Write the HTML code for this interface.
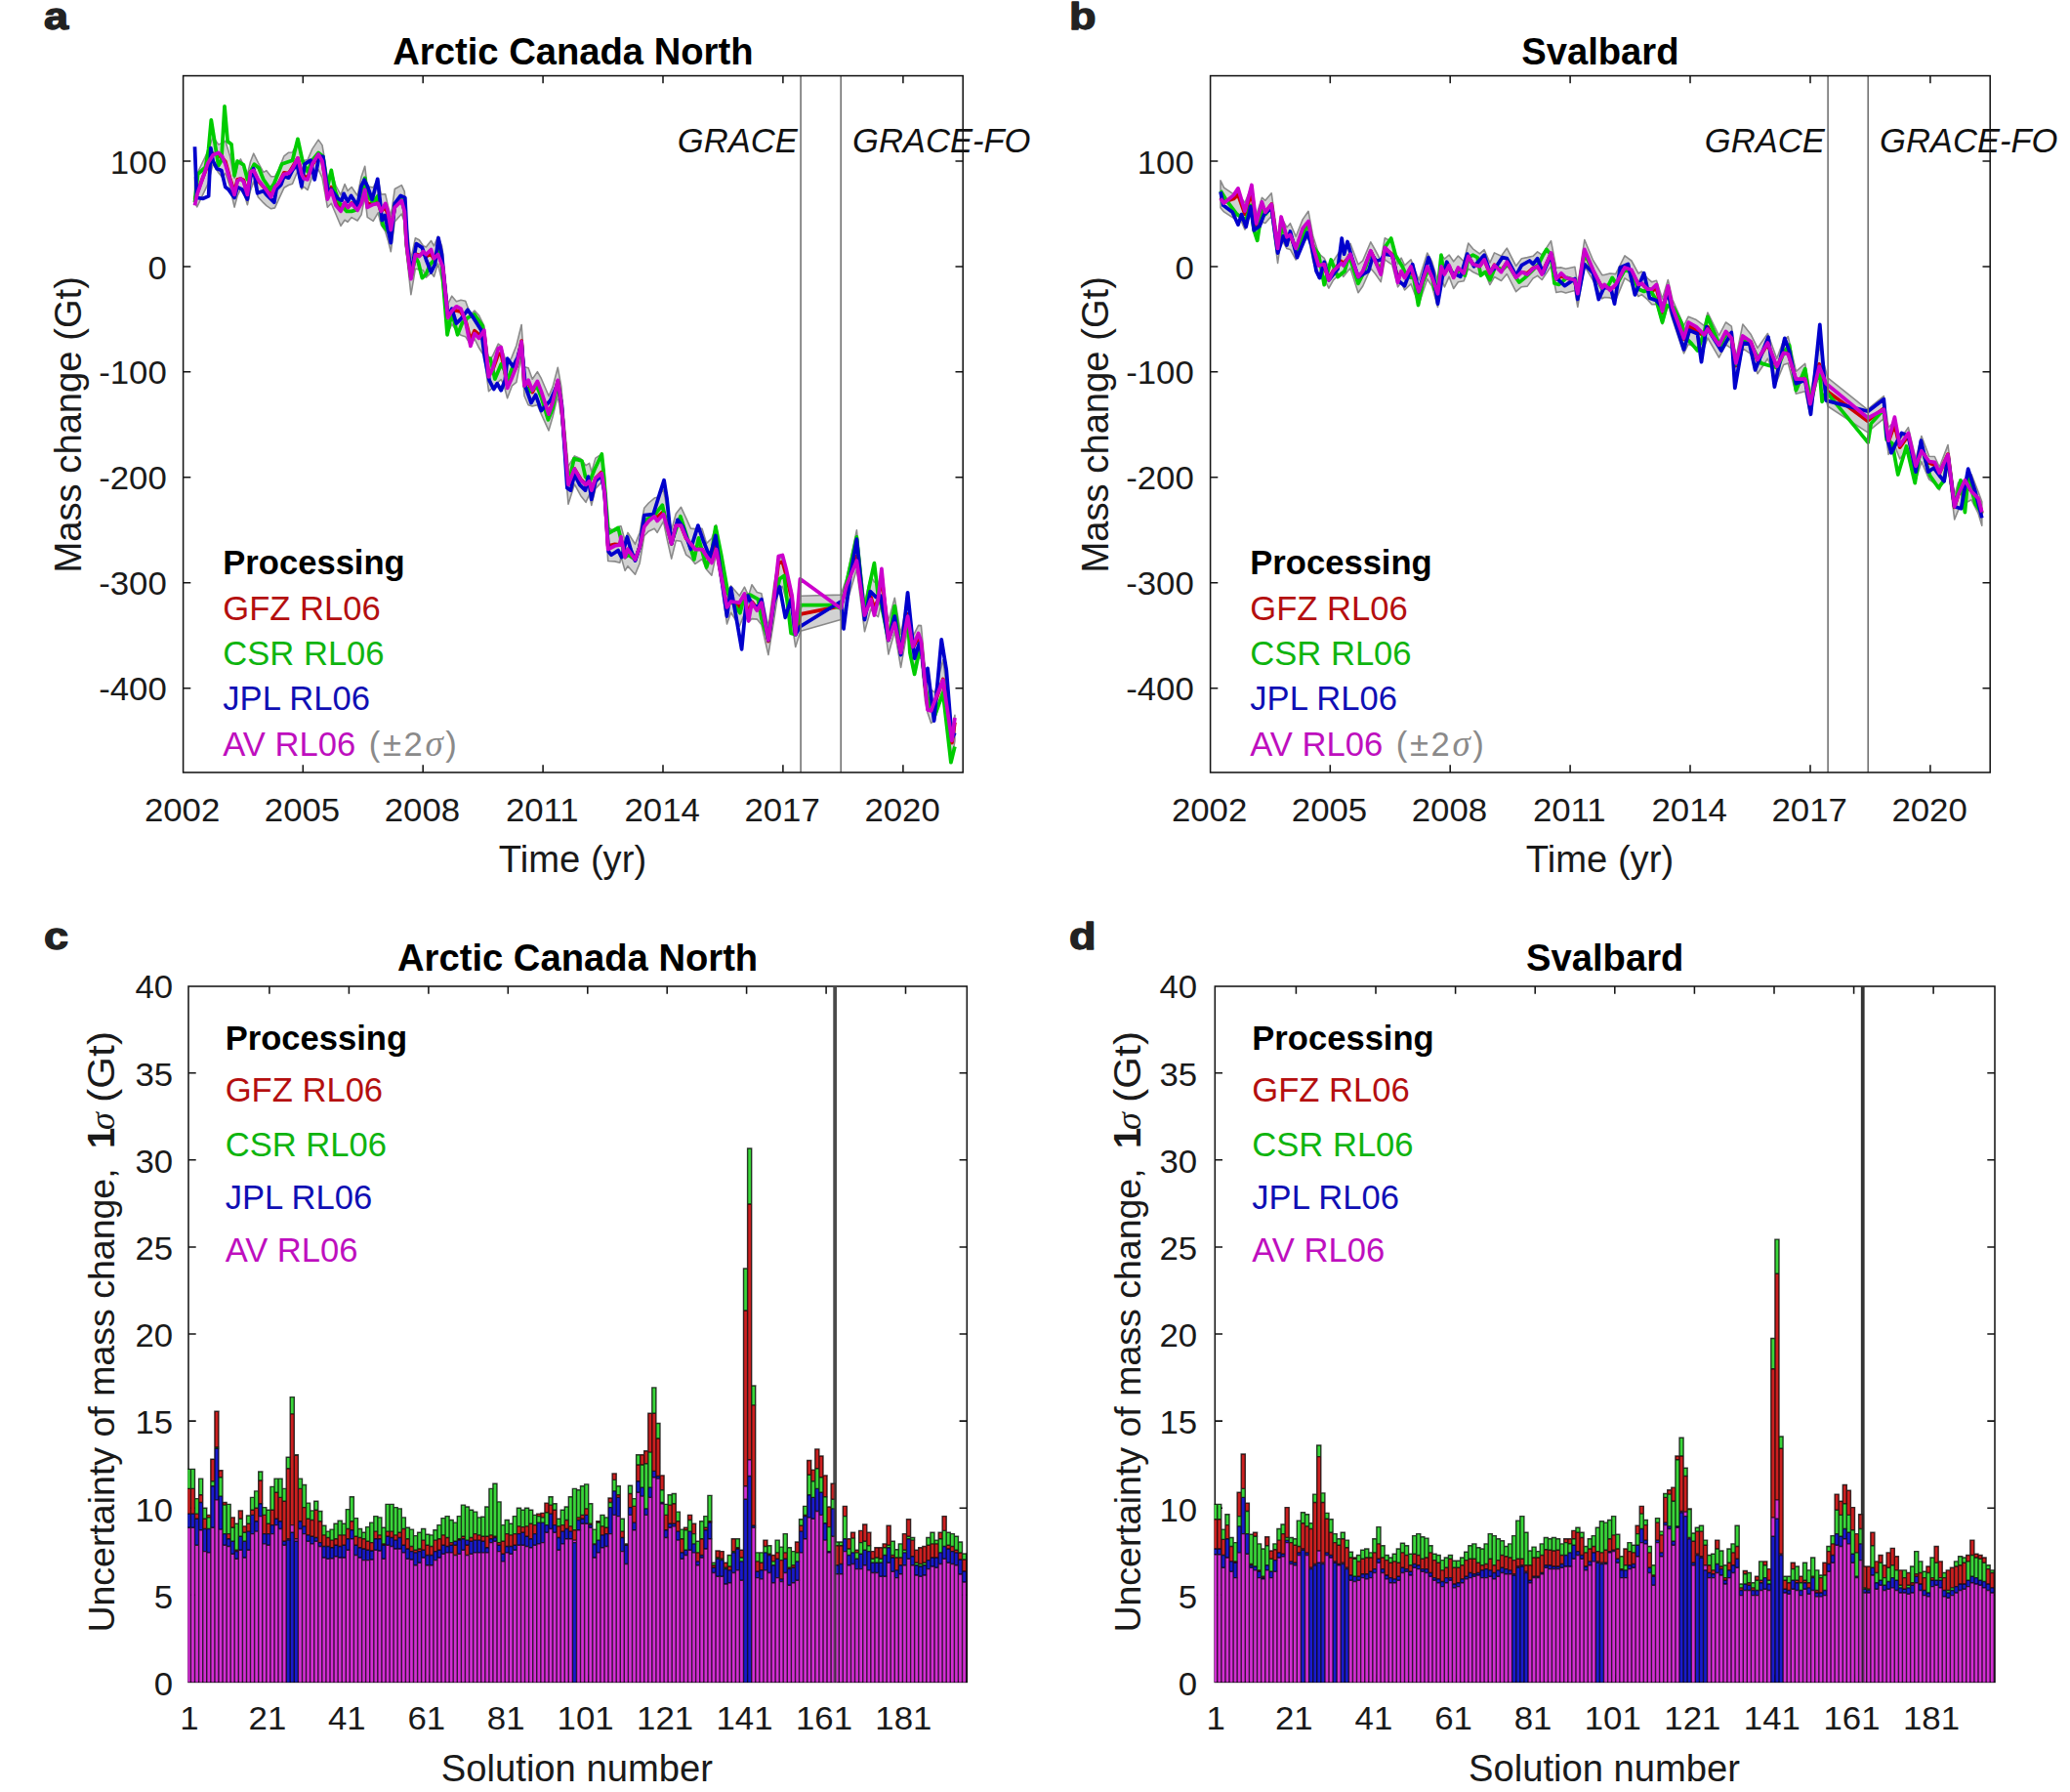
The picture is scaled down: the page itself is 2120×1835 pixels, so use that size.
<!DOCTYPE html>
<html lang="en"><head><meta charset="utf-8"><title>GRACE mass change</title>
<style>html,body{margin:0;padding:0;background:#fff}svg{display:block}</style></head><body>
<svg width="2120" height="1835" viewBox="0 0 2120 1835">
<rect width="2120" height="1835" fill="#fff"/>
<path d="M199.5 181.4 L201.8 178 L212.8 155.1 L218.2 140.3 L223.7 148 L227.6 146.6 L230.8 144.3 L235.4 159.2 L240.1 182.5 L243.2 169.6 L246.4 162.9 L249.5 169 L253.4 178.6 L256.5 165.5 L259.7 157.2 L264.3 166.3 L269.8 176.4 L272.9 174.7 L277.6 180.8 L281.5 180.8 L285.4 173.6 L290.9 159.8 L295.6 156.2 L299.5 156 L305 145.8 L308.9 161.6 L311.2 164.6 L315.1 163.6 L319.8 152.6 L326.1 143.1 L330 148.6 L333.1 166.5 L335.4 184.1 L339.3 173.7 L344 190.4 L349 199.6 L353.1 188.6 L356.1 195.4 L360.1 191.5 L366.1 200.4 L370.1 180.9 L373.7 170.2 L376.2 190.9 L382.2 192 L387.2 183.5 L390.2 199 L394.7 198.8 L397.3 210.7 L400.3 221.4 L404.3 193.5 L411.3 189.6 L414.3 196.1 L416.3 226.7 L420.9 265.4 L425.4 243.7 L429.4 245.7 L433.4 251.6 L436.4 253 L441.5 246.5 L444.5 251.9 L448.5 242 L452.5 251.8 L453.5 258.5 L458.7 311.3 L462.8 303.2 L467.4 308.7 L472 307.2 L476.7 308.2 L481.9 322.4 L486 318 L490.6 323 L495.8 333.6 L500.5 368.8 L504.5 364.6 L510.3 352.2 L513.2 354.2 L516.1 363.3 L519.6 374.5 L524.3 365.3 L528.9 353.7 L534.1 332.5 L537 375.8 L541.1 376.7 L545.2 388.3 L550.4 380.6 L554.4 387.7 L562 405.5 L566 396.4 L571.3 376.3 L574.8 396 L582 477.7 L588.4 466.9 L594.8 469.8 L600 476.7 L603.5 474.3 L605.8 483.1 L609.9 469.1 L616.3 464.9 L619.2 485.9 L622.7 540.1 L629.6 544.2 L634.9 538.7 L636 538.7 L640.1 553.8 L643 545.4 L650.5 557.3 L655.2 545.2 L659.8 520.2 L664.4 515 L670.2 510.1 L673.1 509.3 L679.5 501.6 L683 519.8 L687.7 542.6 L692.3 525.9 L697.5 519.3 L702.7 530.6 L707.4 541.1 L712 541.6 L719 541.2 L723.6 556.4 L728.9 551.4 L733.5 537.6 L738.7 572.1 L744.5 606.9 L748.6 599.9 L757.3 610.1 L762.5 601.1 L766.6 610.2 L770 598.7 L775.3 606.5 L779.9 607.8 L786.9 642.2 L792.7 598.6 L797.3 571.9 L801.4 571.9 L805.4 583.5 L811.2 607.2 L814.7 635.1 L819.9 610.2 L861.1 609.1 L866.9 592.4 L877.4 542.8 L885.5 616.8 L891.9 589.8 L895.4 596 L899.4 597.6 L902.9 588 L909.9 636.2 L916.3 612.2 L922.6 649.1 L929.6 612.1 L934.8 652.2 L940.6 640.4 L943.4 640.6 L947.5 685.2 L950 695.6 L953.6 706.4 L957.6 709.1 L965.8 675.5 L974.9 748 L977.9 732.3 L977.9 758.8 L974.9 776.4 L965.8 704 L957.6 737.1 L953.6 740.5 L950 729.7 L947.5 717.9 L943.4 675.1 L940.6 671.8 L934.8 685.1 L929.6 643.8 L922.6 683.4 L916.3 646.6 L909.9 670 L902.9 615.6 L899.4 631.6 L895.4 628.7 L891.9 623.8 L885.5 646.7 L877.4 582.5 L866.9 618.7 L861.1 634.6 L819.9 646.2 L814.7 662.5 L811.2 638.7 L805.4 615.2 L801.4 600.4 L797.3 604.5 L792.7 634.6 L786.9 670.5 L779.9 639.7 L775.3 634.1 L770 633.6 L766.6 637 L762.5 628.5 L757.3 641.1 L748.6 627.3 L744.5 638.9 L738.7 598.7 L733.5 567.4 L728.9 589.2 L723.6 583.3 L719 572.5 L712 577.4 L707.4 571.5 L702.7 568.1 L697.5 554.3 L692.3 553.5 L687.7 572.1 L683 551.4 L679.5 533.8 L673.1 545.3 L670.2 541.2 L664.4 543.9 L659.8 548.7 L655.2 576.7 L650.5 588.2 L643 579.7 L640.1 584.4 L636 570 L634.9 576.2 L629.6 574.9 L622.7 574.5 L619.2 514.9 L616.3 493.4 L609.9 500.4 L605.8 517.4 L603.5 506.5 L600 514.3 L594.8 507.7 L588.4 495.8 L582 516.3 L574.8 426.7 L571.3 405.1 L566 427 L562 440.9 L554.4 424.1 L550.4 414.8 L545.2 415.9 L541.1 414.8 L537 405.5 L534.1 363.4 L528.9 391.4 L524.3 395.2 L519.6 407.7 L516.1 394.3 L513.2 388.5 L510.3 391.1 L504.5 397 L500.5 400.6 L495.8 364.5 L490.6 356.3 L486 346.9 L481.9 353.2 L476.7 344.7 L472 343.2 L467.4 338.8 L462.8 331.8 L458.7 340.9 L453.5 295.3 L452.5 287.1 L448.5 270 L444.5 283.2 L441.5 279.3 L436.4 284.2 L433.4 276.7 L429.4 275.9 L425.4 275.2 L420.9 301.6 L416.3 259.4 L414.3 227.6 L411.3 219 L404.3 227 L400.3 257.7 L397.3 245.9 L394.7 237.2 L390.2 230 L387.2 217.8 L382.2 226.4 L376.2 222.4 L373.7 201.4 L370.1 219.9 L366.1 226 L360.1 222.6 L356.1 227.2 L353.1 225.3 L349 231.3 L344 219.2 L339.3 208.3 L335.4 212.3 L333.1 199.3 L330 182.2 L326.1 173.5 L319.8 180.6 L315.1 194.5 L311.2 191.4 L308.9 193.6 L305 174.7 L299.5 188.2 L295.6 189.5 L290.9 192.3 L285.4 204.2 L281.5 212.9 L277.6 213.8 L272.9 210.6 L269.8 207.7 L264.3 201.8 L259.7 186.1 L256.5 195.2 L253.4 209.8 L249.5 196.6 L246.4 193.7 L243.2 200.3 L240.1 212.1 L235.4 191.2 L230.8 177.5 L227.6 181.4 L223.7 176.8 L218.2 167.8 L212.8 188.6 L201.8 211.9 L199.5 206.7Z" fill="#d2d2d2" stroke="#8a8a8a" stroke-width="1.6" stroke-linejoin="round"/>
<polyline points="199.5,204.1 201.8,197.3 212.8,168.7 218.2,157.3 223.7,158.9 227.6,161.8 230.8,165.4 235.4,182.2 240.1,196.9 243.2,183.9 246.4,183.1 249.5,184.4 253.4,199.4 256.5,175.7 259.7,174.4 264.3,185.1 269.8,191.3 272.9,194.1 277.6,200.1 281.5,192.2 285.4,187.9 290.9,176.9 295.6,177.7 299.5,171.2 305,161.9 308.9,176.6 311.2,180.1 315.1,182.2 319.8,168.8 326.1,159.4 330,164.8 333.1,183 335.4,202 339.3,191.8 344,208 349,213.7 353.1,207.9 356.1,212.6 360.1,207.9 366.1,213.8 370.1,206.5 373.7,193 376.2,209.1 382.2,208.4 387.2,206.4 390.2,216.4 394.7,212.1 397.3,219.9 400.3,236.7 404.3,210.7 411.3,205.2 414.3,214.8 416.3,248.8 420.9,284 425.4,259.9 429.4,261.6 433.4,259.2 436.4,262.5 441.5,260.1 444.5,265.5 448.5,258.3 452.5,270 453.5,273.7 458.7,325.6 462.8,318.4 467.4,318 472,319.3 476.7,327.8 481.9,348.5 486,338.8 490.6,342.7 495.8,341.2 500.5,383.9 504.5,378.9 510.3,362.7 513.2,361.9 516.1,375.5 519.6,394.6 524.3,384.1 528.9,375 534.1,349.1 537,392.9 541.1,391.8 545.2,401.6 550.4,392.1 554.4,404.1 562,424.2 566,411.9 571.3,390.2 574.8,413.3 582,496.4 588.4,480.1 594.8,490.8 600,496.1 603.5,493.9 605.8,502.6 609.9,489.8 616.3,483.4 619.2,502.8 622.7,559.1 629.6,557.4 634.9,557.9 636,552.6 640.1,568.3 643,562.5 650.5,573.5 655.2,559.7 659.8,537.6 664.4,531.8 670.2,528.7 673.1,529.5 679.5,524 683,537.1 687.7,556.9 692.3,538 697.5,538.2 702.7,551.4 707.4,556.9 712,562.2 719,562.2 723.6,570.2 728.9,574.4 733.5,559.4 738.7,589.1 744.5,621.9 748.6,614.1 757.3,622.3 762.5,610.6 766.6,629.9 770,616.2 775.3,622.8 779.9,619.5 786.9,656.6 792.7,613.2 797.3,576.1 801.4,575.3 805.4,589.7 811.2,614.8 814.7,649.1 819.9,628.8 861.1,620.7 866.9,600.9 877.4,569.5 885.5,629.3 891.9,611.2 895.4,622.9 899.4,613.9 902.9,588.9 909.9,655 916.3,635.8 922.6,668 929.6,628.9 934.8,663.3 940.6,652.5 943.4,659 947.5,702.2 950,722.5 953.6,726.3 957.6,719.3 965.8,695.5 974.9,760.7 977.9,739.7" fill="none" stroke="#cc0000" stroke-width="3.75" stroke-linejoin="round" stroke-linecap="butt" />
<polyline points="199.5,207.2 202.6,178.3 210.4,171.2 213.6,152.5 216.3,122.8 219.8,144.7 223.7,169.7 226.8,164.2 230,108.8 233.1,144.7 237,147.8 240.1,179.8 243.2,165 249.5,168.9 253.4,183.8 256.5,175.9 260.4,168.1 265.1,172 269.8,183.8 276.8,193.9 280.8,187.7 288.6,168.1 299.5,164.2 305,142.3 309.7,164.2 315.1,175.9 319.8,164.2 326.1,156.4 330.8,160.3 335.4,191.6 339.3,174.4 343.2,195.5 348,208.4 355.1,216.4 360.1,216.4 366.1,214.4 370.1,196.3 373.7,182.3 376.2,200.4 382.2,207.4 387.2,200.4 392.2,230.5 396.3,235.5 400.3,240.5 404.3,210.4 411.3,204.4 414.3,216.4 416.3,250.6 420.9,284.7 425.4,262.6 428.4,268.7 432.4,284.7 436.4,280.7 440.5,270.7 445.5,265.7 449,250.6 452.5,270.7 453.5,284.8 458.1,342.8 462.8,319.6 468.6,342.8 473.2,331.2 479,325.4 486,322 494.1,333.6 498.7,366 502.2,367.2 506.9,388.1 513.2,373 516.1,377.7 519.6,389.3 524.3,377.7 528.9,375.3 534.1,351 537,395.1 542.8,400.9 549.8,395.1 554.4,406.7 561.4,429.9 566,418.3 571.3,390.4 574.8,412.5 582,496.3 587.9,469.6 596,472 599.5,488.2 604.1,492.8 608.7,481.2 616.3,465 618,481.2 623.2,546.2 633.1,540.4 635.4,549.7 640.1,570.6 643.6,568.3 650.5,572.9 655.2,560.1 659.8,533.5 670.2,527.7 678.4,517.2 683,539.3 687.7,555.5 696.9,528.8 703.9,550.9 710.9,572.9 715.5,550.9 723.6,581 729.4,562.5 732.9,539.3 738.7,568.3 745.7,608 749.7,616 757.9,627.7 762.5,610.2 768.3,609.1 776.4,613.7 779.9,633.5 786.9,655.5 792.7,616 798.5,592.8 803.1,589.4 810.1,648.5 814.7,649.7 819.9,619.5 851.9,619.5 861.1,623 866.9,597.5 877.4,549.9 885.5,630 890.1,601 895.4,576.6 899.4,610.2 902.9,620.7 909.9,655.5 916.3,620.7 922.6,668.3 929.6,631.1 931.9,668.3 936.6,690.3 942.4,662.5 943.4,660.9 947.5,701.5 951.5,721.9 957.6,732 965.8,709.7 973.9,780.7 977.9,764.5" fill="none" stroke="#00cc00" stroke-width="3.75" stroke-linejoin="round" stroke-linecap="butt" />
<polyline points="199.5,150.2 201.5,202.5 208.1,203.3 213.6,200.9 215.9,151.7 218.2,165 222.2,172.8 226.8,174.4 230.8,191.6 233.9,193.9 237.8,199.4 240.1,202.5 243.2,191.6 247.9,193.9 253.4,204.1 256.5,182.2 259.7,172.8 263.6,197.8 269.8,195.5 272.9,199.4 280.8,207.2 283.1,193.9 287.8,189.2 290.9,180.6 295.6,182.2 299.5,174.4 304.2,168.1 308.9,190.8 312,168.1 318.2,164.2 322.2,183.8 326.8,160.3 330.8,160.3 333.9,183.8 336.2,195.5 339.3,193.9 346,203.4 350,205.4 352.1,198.4 356.1,206.4 359.6,200.4 366.1,210.4 370.1,190.3 373.1,184.3 376.2,190.3 381.2,204.4 386.7,183.3 389.2,205.4 391.2,225.5 394.2,220.5 400.3,248.6 404.3,208.4 410.3,200.4 414.8,202.4 417.3,250.6 420.9,280.7 426.4,249.6 432.4,253.6 436.4,265.7 441.5,278.7 445.5,270.7 449,243.6 452.5,260.6 453.5,273.2 458.7,324.3 462.8,316.1 467.4,331.2 472,326.6 479,317.3 484.8,325.4 492.9,338.2 496.4,366 501.1,389.3 505.7,398.5 509.2,392.7 513.2,399.7 517.3,389.3 519.6,367.2 525.4,375.3 530.1,366 534.1,352.1 538.2,396.2 544,412.5 548.6,404.3 554.4,420.6 563.7,410.1 571.3,392.7 575.3,414.8 580.9,499.8 584.4,502.1 588.4,485.9 593.7,496.3 599.5,502.1 602.4,488.2 605.8,511.4 609.9,492.8 615.7,487 619.2,504.4 623.2,564.8 626.1,568.3 633.1,563.6 636.6,570.6 642.4,549.7 645.9,562.5 650.5,574.1 655.2,560.1 659.8,527.7 669.1,526.5 676,504.4 680.1,491.7 683,510.2 687.7,556.7 694,532.3 699.3,539.3 707.4,562.5 710.9,550.9 714.9,538.1 720.1,553.2 727.1,570.6 732.9,548.5 738.7,590.3 744.5,631.1 748.6,602.1 753.2,627.7 759.6,664.8 763.7,621.9 766,610.2 770.6,619.5 776.4,621.9 779.9,613.7 786.9,655.5 792.7,616 798.5,601 804.3,632.3 810.1,613.7 814.7,649.7 819.4,641.6 861.1,616 864,643.9 870.4,592.8 877.4,552.2 885.5,634.6 891.3,605.6 897.1,611.4 901.8,610.2 909.9,655.5 916.3,631.1 922.6,670.6 929.6,606.8 936.6,674.1 941.4,658.9 944.4,671.1 947.5,701.5 950,684.3 956.6,738.1 964.2,654.8 969.3,686.3 974.9,756.4 977.9,750.3" fill="none" stroke="#0000cc" stroke-width="3.75" stroke-linejoin="round" stroke-linecap="butt" />
<polyline points="199.5,210.3 201.8,199.4 212.8,167.3 218.2,158.8 223.7,156.4 227.6,160.3 230.8,168.1 235.4,183.8 240.1,199.4 243.2,185.3 246.4,183 249.5,186.1 253.4,199.4 256.5,175.9 259.7,174.4 264.3,183.8 269.8,190.8 272.9,194.7 277.6,201.7 281.5,191.6 285.4,187.7 290.9,178.3 295.6,177.5 299.5,172.8 305,161.9 308.9,178.3 311.2,183 315.1,183.8 319.8,168.1 326.1,158 330,165 333.1,183.8 335.4,204.1 339.3,194.7 344,210.4 349,216.4 353.1,207.4 356.1,212.4 360.1,208.4 366.1,215.4 370.1,208.4 373.7,194.3 376.2,212.4 382.2,209.4 387.2,208.4 390.2,216.4 394.7,208.4 397.3,216.4 400.3,235.5 404.3,212.4 411.3,205.4 414.3,216.4 416.3,250.6 420.9,285.7 425.4,260.6 429.4,262.6 433.4,257.6 436.4,260.6 441.5,255.6 444.5,264.7 448.5,260.6 452.5,270.7 453.5,273.2 458.7,325.4 462.8,318.5 467.4,313.8 472,316.1 476.7,328.9 481.9,354.4 486,341.7 490.6,346.3 495.8,338.2 500.5,385.8 504.5,377.7 510.3,356.8 513.2,355.6 516.1,371.9 519.6,397.4 524.3,386.9 528.9,375.3 534.1,349.8 537,395.1 541.1,389.3 545.2,399.7 550.4,390.4 554.4,400.9 562,424.1 566,412.5 571.3,389.3 574.8,412.5 582,496.3 588.4,480.1 594.8,491.7 600,496.3 603.5,492.8 605.8,502.1 609.9,489.4 616.3,484.7 619.2,504.4 622.7,562.5 629.6,559 634.9,557.8 636,549.7 640.1,570.6 643,562.5 650.5,572.9 655.2,560.1 659.8,539.3 664.4,533.5 670.2,528.8 673.1,533.5 679.5,526.5 683,539.3 687.7,556.7 692.3,538.1 697.5,538.1 702.7,550.9 707.4,556.7 712,562.5 719,562.5 723.6,569.4 728.9,576.4 733.5,562.5 738.7,590.3 744.5,621.9 748.6,616 757.3,617.2 762.5,607.9 766.6,635.8 770,617.2 775.3,625.3 779.9,617.2 786.9,655.5 792.7,613.7 797.3,569.6 801.4,568.5 805.4,583.6 811.2,610.2 814.7,649.7 819.4,592.8 861.1,623 866.9,599.8 877.4,574.3 885.5,630 891.9,613.7 895.4,630 899.4,613.7 902.9,582.4 909.9,655.5 916.3,638.1 922.6,668.3 929.6,631.1 934.8,662.5 940.6,648.5 943.4,656.9 947.5,701.5 950,726.9 953.6,727.9 957.6,716.8 965.8,696.5 974.9,758.4 977.9,735.1" fill="none" stroke="#cc00cc" stroke-width="3.75" stroke-linejoin="round" stroke-linecap="butt" />
<line x1="820.1" y1="77.6" x2="820.1" y2="791" stroke="#737373" stroke-width="1.6"/>
<line x1="861.2" y1="77.6" x2="861.2" y2="791" stroke="#737373" stroke-width="1.6"/>
<rect x="187.6" y="77.6" width="798.6" height="713.4" fill="none" stroke="#151515" stroke-width="1.55"/>
<path d="M310.3 791v-7.7M310.3 77.6v7.7M433.2 791v-7.7M433.2 77.6v7.7M556.1 791v-7.7M556.1 77.6v7.7M679 791v-7.7M679 77.6v7.7M801.9 791v-7.7M801.9 77.6v7.7M924.9 791v-7.7M924.9 77.6v7.7M187.6 164.9h7.7M986.2 164.9h-7.7M187.6 272.9h7.7M986.2 272.9h-7.7M187.6 380.8h7.7M986.2 380.8h-7.7M187.6 488.8h7.7M986.2 488.8h-7.7M187.6 596.8h7.7M986.2 596.8h-7.7M187.6 704.7h7.7M986.2 704.7h-7.7" stroke="#151515" stroke-width="1.55" fill="none"/>
<text transform="translate(186.6 841) scale(1.03 1)" font-size="33.8" text-anchor="middle" font-weight="normal" font-style="normal" fill="#1a1a1a" font-family='"Liberation Sans", Arial, Helvetica, sans-serif' >2002</text>
<text transform="translate(309.5 841) scale(1.03 1)" font-size="33.8" text-anchor="middle" font-weight="normal" font-style="normal" fill="#1a1a1a" font-family='"Liberation Sans", Arial, Helvetica, sans-serif' >2005</text>
<text transform="translate(432.4 841) scale(1.03 1)" font-size="33.8" text-anchor="middle" font-weight="normal" font-style="normal" fill="#1a1a1a" font-family='"Liberation Sans", Arial, Helvetica, sans-serif' >2008</text>
<text transform="translate(555.3 841) scale(1.03 1)" font-size="33.8" text-anchor="middle" font-weight="normal" font-style="normal" fill="#1a1a1a" font-family='"Liberation Sans", Arial, Helvetica, sans-serif' >2011</text>
<text transform="translate(678.2 841) scale(1.03 1)" font-size="33.8" text-anchor="middle" font-weight="normal" font-style="normal" fill="#1a1a1a" font-family='"Liberation Sans", Arial, Helvetica, sans-serif' >2014</text>
<text transform="translate(801.1 841) scale(1.03 1)" font-size="33.8" text-anchor="middle" font-weight="normal" font-style="normal" fill="#1a1a1a" font-family='"Liberation Sans", Arial, Helvetica, sans-serif' >2017</text>
<text transform="translate(924.1 841) scale(1.03 1)" font-size="33.8" text-anchor="middle" font-weight="normal" font-style="normal" fill="#1a1a1a" font-family='"Liberation Sans", Arial, Helvetica, sans-serif' >2020</text>
<text transform="translate(170.8 177.5) scale(1.03 1)" font-size="33.8" text-anchor="end" font-weight="normal" font-style="normal" fill="#1a1a1a" font-family='"Liberation Sans", Arial, Helvetica, sans-serif' >100</text>
<text transform="translate(170.8 285.5) scale(1.03 1)" font-size="33.8" text-anchor="end" font-weight="normal" font-style="normal" fill="#1a1a1a" font-family='"Liberation Sans", Arial, Helvetica, sans-serif' >0</text>
<text transform="translate(170.8 393.4) scale(1.03 1)" font-size="33.8" text-anchor="end" font-weight="normal" font-style="normal" fill="#1a1a1a" font-family='"Liberation Sans", Arial, Helvetica, sans-serif' >-100</text>
<text transform="translate(170.8 501.4) scale(1.03 1)" font-size="33.8" text-anchor="end" font-weight="normal" font-style="normal" fill="#1a1a1a" font-family='"Liberation Sans", Arial, Helvetica, sans-serif' >-200</text>
<text transform="translate(170.8 609.4) scale(1.03 1)" font-size="33.8" text-anchor="end" font-weight="normal" font-style="normal" fill="#1a1a1a" font-family='"Liberation Sans", Arial, Helvetica, sans-serif' >-300</text>
<text transform="translate(170.8 717.3) scale(1.03 1)" font-size="33.8" text-anchor="end" font-weight="normal" font-style="normal" fill="#1a1a1a" font-family='"Liberation Sans", Arial, Helvetica, sans-serif' >-400</text>
<text x="586.9" y="65.5" font-size="38.2" text-anchor="middle" font-weight="bold" font-style="normal" fill="#000" font-family='"Liberation Sans", Arial, Helvetica, sans-serif' >Arctic Canada North</text>
<text x="586.5" y="893.3" font-size="38.2" text-anchor="middle" font-weight="normal" font-style="normal" fill="#1a1a1a" font-family='"Liberation Sans", Arial, Helvetica, sans-serif' >Time (yr)</text>
<text transform="translate(83.3 434.8) rotate(-90)" font-size="38.2" text-anchor="middle" fill="#1a1a1a" font-family='"Liberation Sans", Arial, Helvetica, sans-serif'>Mass change (Gt)</text>
<text x="693.8" y="156.2" font-size="34.6" text-anchor="start" font-weight="normal" font-style="italic" fill="#111" font-family='"Liberation Sans", Arial, Helvetica, sans-serif' >GRACE</text>
<text x="873" y="156.2" font-size="34.6" text-anchor="start" font-weight="normal" font-style="italic" fill="#111" font-family='"Liberation Sans", Arial, Helvetica, sans-serif' >GRACE-FO</text>
<text x="228.3" y="588.1" font-size="34.6" text-anchor="start" font-weight="bold" font-style="normal" fill="#000" font-family='"Liberation Sans", Arial, Helvetica, sans-serif' >Processing</text>
<text x="228.3" y="634.6" font-size="34.6" text-anchor="start" font-weight="normal" font-style="normal" fill="#b40f0f" font-family='"Liberation Sans", Arial, Helvetica, sans-serif' >GFZ RL06</text>
<text x="228.3" y="681.2" font-size="34.6" text-anchor="start" font-weight="normal" font-style="normal" fill="#0fb40f" font-family='"Liberation Sans", Arial, Helvetica, sans-serif' >CSR RL06</text>
<text x="228.3" y="727.2" font-size="34.6" text-anchor="start" font-weight="normal" font-style="normal" fill="#0f0fb4" font-family='"Liberation Sans", Arial, Helvetica, sans-serif' >JPL RL06</text>
<text x="228.3" y="774.1" font-size="34.6" text-anchor="start" font-weight="normal" font-style="normal" fill="#be0fbe" font-family='"Liberation Sans", Arial, Helvetica, sans-serif' >AV RL06</text>
<text x="377.8" y="774.1" font-size="34.6" font-family='"Liberation Sans", Arial, Helvetica, sans-serif' fill="#8a8a8a" textLength="90" lengthAdjust="spacing">(±2<tspan font-style="italic" font-family='"Liberation Serif","DejaVu Serif",serif' font-size="37">σ</tspan>)</text>
<text x="45" y="30.4" font-size="38.5" font-weight="bold" fill="#222" stroke="#222" stroke-width="1.3" stroke-linejoin="round" font-family='"Liberation Sans", Arial, Helvetica, sans-serif' transform="translate(45 0) scale(1.17 1) translate(-45 0)">a</text>
<path d="M1250 184.9 L1253.5 192.2 L1263.4 198.9 L1268 199.1 L1275 207.5 L1281.9 190.6 L1286.6 220.5 L1292.4 202.4 L1295.9 205.3 L1302.2 197.8 L1308.6 243.5 L1312.1 222.2 L1317.9 232.9 L1321.4 228.7 L1327.2 242.2 L1334.2 224.6 L1340 216.3 L1344.6 241.2 L1350.4 259.6 L1356.2 264.4 L1360.9 274.1 L1365.5 267.4 L1373.6 255 L1375.9 258.4 L1382.9 249.3 L1391 270.8 L1395.7 266.9 L1403.8 247.8 L1408.4 256 L1414.2 266.8 L1418.3 243.7 L1425.8 247.8 L1431.6 270.4 L1435.1 264.1 L1438.6 271.8 L1445 265.9 L1453.1 286.8 L1461.8 259.1 L1466.5 267.7 L1472.5 287.6 L1476 260.7 L1479.4 265.1 L1484.1 261 L1488.7 267.8 L1493.4 262.1 L1499.2 267.7 L1503.8 249 L1508.5 254.8 L1515.4 259.9 L1520.1 255.7 L1525.9 269.1 L1530.5 258.9 L1537.5 262.3 L1543.3 254.1 L1552.6 272.4 L1558.4 264.7 L1564.2 263.6 L1570 262.3 L1574.6 257.9 L1579.2 261 L1588.5 246.6 L1593.8 274.4 L1599 273.9 L1603.6 275.2 L1612.9 273.2 L1615.8 292 L1622.8 245.6 L1631.5 266.5 L1640.8 281.6 L1643.1 281.5 L1648.9 280 L1654.7 280.6 L1664 261.8 L1670.9 267 L1677.9 280 L1681.4 278 L1687.2 284.8 L1691.8 288.8 L1696.5 287.2 L1702.5 305.9 L1708.3 286.5 L1712.9 306.7 L1724.5 333.3 L1729.2 324.2 L1737.3 327.6 L1745.4 333.6 L1748.9 320.1 L1760.5 343.6 L1767.5 330 L1773.3 334.1 L1777.9 366.2 L1784.9 332 L1793 342.2 L1800 356.4 L1810.4 341.5 L1819.7 367.2 L1826.7 348.3 L1831.3 344.7 L1839.4 380.3 L1848.7 372.4 L1853.9 404.5 L1863.2 354.9 L1871.9 386.9 L1912.5 419.4 L1929.3 405.5 L1934.1 437.7 L1940.4 431.4 L1945.7 450.1 L1954.4 437.7 L1962.1 469.9 L1967.9 446.5 L1975.7 467.2 L1981.4 467.5 L1986.3 478.4 L1995 455.6 L2001.7 507.2 L2005.6 494 L2012.4 491.8 L2019.1 485.9 L2025.9 503.2 L2029.8 513.7 L2029.8 538.3 L2025.9 525.3 L2019.1 511.8 L2012.4 515.2 L2005.6 522.4 L2001.7 531.9 L1995 476.3 L1986.3 501.7 L1981.4 495.1 L1975.7 490.9 L1967.9 472.8 L1962.1 491.6 L1954.4 459.8 L1945.7 469.8 L1940.4 456.3 L1934.1 465.4 L1929.3 428.7 L1912.5 442.6 L1871.9 416 L1863.2 376 L1853.9 425.7 L1848.7 400.7 L1839.4 403.2 L1831.3 371.9 L1826.7 373.5 L1819.7 390.4 L1810.4 367.2 L1800 382.7 L1793 362.3 L1784.9 356.8 L1777.9 389.4 L1773.3 356.9 L1767.5 352.9 L1760.5 366.1 L1748.9 346 L1745.4 356.1 L1737.3 355.6 L1729.2 352.5 L1724.5 361.8 L1712.9 327.3 L1708.3 312.4 L1702.5 331.7 L1696.5 311.6 L1691.8 311.8 L1687.2 306.7 L1681.4 301.6 L1677.9 303.6 L1670.9 289.4 L1664 284.9 L1654.7 307.5 L1648.9 304.9 L1643.1 304.5 L1640.8 305.8 L1631.5 287 L1622.8 272.4 L1615.8 314.3 L1612.9 297.4 L1603.6 299.9 L1599 298.5 L1593.8 299.5 L1588.5 272.8 L1579.2 286.5 L1574.6 282.4 L1570 285.1 L1564.2 293.1 L1558.4 293.7 L1552.6 298.7 L1543.3 280.5 L1537.5 287.5 L1530.5 283.5 L1525.9 291.6 L1520.1 277.8 L1515.4 281.7 L1508.5 278.5 L1503.8 275.2 L1499.2 287.7 L1493.4 288.7 L1488.7 295.5 L1484.1 283.3 L1479.4 293.8 L1476 284.7 L1472.5 314.5 L1466.5 292.9 L1461.8 285.7 L1453.1 311.5 L1445 290.7 L1438.6 297 L1435.1 289.1 L1431.6 293.9 L1425.8 271.2 L1418.3 265.8 L1414.2 288.6 L1408.4 280.2 L1403.8 274.7 L1395.7 293 L1391 299.7 L1382.9 274.5 L1375.9 283.3 L1373.6 279 L1365.5 286.8 L1360.9 295.1 L1356.2 285.5 L1350.4 285.1 L1344.6 266.6 L1340 242.4 L1334.2 249.3 L1327.2 266 L1321.4 255.4 L1317.9 254.5 L1312.1 244.2 L1308.6 269.5 L1302.2 221.2 L1295.9 228.5 L1292.4 227.5 L1286.6 244.6 L1281.9 213.7 L1275 235.1 L1268 218.7 L1263.4 223.4 L1253.5 216.9 L1250 212.8Z" fill="#d2d2d2" stroke="#8a8a8a" stroke-width="1.6" stroke-linejoin="round"/>
<polyline points="1250,202.6 1253.5,207 1263.4,203.5 1268,199.3 1275,219.4 1281.9,196.1 1286.6,231.9 1292.4,210.4 1295.9,217.2 1302.2,209.1 1308.6,255.1 1312.1,225.7 1317.9,243.4 1321.4,240.9 1327.2,255.9 1334.2,236.2 1340,229.1 1344.6,251.8 1350.4,271.4 1356.2,273.8 1360.9,284.8 1365.5,277.3 1373.6,267.5 1375.9,270 1382.9,261.4 1391,285.4 1395.7,278.7 1403.8,257.4 1408.4,266.5 1414.2,278.6 1418.3,254.4 1425.8,260.5 1431.6,286.5 1435.1,278.3 1438.6,283.8 1445,274.4 1453.1,300.7 1461.8,273.6 1466.5,281.6 1472.5,301.3 1476,274 1479.4,279.6 1484.1,272.9 1488.7,283.6 1493.4,275.6 1499.2,278.9 1503.8,263.7 1508.5,270.3 1515.4,272.6 1520.1,265.9 1525.9,280.2 1530.5,271.3 1537.5,277.2 1543.3,269.1 1552.6,283.4 1558.4,278.8 1564.2,279.8 1570,274.6 1574.6,272.4 1579.2,279.9 1588.5,259.9 1593.8,285.9 1599,282.8 1603.6,284.8 1612.9,287.3 1615.8,301.8 1622.8,257.9 1631.5,277.6 1640.8,294.7 1643.1,292.2 1648.9,296 1654.7,292.8 1664,275.2 1670.9,277.8 1677.9,290.9 1681.4,290.3 1687.2,296.5 1691.8,298.3 1696.5,295 1702.5,320.1 1708.3,294.3 1712.9,316.7 1724.5,347.2 1729.2,333.4 1737.3,338.6 1745.4,344.3 1748.9,334.7 1760.5,354.1 1767.5,341.5 1773.3,345.1 1777.9,374.5 1784.9,345.1 1793,350.1 1800,369.3 1810.4,352 1819.7,376.7 1826.7,360.3 1831.3,360.6 1839.4,389.9 1848.7,387.1 1853.9,413.1 1863.2,372.8 1871.9,400.9 1912.5,431 1929.3,418.2 1934.1,452.2 1940.4,434.5 1945.7,458.1 1954.4,445.9 1962.1,479.5 1967.9,460.2 1975.7,474.1 1981.4,476.2 1986.3,484.7 1995,465.1 2001.7,519.4 2005.6,506.5 2012.4,496.4 2019.1,502.5 2025.9,511.3 2029.8,525.7" fill="none" stroke="#cc0000" stroke-width="3.75" stroke-linejoin="round" stroke-linecap="butt" />
<polyline points="1250,195.3 1256.4,205.7 1266.9,219.6 1276.1,225.4 1280.8,210.3 1284.3,235.9 1287.7,246.3 1292.4,215 1295.9,219.6 1302.2,211.5 1308.6,256.8 1313.3,231.2 1319.1,245.2 1322.6,242.8 1328.4,257.9 1335.3,238.2 1340,228.9 1344.6,252.1 1350.4,260.2 1356.2,291.6 1363.2,266 1370.1,283.5 1377.1,277.7 1381.7,261.4 1391,290.4 1396.8,278.8 1403.8,257.9 1409.6,269.5 1414.2,277.7 1418.3,253.3 1424.7,244 1429.3,261.4 1436.3,273 1440.9,283.5 1447.9,284.6 1452.5,312.5 1457.2,289.3 1463,275.3 1467,284.6 1469,296 1472.5,296 1476,261.2 1478.3,278.6 1484.1,272.8 1488.7,282.1 1494.5,276.3 1500.3,282.1 1503.8,263.6 1508.5,261.2 1513.1,263.6 1516.6,282.1 1521.2,278.6 1525.9,286.8 1531.7,272.8 1538.6,276.3 1544.4,270.5 1552.6,284.4 1556,289.1 1561.8,284.4 1570,276.3 1575.8,270.5 1580.4,261.2 1583.9,255.4 1588.5,261.2 1592,290.2 1596.7,291.4 1604.8,284.4 1612.9,286.8 1615.8,301.9 1622.8,258.9 1631.5,277.5 1640.8,296 1647.7,291.4 1651.2,284.4 1655.8,291.4 1664,276.3 1670.9,278.6 1677.9,296 1683.7,298.4 1689.5,296 1696.5,307.7 1699,317.3 1702.5,330.1 1707.1,312.7 1714.1,315 1722.2,331.2 1726.9,346.3 1732.7,352.1 1738.5,359.1 1745.4,340.5 1748.9,324.3 1754.7,338.2 1761.7,354.4 1768.6,340.5 1773.3,347.5 1777.9,373 1784.9,346.3 1793,352.1 1803.4,371.9 1815,375.3 1820.9,376.5 1826.7,361.4 1832.5,353.3 1839.4,399.7 1848.7,377.7 1854.5,412.5 1863.2,376.5 1866.1,411.3 1870.2,400.9 1913.1,453.1 1916.2,433.8 1929.3,419.3 1932.2,450.2 1938,454.1 1943.8,486 1952.5,457 1961.2,494.7 1967.4,456 1976.6,487 1985.3,499.5 1991.1,491.8 1995,467.6 2001.7,518.8 2008,491.8 2012.4,524.6 2015.7,487 2023,515.9 2029.8,525.6" fill="none" stroke="#00cc00" stroke-width="3.75" stroke-linejoin="round" stroke-linecap="butt" />
<polyline points="1250,196.4 1252.9,210.3 1262.2,217.3 1268,230.1 1271.5,219.6 1276.1,232.4 1280.8,211.5 1284.3,235.9 1290.1,231.2 1294.7,219.6 1302.2,212.7 1308.6,259.1 1314.4,241.7 1317.9,251 1321.4,237 1328.4,263.7 1334.2,249.8 1338.8,238.2 1343.4,252.1 1348.1,277.7 1351.6,284.6 1356.2,268.4 1360.9,286.9 1370.1,275.3 1374.2,244 1376.5,260.2 1380,247.5 1384.1,262.6 1391,283.5 1401.5,277.7 1406.1,262.6 1409.6,267.2 1414.2,266 1418.3,260.2 1425.8,261.4 1431.6,286.9 1438.6,292.7 1446.7,270.7 1453.1,298.5 1463,263.7 1467.6,277.7 1472.5,311.1 1477.1,284.4 1481.8,268.2 1486.4,278.6 1495.7,283.3 1502.7,260.1 1509.6,272.8 1520.1,261.2 1525.9,278.6 1531.7,274 1538.6,263.6 1543.3,264.7 1552.6,282.1 1558.4,271.7 1566.5,267 1570,270.5 1574.6,264.7 1580.4,279.8 1588.5,261.2 1593.8,284.4 1602.5,292.6 1612.9,285.6 1615.8,306.5 1622.8,270.5 1631.5,279.8 1637.3,306.5 1643.1,293.7 1650,296 1653.5,311.1 1659.3,274 1667.4,270.5 1674.4,301.9 1683.7,279.8 1689.5,305.3 1696.5,307.7 1702.5,315 1708.3,298.7 1712.9,322 1724.5,357.9 1730.3,338.2 1738.5,341.7 1742.5,370.7 1747.7,334.7 1762.8,359.1 1773.3,340.5 1776.8,397.4 1784.9,351 1791.8,352.1 1797.6,378.8 1811,345.2 1817.4,396.2 1827.8,346.3 1832.5,359.1 1839.4,392.7 1848.7,389.3 1854.5,424.1 1863.8,332.4 1870.2,410.1 1913.1,421.3 1929.3,408.7 1932.2,446.4 1937,463.8 1941.8,454.1 1947.6,443.5 1954.4,446.4 1962.1,483.1 1967.4,451.2 1974.7,483.1 1980.5,479.2 1986.3,487 1991.1,492.8 1995,467.6 2001.7,518.8 2008.5,520.8 2015.7,480.2 2023,503.4 2029.8,530.4" fill="none" stroke="#0000cc" stroke-width="3.75" stroke-linejoin="round" stroke-linecap="butt" />
<polyline points="1250,203.4 1253.5,208 1263.4,199.9 1268,192.9 1275,216.1 1281.9,189.5 1286.6,228.9 1292.4,206.9 1295.9,217.3 1302.2,209.2 1308.6,254.4 1312.1,222 1317.9,242.8 1321.4,240.5 1327.2,254.4 1334.2,233.6 1340,226.6 1344.6,252.1 1350.4,271.9 1356.2,270.7 1360.9,286.9 1365.5,277.7 1373.6,269.5 1375.9,271.9 1382.9,260.2 1391,283.5 1395.7,277.7 1403.8,256.8 1408.4,267.2 1414.2,281.1 1418.3,253.3 1425.8,261.4 1431.6,289.3 1435.1,277.7 1438.6,284.6 1445,273 1453.1,298.5 1461.8,273 1466.5,283.5 1472.5,300.7 1476,272.8 1479.4,281 1484.1,271.7 1488.7,284.4 1493.4,274 1499.2,279.8 1503.8,262.4 1508.5,270.5 1515.4,272.8 1520.1,265.9 1525.9,279.8 1530.5,271.7 1537.5,278.6 1543.3,268.2 1552.6,284.4 1558.4,278.6 1564.2,281 1570,275.2 1574.6,272.8 1579.2,281 1588.5,258.9 1593.8,285.6 1599,279.8 1603.6,284.4 1612.9,286.8 1615.8,300.7 1622.8,255.4 1631.5,276.3 1640.8,294.9 1643.1,291.4 1648.9,297.2 1654.7,291.4 1664,274 1670.9,276.3 1677.9,291.4 1681.4,290.2 1687.2,296 1691.8,296 1696.5,291.4 1702.5,318.5 1708.3,292.9 1712.9,315 1724.5,346.3 1729.2,330.1 1737.3,334.7 1745.4,342.8 1748.9,337 1760.5,353.3 1767.5,339.4 1773.3,346.3 1777.9,371.9 1784.9,344 1793,349.8 1800,368.4 1810.4,351 1819.7,375.3 1826.7,361.4 1831.3,362.6 1839.4,388.1 1848.7,388.1 1853.9,413.6 1863.2,375.3 1870.2,392.7 1913.1,428 1929.3,419.3 1934.1,451.2 1940.4,427.1 1945.7,456 1954.4,443.5 1962.1,477.3 1967.9,461.8 1975.7,472.5 1981.4,473.4 1986.3,484.1 1995,465.7 2001.7,518.8 2005.6,506.3 2012.4,491.8 2019.1,503.4 2025.9,510.1 2029.8,524.6" fill="none" stroke="#cc00cc" stroke-width="3.75" stroke-linejoin="round" stroke-linecap="butt" />
<line x1="1872.1" y1="77.6" x2="1872.1" y2="791" stroke="#737373" stroke-width="1.6"/>
<line x1="1913.2" y1="77.6" x2="1913.2" y2="791" stroke="#737373" stroke-width="1.6"/>
<rect x="1239.6" y="77.6" width="798.6" height="713.4" fill="none" stroke="#151515" stroke-width="1.55"/>
<path d="M1362.3 791v-7.7M1362.3 77.6v7.7M1485.2 791v-7.7M1485.2 77.6v7.7M1608.1 791v-7.7M1608.1 77.6v7.7M1731 791v-7.7M1731 77.6v7.7M1854 791v-7.7M1854 77.6v7.7M1976.9 791v-7.7M1976.9 77.6v7.7M1239.6 164.9h7.7M2038.2 164.9h-7.7M1239.6 272.9h7.7M2038.2 272.9h-7.7M1239.6 380.8h7.7M2038.2 380.8h-7.7M1239.6 488.8h7.7M2038.2 488.8h-7.7M1239.6 596.8h7.7M2038.2 596.8h-7.7M1239.6 704.7h7.7M2038.2 704.7h-7.7" stroke="#151515" stroke-width="1.55" fill="none"/>
<text transform="translate(1238.6 841) scale(1.03 1)" font-size="33.8" text-anchor="middle" font-weight="normal" font-style="normal" fill="#1a1a1a" font-family='"Liberation Sans", Arial, Helvetica, sans-serif' >2002</text>
<text transform="translate(1361.5 841) scale(1.03 1)" font-size="33.8" text-anchor="middle" font-weight="normal" font-style="normal" fill="#1a1a1a" font-family='"Liberation Sans", Arial, Helvetica, sans-serif' >2005</text>
<text transform="translate(1484.4 841) scale(1.03 1)" font-size="33.8" text-anchor="middle" font-weight="normal" font-style="normal" fill="#1a1a1a" font-family='"Liberation Sans", Arial, Helvetica, sans-serif' >2008</text>
<text transform="translate(1607.3 841) scale(1.03 1)" font-size="33.8" text-anchor="middle" font-weight="normal" font-style="normal" fill="#1a1a1a" font-family='"Liberation Sans", Arial, Helvetica, sans-serif' >2011</text>
<text transform="translate(1730.2 841) scale(1.03 1)" font-size="33.8" text-anchor="middle" font-weight="normal" font-style="normal" fill="#1a1a1a" font-family='"Liberation Sans", Arial, Helvetica, sans-serif' >2014</text>
<text transform="translate(1853.2 841) scale(1.03 1)" font-size="33.8" text-anchor="middle" font-weight="normal" font-style="normal" fill="#1a1a1a" font-family='"Liberation Sans", Arial, Helvetica, sans-serif' >2017</text>
<text transform="translate(1976.1 841) scale(1.03 1)" font-size="33.8" text-anchor="middle" font-weight="normal" font-style="normal" fill="#1a1a1a" font-family='"Liberation Sans", Arial, Helvetica, sans-serif' >2020</text>
<text transform="translate(1222.8 177.5) scale(1.03 1)" font-size="33.8" text-anchor="end" font-weight="normal" font-style="normal" fill="#1a1a1a" font-family='"Liberation Sans", Arial, Helvetica, sans-serif' >100</text>
<text transform="translate(1222.8 285.5) scale(1.03 1)" font-size="33.8" text-anchor="end" font-weight="normal" font-style="normal" fill="#1a1a1a" font-family='"Liberation Sans", Arial, Helvetica, sans-serif' >0</text>
<text transform="translate(1222.8 393.4) scale(1.03 1)" font-size="33.8" text-anchor="end" font-weight="normal" font-style="normal" fill="#1a1a1a" font-family='"Liberation Sans", Arial, Helvetica, sans-serif' >-100</text>
<text transform="translate(1222.8 501.4) scale(1.03 1)" font-size="33.8" text-anchor="end" font-weight="normal" font-style="normal" fill="#1a1a1a" font-family='"Liberation Sans", Arial, Helvetica, sans-serif' >-200</text>
<text transform="translate(1222.8 609.4) scale(1.03 1)" font-size="33.8" text-anchor="end" font-weight="normal" font-style="normal" fill="#1a1a1a" font-family='"Liberation Sans", Arial, Helvetica, sans-serif' >-300</text>
<text transform="translate(1222.8 717.3) scale(1.03 1)" font-size="33.8" text-anchor="end" font-weight="normal" font-style="normal" fill="#1a1a1a" font-family='"Liberation Sans", Arial, Helvetica, sans-serif' >-400</text>
<text x="1638.9" y="65.5" font-size="38.2" text-anchor="middle" font-weight="bold" font-style="normal" fill="#000" font-family='"Liberation Sans", Arial, Helvetica, sans-serif' >Svalbard</text>
<text x="1638.5" y="893.3" font-size="38.2" text-anchor="middle" font-weight="normal" font-style="normal" fill="#1a1a1a" font-family='"Liberation Sans", Arial, Helvetica, sans-serif' >Time (yr)</text>
<text transform="translate(1135.3 434.8) rotate(-90)" font-size="38.2" text-anchor="middle" fill="#1a1a1a" font-family='"Liberation Sans", Arial, Helvetica, sans-serif'>Mass change (Gt)</text>
<text x="1745.8" y="156.2" font-size="34.6" text-anchor="start" font-weight="normal" font-style="italic" fill="#111" font-family='"Liberation Sans", Arial, Helvetica, sans-serif' >GRACE</text>
<text x="1925" y="156.2" font-size="34.6" text-anchor="start" font-weight="normal" font-style="italic" fill="#111" font-family='"Liberation Sans", Arial, Helvetica, sans-serif' >GRACE-FO</text>
<text x="1280.3" y="588.1" font-size="34.6" text-anchor="start" font-weight="bold" font-style="normal" fill="#000" font-family='"Liberation Sans", Arial, Helvetica, sans-serif' >Processing</text>
<text x="1280.3" y="634.6" font-size="34.6" text-anchor="start" font-weight="normal" font-style="normal" fill="#b40f0f" font-family='"Liberation Sans", Arial, Helvetica, sans-serif' >GFZ RL06</text>
<text x="1280.3" y="681.2" font-size="34.6" text-anchor="start" font-weight="normal" font-style="normal" fill="#0fb40f" font-family='"Liberation Sans", Arial, Helvetica, sans-serif' >CSR RL06</text>
<text x="1280.3" y="727.2" font-size="34.6" text-anchor="start" font-weight="normal" font-style="normal" fill="#0f0fb4" font-family='"Liberation Sans", Arial, Helvetica, sans-serif' >JPL RL06</text>
<text x="1280.3" y="774.1" font-size="34.6" text-anchor="start" font-weight="normal" font-style="normal" fill="#be0fbe" font-family='"Liberation Sans", Arial, Helvetica, sans-serif' >AV RL06</text>
<text x="1429.8" y="774.1" font-size="34.6" font-family='"Liberation Sans", Arial, Helvetica, sans-serif' fill="#8a8a8a" textLength="90" lengthAdjust="spacing">(±2<tspan font-style="italic" font-family='"Liberation Serif","DejaVu Serif",serif' font-size="37">σ</tspan>)</text>
<text x="1095" y="30.4" font-size="38.5" font-weight="bold" fill="#222" stroke="#222" stroke-width="1.3" stroke-linejoin="round" font-family='"Liberation Sans", Arial, Helvetica, sans-serif' transform="translate(1095 0) scale(1.17 1) translate(-1095 0)">b</text>
<rect x="193" y="1010" width="797.3" height="712.4" fill="none" stroke="#151515" stroke-width="1.55"/>
<path d="M275.9 1722.4v-7.7M275.9 1010v7.7M357.4 1722.4v-7.7M357.4 1010v7.7M438.9 1722.4v-7.7M438.9 1010v7.7M520.3 1722.4v-7.7M520.3 1010v7.7M601.8 1722.4v-7.7M601.8 1010v7.7M683.2 1722.4v-7.7M683.2 1010v7.7M764.6 1722.4v-7.7M764.6 1010v7.7M846.1 1722.4v-7.7M846.1 1010v7.7M927.5 1722.4v-7.7M927.5 1010v7.7M193 1633.3h7.7M990.3 1633.3h-7.7M193 1544.2h7.7M990.3 1544.2h-7.7M193 1455.1h7.7M990.3 1455.1h-7.7M193 1366h7.7M990.3 1366h-7.7M193 1276.9h7.7M990.3 1276.9h-7.7M193 1187.8h7.7M990.3 1187.8h-7.7M193 1098.7h7.7M990.3 1098.7h-7.7" stroke="#151515" stroke-width="1.55" fill="none"/>
<line x1="855.2" y1="1010" x2="855.2" y2="1722.4" stroke="#4a4a4a" stroke-width="3.6"/>
<clipPath id="clipc"><rect x="192.3" y="1010" width="798.7" height="713.2"/></clipPath>
<g clip-path="url(#clipc)">
<rect x="191.4" y="1504.4" width="4.1" height="20" fill="#3ad63a"/>
<rect x="191.4" y="1524.4" width="4.1" height="25.8" fill="#cc2020"/>
<rect x="191.4" y="1550.1" width="4.1" height="14.2" fill="#1a1acc"/>
<rect x="191.4" y="1564.2" width="4.1" height="158.2" fill="#d22ed2"/>
<rect x="195.4" y="1504.4" width="4.1" height="20" fill="#3ad63a"/>
<rect x="195.4" y="1524.4" width="4.1" height="25.8" fill="#cc2020"/>
<rect x="195.4" y="1550.1" width="4.1" height="14.2" fill="#1a1acc"/>
<rect x="195.4" y="1564.2" width="4.1" height="158.2" fill="#d22ed2"/>
<rect x="199.5" y="1534.6" width="4.1" height="15.5" fill="#3ad63a"/>
<rect x="199.5" y="1550.1" width="4.1" height="5.2" fill="#cc2020"/>
<rect x="199.5" y="1555.2" width="4.1" height="27" fill="#1a1acc"/>
<rect x="199.5" y="1582.2" width="4.1" height="140.3" fill="#d22ed2"/>
<rect x="203.6" y="1514.1" width="4.1" height="16.8" fill="#3ad63a"/>
<rect x="203.6" y="1530.8" width="4.1" height="7.8" fill="#cc2020"/>
<rect x="203.6" y="1538.5" width="4.1" height="28.3" fill="#1a1acc"/>
<rect x="203.6" y="1566.8" width="4.1" height="155.7" fill="#d22ed2"/>
<rect x="207.7" y="1544.3" width="4.1" height="11" fill="#3ad63a"/>
<rect x="207.7" y="1555.2" width="4.1" height="10.3" fill="#cc2020"/>
<rect x="207.7" y="1565.5" width="4.1" height="23.2" fill="#1a1acc"/>
<rect x="207.7" y="1588.6" width="4.1" height="133.8" fill="#d22ed2"/>
<rect x="211.7" y="1551.4" width="4.1" height="2.6" fill="#cc2020"/>
<rect x="211.7" y="1553.9" width="4.1" height="11.6" fill="#3ad63a"/>
<rect x="211.7" y="1565.5" width="4.1" height="24.5" fill="#1a1acc"/>
<rect x="211.7" y="1589.9" width="4.1" height="132.5" fill="#d22ed2"/>
<rect x="215.8" y="1494.2" width="4.1" height="22.5" fill="#cc2020"/>
<rect x="215.8" y="1516.7" width="4.1" height="5.2" fill="#3ad63a"/>
<rect x="215.8" y="1521.8" width="4.1" height="42.5" fill="#1a1acc"/>
<rect x="215.8" y="1564.2" width="4.1" height="158.2" fill="#d22ed2"/>
<rect x="219.9" y="1445.3" width="4.1" height="36.7" fill="#cc2020"/>
<rect x="219.9" y="1482" width="4.1" height="1.3" fill="#3ad63a"/>
<rect x="219.9" y="1483.2" width="4.1" height="52.7" fill="#1a1acc"/>
<rect x="219.9" y="1535.9" width="4.1" height="186.5" fill="#d22ed2"/>
<rect x="223.9" y="1505.7" width="4.1" height="7.1" fill="#cc2020"/>
<rect x="223.9" y="1512.8" width="4.1" height="19.3" fill="#3ad63a"/>
<rect x="223.9" y="1532.1" width="4.1" height="34.1" fill="#1a1acc"/>
<rect x="223.9" y="1566.1" width="4.1" height="156.3" fill="#d22ed2"/>
<rect x="228" y="1538.5" width="4.1" height="2.6" fill="#cc2020"/>
<rect x="228" y="1541.1" width="4.1" height="29.6" fill="#3ad63a"/>
<rect x="228" y="1570.6" width="4.1" height="11.6" fill="#1a1acc"/>
<rect x="228" y="1582.2" width="4.1" height="140.3" fill="#d22ed2"/>
<rect x="232.1" y="1540.4" width="4.1" height="30.2" fill="#3ad63a"/>
<rect x="232.1" y="1570.6" width="4.1" height="5.2" fill="#cc2020"/>
<rect x="232.1" y="1575.8" width="4.1" height="7.8" fill="#1a1acc"/>
<rect x="232.1" y="1583.5" width="4.1" height="139" fill="#d22ed2"/>
<rect x="236.2" y="1553.9" width="4.1" height="10.3" fill="#cc2020"/>
<rect x="236.2" y="1564.2" width="4.1" height="14.2" fill="#3ad63a"/>
<rect x="236.2" y="1578.3" width="4.1" height="12.9" fill="#1a1acc"/>
<rect x="236.2" y="1591.2" width="4.1" height="131.3" fill="#d22ed2"/>
<rect x="240.2" y="1560.3" width="4.1" height="27" fill="#3ad63a"/>
<rect x="240.2" y="1587.3" width="4.1" height="1.3" fill="#cc2020"/>
<rect x="240.2" y="1588.6" width="4.1" height="7.8" fill="#1a1acc"/>
<rect x="240.2" y="1596.3" width="4.1" height="126.1" fill="#d22ed2"/>
<rect x="244.3" y="1546.9" width="4.1" height="8.4" fill="#cc2020"/>
<rect x="244.3" y="1555.2" width="4.1" height="18" fill="#3ad63a"/>
<rect x="244.3" y="1573.2" width="4.1" height="14.2" fill="#1a1acc"/>
<rect x="244.3" y="1587.3" width="4.1" height="135.1" fill="#d22ed2"/>
<rect x="248.4" y="1562.9" width="4.1" height="6.5" fill="#cc2020"/>
<rect x="248.4" y="1569.3" width="4.1" height="9" fill="#3ad63a"/>
<rect x="248.4" y="1578.3" width="4.1" height="16.8" fill="#1a1acc"/>
<rect x="248.4" y="1595" width="4.1" height="127.4" fill="#d22ed2"/>
<rect x="252.5" y="1552" width="4.1" height="8.4" fill="#3ad63a"/>
<rect x="252.5" y="1560.3" width="4.1" height="7.8" fill="#cc2020"/>
<rect x="252.5" y="1568.1" width="4.1" height="19.3" fill="#1a1acc"/>
<rect x="252.5" y="1587.3" width="4.1" height="135.1" fill="#d22ed2"/>
<rect x="256.5" y="1533.4" width="4.1" height="12.9" fill="#3ad63a"/>
<rect x="256.5" y="1546.2" width="4.1" height="5.2" fill="#cc2020"/>
<rect x="256.5" y="1551.4" width="4.1" height="19.3" fill="#1a1acc"/>
<rect x="256.5" y="1570.6" width="4.1" height="151.8" fill="#d22ed2"/>
<rect x="260.6" y="1526.9" width="4.1" height="17.4" fill="#3ad63a"/>
<rect x="260.6" y="1544.3" width="4.1" height="13.5" fill="#cc2020"/>
<rect x="260.6" y="1557.8" width="4.1" height="10.3" fill="#1a1acc"/>
<rect x="260.6" y="1568.1" width="4.1" height="154.4" fill="#d22ed2"/>
<rect x="264.7" y="1507" width="4.1" height="9" fill="#3ad63a"/>
<rect x="264.7" y="1516" width="4.1" height="23.8" fill="#cc2020"/>
<rect x="264.7" y="1539.8" width="4.1" height="12.9" fill="#1a1acc"/>
<rect x="264.7" y="1552.6" width="4.1" height="169.8" fill="#d22ed2"/>
<rect x="268.7" y="1543.6" width="4.1" height="7.8" fill="#3ad63a"/>
<rect x="268.7" y="1551.4" width="4.1" height="19.3" fill="#cc2020"/>
<rect x="268.7" y="1570.6" width="4.1" height="10.3" fill="#1a1acc"/>
<rect x="268.7" y="1580.9" width="4.1" height="141.5" fill="#d22ed2"/>
<rect x="272.8" y="1546.2" width="4.1" height="14.2" fill="#3ad63a"/>
<rect x="272.8" y="1560.3" width="4.1" height="10.3" fill="#cc2020"/>
<rect x="272.8" y="1570.6" width="4.1" height="11.6" fill="#1a1acc"/>
<rect x="272.8" y="1582.2" width="4.1" height="140.3" fill="#d22ed2"/>
<rect x="276.9" y="1522.4" width="4.1" height="23.8" fill="#3ad63a"/>
<rect x="276.9" y="1546.2" width="4.1" height="15.5" fill="#cc2020"/>
<rect x="276.9" y="1561.6" width="4.1" height="9" fill="#1a1acc"/>
<rect x="276.9" y="1570.6" width="4.1" height="151.8" fill="#d22ed2"/>
<rect x="281" y="1514.1" width="4.1" height="14.2" fill="#3ad63a"/>
<rect x="281" y="1528.2" width="4.1" height="27" fill="#cc2020"/>
<rect x="281" y="1555.2" width="4.1" height="6.5" fill="#1a1acc"/>
<rect x="281" y="1561.6" width="4.1" height="160.8" fill="#d22ed2"/>
<rect x="285" y="1514.1" width="4.1" height="19.3" fill="#3ad63a"/>
<rect x="285" y="1533.4" width="4.1" height="24.5" fill="#cc2020"/>
<rect x="285" y="1557.8" width="4.1" height="7.8" fill="#1a1acc"/>
<rect x="285" y="1565.5" width="4.1" height="157" fill="#d22ed2"/>
<rect x="289.1" y="1524.4" width="4.1" height="12.9" fill="#3ad63a"/>
<rect x="289.1" y="1537.2" width="4.1" height="41.2" fill="#cc2020"/>
<rect x="289.1" y="1578.3" width="4.1" height="3.9" fill="#1a1acc"/>
<rect x="289.1" y="1582.2" width="4.1" height="140.3" fill="#d22ed2"/>
<rect x="293.2" y="1492.2" width="4.1" height="11.6" fill="#3ad63a"/>
<rect x="293.2" y="1503.8" width="4.1" height="72" fill="#cc2020"/>
<rect x="293.2" y="1575.8" width="4.1" height="1.3" fill="#d22ed2"/>
<rect x="293.2" y="1577.1" width="4.1" height="145.4" fill="#1a1acc"/>
<rect x="297.2" y="1430.6" width="4.1" height="17.4" fill="#3ad63a"/>
<rect x="297.2" y="1447.9" width="4.1" height="113.8" fill="#cc2020"/>
<rect x="297.2" y="1561.6" width="4.1" height="7.8" fill="#d22ed2"/>
<rect x="297.2" y="1569.3" width="4.1" height="153.1" fill="#1a1acc"/>
<rect x="301.3" y="1489.7" width="4.1" height="0.7" fill="#3ad63a"/>
<rect x="301.3" y="1490.3" width="4.1" height="85.5" fill="#cc2020"/>
<rect x="301.3" y="1575.8" width="4.1" height="2.6" fill="#d22ed2"/>
<rect x="301.3" y="1578.3" width="4.1" height="144.1" fill="#1a1acc"/>
<rect x="305.4" y="1514.1" width="4.1" height="10.3" fill="#3ad63a"/>
<rect x="305.4" y="1524.4" width="4.1" height="33.5" fill="#cc2020"/>
<rect x="305.4" y="1557.8" width="4.1" height="7.8" fill="#1a1acc"/>
<rect x="305.4" y="1565.5" width="4.1" height="157" fill="#d22ed2"/>
<rect x="309.5" y="1520.5" width="4.1" height="23.2" fill="#3ad63a"/>
<rect x="309.5" y="1543.6" width="4.1" height="19.3" fill="#cc2020"/>
<rect x="309.5" y="1562.9" width="4.1" height="7.8" fill="#1a1acc"/>
<rect x="309.5" y="1570.6" width="4.1" height="151.8" fill="#d22ed2"/>
<rect x="313.5" y="1539.1" width="4.1" height="16.1" fill="#3ad63a"/>
<rect x="313.5" y="1555.2" width="4.1" height="16.8" fill="#cc2020"/>
<rect x="313.5" y="1571.9" width="4.1" height="6.5" fill="#1a1acc"/>
<rect x="313.5" y="1578.3" width="4.1" height="144.1" fill="#d22ed2"/>
<rect x="317.6" y="1546.9" width="4.1" height="9.7" fill="#3ad63a"/>
<rect x="317.6" y="1556.5" width="4.1" height="16.8" fill="#cc2020"/>
<rect x="317.6" y="1573.2" width="4.1" height="7.8" fill="#1a1acc"/>
<rect x="317.6" y="1580.9" width="4.1" height="141.5" fill="#d22ed2"/>
<rect x="321.7" y="1537.2" width="4.1" height="9" fill="#3ad63a"/>
<rect x="321.7" y="1546.2" width="4.1" height="28.3" fill="#cc2020"/>
<rect x="321.7" y="1574.5" width="4.1" height="3.9" fill="#1a1acc"/>
<rect x="321.7" y="1578.3" width="4.1" height="144.1" fill="#d22ed2"/>
<rect x="325.8" y="1547.5" width="4.1" height="10.3" fill="#3ad63a"/>
<rect x="325.8" y="1557.8" width="4.1" height="21.9" fill="#cc2020"/>
<rect x="325.8" y="1579.6" width="4.1" height="3.9" fill="#1a1acc"/>
<rect x="325.8" y="1583.5" width="4.1" height="139" fill="#d22ed2"/>
<rect x="329.8" y="1562.3" width="4.1" height="9.7" fill="#3ad63a"/>
<rect x="329.8" y="1571.9" width="4.1" height="11.6" fill="#cc2020"/>
<rect x="329.8" y="1583.5" width="4.1" height="11.6" fill="#1a1acc"/>
<rect x="329.8" y="1595" width="4.1" height="127.4" fill="#d22ed2"/>
<rect x="333.9" y="1568.1" width="4.1" height="6.5" fill="#3ad63a"/>
<rect x="333.9" y="1574.5" width="4.1" height="9" fill="#cc2020"/>
<rect x="333.9" y="1583.5" width="4.1" height="12.9" fill="#1a1acc"/>
<rect x="333.9" y="1596.3" width="4.1" height="126.1" fill="#d22ed2"/>
<rect x="338" y="1566.1" width="4.1" height="11" fill="#3ad63a"/>
<rect x="338" y="1577.1" width="4.1" height="7.8" fill="#cc2020"/>
<rect x="338" y="1584.8" width="4.1" height="11" fill="#1a1acc"/>
<rect x="338" y="1595.7" width="4.1" height="126.8" fill="#d22ed2"/>
<rect x="342" y="1560.3" width="4.1" height="15.5" fill="#3ad63a"/>
<rect x="342" y="1575.8" width="4.1" height="6.5" fill="#cc2020"/>
<rect x="342" y="1582.2" width="4.1" height="11.6" fill="#1a1acc"/>
<rect x="342" y="1593.8" width="4.1" height="128.7" fill="#d22ed2"/>
<rect x="346.1" y="1557.1" width="4.1" height="14.8" fill="#3ad63a"/>
<rect x="346.1" y="1571.9" width="4.1" height="11.6" fill="#cc2020"/>
<rect x="346.1" y="1583.5" width="4.1" height="11.6" fill="#1a1acc"/>
<rect x="346.1" y="1595" width="4.1" height="127.4" fill="#d22ed2"/>
<rect x="350.2" y="1560.3" width="4.1" height="11.6" fill="#3ad63a"/>
<rect x="350.2" y="1571.9" width="4.1" height="10.3" fill="#cc2020"/>
<rect x="350.2" y="1582.2" width="4.1" height="12.9" fill="#1a1acc"/>
<rect x="350.2" y="1595" width="4.1" height="127.4" fill="#d22ed2"/>
<rect x="354.3" y="1545.6" width="4.1" height="20" fill="#3ad63a"/>
<rect x="354.3" y="1565.5" width="4.1" height="10.3" fill="#cc2020"/>
<rect x="354.3" y="1575.8" width="4.1" height="11.6" fill="#1a1acc"/>
<rect x="354.3" y="1587.3" width="4.1" height="135.1" fill="#d22ed2"/>
<rect x="358.3" y="1532.7" width="4.1" height="25.1" fill="#3ad63a"/>
<rect x="358.3" y="1557.8" width="4.1" height="9" fill="#cc2020"/>
<rect x="358.3" y="1566.8" width="4.1" height="9" fill="#1a1acc"/>
<rect x="358.3" y="1575.8" width="4.1" height="146.7" fill="#d22ed2"/>
<rect x="362.4" y="1554.6" width="4.1" height="18.7" fill="#3ad63a"/>
<rect x="362.4" y="1573.2" width="4.1" height="9" fill="#cc2020"/>
<rect x="362.4" y="1582.2" width="4.1" height="10.3" fill="#1a1acc"/>
<rect x="362.4" y="1592.5" width="4.1" height="130" fill="#d22ed2"/>
<rect x="366.5" y="1565.5" width="4.1" height="9" fill="#3ad63a"/>
<rect x="366.5" y="1574.5" width="4.1" height="10.3" fill="#cc2020"/>
<rect x="366.5" y="1584.8" width="4.1" height="10.3" fill="#1a1acc"/>
<rect x="366.5" y="1595" width="4.1" height="127.4" fill="#d22ed2"/>
<rect x="370.6" y="1569.3" width="4.1" height="6.5" fill="#3ad63a"/>
<rect x="370.6" y="1575.8" width="4.1" height="10.3" fill="#cc2020"/>
<rect x="370.6" y="1586" width="4.1" height="11.6" fill="#1a1acc"/>
<rect x="370.6" y="1597.6" width="4.1" height="124.8" fill="#d22ed2"/>
<rect x="374.6" y="1563.6" width="4.1" height="14.8" fill="#3ad63a"/>
<rect x="374.6" y="1578.3" width="4.1" height="9" fill="#cc2020"/>
<rect x="374.6" y="1587.3" width="4.1" height="10.3" fill="#1a1acc"/>
<rect x="374.6" y="1597.6" width="4.1" height="124.8" fill="#d22ed2"/>
<rect x="378.7" y="1559.1" width="4.1" height="20.6" fill="#3ad63a"/>
<rect x="378.7" y="1579.6" width="4.1" height="8.4" fill="#cc2020"/>
<rect x="378.7" y="1588" width="4.1" height="9" fill="#1a1acc"/>
<rect x="378.7" y="1597" width="4.1" height="125.5" fill="#d22ed2"/>
<rect x="382.8" y="1552.6" width="4.1" height="15.5" fill="#3ad63a"/>
<rect x="382.8" y="1568.1" width="4.1" height="7.8" fill="#cc2020"/>
<rect x="382.8" y="1575.8" width="4.1" height="11.6" fill="#1a1acc"/>
<rect x="382.8" y="1587.3" width="4.1" height="135.1" fill="#d22ed2"/>
<rect x="386.8" y="1553.9" width="4.1" height="18" fill="#3ad63a"/>
<rect x="386.8" y="1571.9" width="4.1" height="3.9" fill="#cc2020"/>
<rect x="386.8" y="1575.8" width="4.1" height="12.3" fill="#1a1acc"/>
<rect x="386.8" y="1588" width="4.1" height="134.5" fill="#d22ed2"/>
<rect x="390.9" y="1564.2" width="4.1" height="16.8" fill="#3ad63a"/>
<rect x="390.9" y="1580.9" width="4.1" height="1.3" fill="#cc2020"/>
<rect x="390.9" y="1582.2" width="4.1" height="14.2" fill="#1a1acc"/>
<rect x="390.9" y="1596.3" width="4.1" height="126.1" fill="#d22ed2"/>
<rect x="395" y="1540.4" width="4.1" height="27.7" fill="#3ad63a"/>
<rect x="395" y="1568.1" width="4.1" height="5.2" fill="#cc2020"/>
<rect x="395" y="1573.2" width="4.1" height="9" fill="#1a1acc"/>
<rect x="395" y="1582.2" width="4.1" height="140.3" fill="#d22ed2"/>
<rect x="399.1" y="1540.4" width="4.1" height="27.7" fill="#3ad63a"/>
<rect x="399.1" y="1568.1" width="4.1" height="6.5" fill="#cc2020"/>
<rect x="399.1" y="1574.5" width="4.1" height="9" fill="#1a1acc"/>
<rect x="399.1" y="1583.5" width="4.1" height="139" fill="#d22ed2"/>
<rect x="403.1" y="1543.6" width="4.1" height="28.3" fill="#3ad63a"/>
<rect x="403.1" y="1571.9" width="4.1" height="5.2" fill="#cc2020"/>
<rect x="403.1" y="1577.1" width="4.1" height="9" fill="#1a1acc"/>
<rect x="403.1" y="1586" width="4.1" height="136.4" fill="#d22ed2"/>
<rect x="407.2" y="1544.9" width="4.1" height="24.5" fill="#3ad63a"/>
<rect x="407.2" y="1569.3" width="4.1" height="5.2" fill="#cc2020"/>
<rect x="407.2" y="1574.5" width="4.1" height="11.6" fill="#1a1acc"/>
<rect x="407.2" y="1586" width="4.1" height="136.4" fill="#d22ed2"/>
<rect x="411.3" y="1553.9" width="4.1" height="11.6" fill="#3ad63a"/>
<rect x="411.3" y="1565.5" width="4.1" height="16.8" fill="#cc2020"/>
<rect x="411.3" y="1582.2" width="4.1" height="7.8" fill="#1a1acc"/>
<rect x="411.3" y="1589.9" width="4.1" height="132.5" fill="#d22ed2"/>
<rect x="415.4" y="1564.2" width="4.1" height="11.6" fill="#3ad63a"/>
<rect x="415.4" y="1575.8" width="4.1" height="10.3" fill="#cc2020"/>
<rect x="415.4" y="1586" width="4.1" height="10.3" fill="#1a1acc"/>
<rect x="415.4" y="1596.3" width="4.1" height="126.1" fill="#d22ed2"/>
<rect x="419.4" y="1566.1" width="4.1" height="17.4" fill="#3ad63a"/>
<rect x="419.4" y="1583.5" width="4.1" height="5.2" fill="#cc2020"/>
<rect x="419.4" y="1588.6" width="4.1" height="8.4" fill="#1a1acc"/>
<rect x="419.4" y="1597" width="4.1" height="125.5" fill="#d22ed2"/>
<rect x="423.5" y="1572.6" width="4.1" height="14.8" fill="#3ad63a"/>
<rect x="423.5" y="1587.3" width="4.1" height="2.6" fill="#cc2020"/>
<rect x="423.5" y="1589.9" width="4.1" height="12.9" fill="#1a1acc"/>
<rect x="423.5" y="1602.8" width="4.1" height="119.7" fill="#d22ed2"/>
<rect x="427.6" y="1569.3" width="4.1" height="16.8" fill="#3ad63a"/>
<rect x="427.6" y="1586" width="4.1" height="2.6" fill="#cc2020"/>
<rect x="427.6" y="1588.6" width="4.1" height="11.6" fill="#1a1acc"/>
<rect x="427.6" y="1600.2" width="4.1" height="122.3" fill="#d22ed2"/>
<rect x="431.6" y="1565.5" width="4.1" height="11.6" fill="#3ad63a"/>
<rect x="431.6" y="1577.1" width="4.1" height="10.3" fill="#cc2020"/>
<rect x="431.6" y="1587.3" width="4.1" height="7.8" fill="#1a1acc"/>
<rect x="431.6" y="1595" width="4.1" height="127.4" fill="#d22ed2"/>
<rect x="435.7" y="1571.3" width="4.1" height="11" fill="#3ad63a"/>
<rect x="435.7" y="1582.2" width="4.1" height="10.3" fill="#cc2020"/>
<rect x="435.7" y="1592.5" width="4.1" height="10.3" fill="#1a1acc"/>
<rect x="435.7" y="1602.8" width="4.1" height="119.7" fill="#d22ed2"/>
<rect x="439.8" y="1571.9" width="4.1" height="11.6" fill="#3ad63a"/>
<rect x="439.8" y="1583.5" width="4.1" height="9" fill="#cc2020"/>
<rect x="439.8" y="1592.5" width="4.1" height="10.3" fill="#1a1acc"/>
<rect x="439.8" y="1602.8" width="4.1" height="119.7" fill="#d22ed2"/>
<rect x="443.9" y="1566.8" width="4.1" height="10.3" fill="#3ad63a"/>
<rect x="443.9" y="1577.1" width="4.1" height="11.6" fill="#cc2020"/>
<rect x="443.9" y="1588.6" width="4.1" height="9" fill="#1a1acc"/>
<rect x="443.9" y="1597.6" width="4.1" height="124.8" fill="#d22ed2"/>
<rect x="447.9" y="1561.6" width="4.1" height="14.2" fill="#3ad63a"/>
<rect x="447.9" y="1575.8" width="4.1" height="11.6" fill="#cc2020"/>
<rect x="447.9" y="1587.3" width="4.1" height="7.8" fill="#1a1acc"/>
<rect x="447.9" y="1595" width="4.1" height="127.4" fill="#d22ed2"/>
<rect x="452" y="1554.6" width="4.1" height="17.4" fill="#3ad63a"/>
<rect x="452" y="1571.9" width="4.1" height="10.3" fill="#cc2020"/>
<rect x="452" y="1582.2" width="4.1" height="9" fill="#1a1acc"/>
<rect x="452" y="1591.2" width="4.1" height="131.3" fill="#d22ed2"/>
<rect x="456.1" y="1552.6" width="4.1" height="21.9" fill="#3ad63a"/>
<rect x="456.1" y="1574.5" width="4.1" height="9" fill="#cc2020"/>
<rect x="456.1" y="1583.5" width="4.1" height="6.5" fill="#1a1acc"/>
<rect x="456.1" y="1589.9" width="4.1" height="132.5" fill="#d22ed2"/>
<rect x="460.1" y="1556.5" width="4.1" height="23.2" fill="#3ad63a"/>
<rect x="460.1" y="1579.6" width="4.1" height="2.6" fill="#cc2020"/>
<rect x="460.1" y="1582.2" width="4.1" height="7.8" fill="#1a1acc"/>
<rect x="460.1" y="1589.9" width="4.1" height="132.5" fill="#d22ed2"/>
<rect x="464.2" y="1559.1" width="4.1" height="19.3" fill="#3ad63a"/>
<rect x="464.2" y="1578.3" width="4.1" height="3.9" fill="#1a1acc"/>
<rect x="464.2" y="1582.2" width="4.1" height="10.3" fill="#cc2020"/>
<rect x="464.2" y="1592.5" width="4.1" height="130" fill="#d22ed2"/>
<rect x="468.3" y="1552.6" width="4.1" height="23.2" fill="#3ad63a"/>
<rect x="468.3" y="1575.8" width="4.1" height="1.3" fill="#cc2020"/>
<rect x="468.3" y="1577.1" width="4.1" height="14.2" fill="#1a1acc"/>
<rect x="468.3" y="1591.2" width="4.1" height="131.3" fill="#d22ed2"/>
<rect x="472.4" y="1541.1" width="4.1" height="32.2" fill="#3ad63a"/>
<rect x="472.4" y="1573.2" width="4.1" height="2.6" fill="#cc2020"/>
<rect x="472.4" y="1575.8" width="4.1" height="11.6" fill="#1a1acc"/>
<rect x="472.4" y="1587.3" width="4.1" height="135.1" fill="#d22ed2"/>
<rect x="476.4" y="1543" width="4.1" height="34.1" fill="#3ad63a"/>
<rect x="476.4" y="1577.1" width="4.1" height="5.2" fill="#1a1acc"/>
<rect x="476.4" y="1582.2" width="4.1" height="10.3" fill="#cc2020"/>
<rect x="476.4" y="1592.5" width="4.1" height="130" fill="#d22ed2"/>
<rect x="480.5" y="1546.2" width="4.1" height="28.3" fill="#3ad63a"/>
<rect x="480.5" y="1574.5" width="4.1" height="3.9" fill="#cc2020"/>
<rect x="480.5" y="1578.3" width="4.1" height="12.9" fill="#1a1acc"/>
<rect x="480.5" y="1591.2" width="4.1" height="131.3" fill="#d22ed2"/>
<rect x="484.6" y="1548.1" width="4.1" height="22.5" fill="#3ad63a"/>
<rect x="484.6" y="1570.6" width="4.1" height="6.5" fill="#cc2020"/>
<rect x="484.6" y="1577.1" width="4.1" height="12.9" fill="#1a1acc"/>
<rect x="484.6" y="1589.9" width="4.1" height="132.5" fill="#d22ed2"/>
<rect x="488.7" y="1553.9" width="4.1" height="18" fill="#3ad63a"/>
<rect x="488.7" y="1571.9" width="4.1" height="5.2" fill="#cc2020"/>
<rect x="488.7" y="1577.1" width="4.1" height="12.9" fill="#1a1acc"/>
<rect x="488.7" y="1589.9" width="4.1" height="132.5" fill="#d22ed2"/>
<rect x="492.7" y="1553.3" width="4.1" height="20" fill="#3ad63a"/>
<rect x="492.7" y="1573.2" width="4.1" height="5.2" fill="#cc2020"/>
<rect x="492.7" y="1578.3" width="4.1" height="11.6" fill="#1a1acc"/>
<rect x="492.7" y="1589.9" width="4.1" height="132.5" fill="#d22ed2"/>
<rect x="496.8" y="1543" width="4.1" height="30.2" fill="#3ad63a"/>
<rect x="496.8" y="1573.2" width="4.1" height="11.6" fill="#cc2020"/>
<rect x="496.8" y="1584.8" width="4.1" height="5.2" fill="#1a1acc"/>
<rect x="496.8" y="1589.9" width="4.1" height="132.5" fill="#d22ed2"/>
<rect x="500.9" y="1524.4" width="4.1" height="47.6" fill="#3ad63a"/>
<rect x="500.9" y="1571.9" width="4.1" height="3.9" fill="#cc2020"/>
<rect x="500.9" y="1575.8" width="4.1" height="3.9" fill="#1a1acc"/>
<rect x="500.9" y="1579.6" width="4.1" height="142.8" fill="#d22ed2"/>
<rect x="504.9" y="1519.2" width="4.1" height="54" fill="#3ad63a"/>
<rect x="504.9" y="1573.2" width="4.1" height="1.3" fill="#cc2020"/>
<rect x="504.9" y="1574.5" width="4.1" height="3.9" fill="#1a1acc"/>
<rect x="504.9" y="1578.3" width="4.1" height="144.1" fill="#d22ed2"/>
<rect x="509" y="1537.9" width="4.1" height="41.8" fill="#3ad63a"/>
<rect x="509" y="1579.6" width="4.1" height="2.6" fill="#cc2020"/>
<rect x="509" y="1582.2" width="4.1" height="6.5" fill="#1a1acc"/>
<rect x="509" y="1588.6" width="4.1" height="133.8" fill="#d22ed2"/>
<rect x="513.1" y="1561.6" width="4.1" height="16.8" fill="#3ad63a"/>
<rect x="513.1" y="1578.3" width="4.1" height="12.9" fill="#cc2020"/>
<rect x="513.1" y="1591.2" width="4.1" height="7.8" fill="#1a1acc"/>
<rect x="513.1" y="1598.9" width="4.1" height="123.6" fill="#d22ed2"/>
<rect x="517.2" y="1556.5" width="4.1" height="14.2" fill="#3ad63a"/>
<rect x="517.2" y="1570.6" width="4.1" height="12.9" fill="#cc2020"/>
<rect x="517.2" y="1583.5" width="4.1" height="6.5" fill="#1a1acc"/>
<rect x="517.2" y="1589.9" width="4.1" height="132.5" fill="#d22ed2"/>
<rect x="521.2" y="1560.3" width="4.1" height="11.6" fill="#3ad63a"/>
<rect x="521.2" y="1571.9" width="4.1" height="11.6" fill="#cc2020"/>
<rect x="521.2" y="1583.5" width="4.1" height="7.8" fill="#1a1acc"/>
<rect x="521.2" y="1591.2" width="4.1" height="131.3" fill="#d22ed2"/>
<rect x="525.3" y="1552.6" width="4.1" height="18" fill="#3ad63a"/>
<rect x="525.3" y="1570.6" width="4.1" height="11.6" fill="#cc2020"/>
<rect x="525.3" y="1582.2" width="4.1" height="5.2" fill="#1a1acc"/>
<rect x="525.3" y="1587.3" width="4.1" height="135.1" fill="#d22ed2"/>
<rect x="529.4" y="1544.3" width="4.1" height="18.7" fill="#3ad63a"/>
<rect x="529.4" y="1562.9" width="4.1" height="7.8" fill="#cc2020"/>
<rect x="529.4" y="1570.6" width="4.1" height="11.6" fill="#1a1acc"/>
<rect x="529.4" y="1582.2" width="4.1" height="140.3" fill="#d22ed2"/>
<rect x="533.5" y="1546.2" width="4.1" height="17.4" fill="#3ad63a"/>
<rect x="533.5" y="1563.6" width="4.1" height="5.8" fill="#cc2020"/>
<rect x="533.5" y="1569.3" width="4.1" height="12.9" fill="#1a1acc"/>
<rect x="533.5" y="1582.2" width="4.1" height="140.3" fill="#d22ed2"/>
<rect x="537.5" y="1544.3" width="4.1" height="18.7" fill="#3ad63a"/>
<rect x="537.5" y="1562.9" width="4.1" height="10.3" fill="#cc2020"/>
<rect x="537.5" y="1573.2" width="4.1" height="10.3" fill="#1a1acc"/>
<rect x="537.5" y="1583.5" width="4.1" height="139" fill="#d22ed2"/>
<rect x="541.6" y="1546.2" width="4.1" height="14.2" fill="#3ad63a"/>
<rect x="541.6" y="1560.3" width="4.1" height="15.5" fill="#cc2020"/>
<rect x="541.6" y="1575.8" width="4.1" height="9" fill="#1a1acc"/>
<rect x="541.6" y="1584.8" width="4.1" height="137.7" fill="#d22ed2"/>
<rect x="545.7" y="1551.4" width="4.1" height="10.3" fill="#3ad63a"/>
<rect x="545.7" y="1561.6" width="4.1" height="9" fill="#cc2020"/>
<rect x="545.7" y="1570.6" width="4.1" height="11.6" fill="#1a1acc"/>
<rect x="545.7" y="1582.2" width="4.1" height="140.3" fill="#d22ed2"/>
<rect x="549.7" y="1550.1" width="4.1" height="2.6" fill="#cc2020"/>
<rect x="549.7" y="1552.6" width="4.1" height="6.5" fill="#3ad63a"/>
<rect x="549.7" y="1559.1" width="4.1" height="21.9" fill="#1a1acc"/>
<rect x="549.7" y="1580.9" width="4.1" height="141.5" fill="#d22ed2"/>
<rect x="553.8" y="1549.4" width="4.1" height="4.5" fill="#cc2020"/>
<rect x="553.8" y="1553.9" width="4.1" height="5.2" fill="#3ad63a"/>
<rect x="553.8" y="1559.1" width="4.1" height="20.6" fill="#1a1acc"/>
<rect x="553.8" y="1579.6" width="4.1" height="142.8" fill="#d22ed2"/>
<rect x="557.9" y="1539.1" width="4.1" height="9.7" fill="#cc2020"/>
<rect x="557.9" y="1548.8" width="4.1" height="12.9" fill="#3ad63a"/>
<rect x="557.9" y="1561.6" width="4.1" height="7.8" fill="#1a1acc"/>
<rect x="557.9" y="1569.3" width="4.1" height="153.1" fill="#d22ed2"/>
<rect x="562" y="1532.7" width="4.1" height="8.4" fill="#3ad63a"/>
<rect x="562" y="1541.1" width="4.1" height="9" fill="#cc2020"/>
<rect x="562" y="1550.1" width="4.1" height="15.5" fill="#1a1acc"/>
<rect x="562" y="1565.5" width="4.1" height="157" fill="#d22ed2"/>
<rect x="566" y="1539.8" width="4.1" height="6.5" fill="#3ad63a"/>
<rect x="566" y="1546.2" width="4.1" height="15.5" fill="#cc2020"/>
<rect x="566" y="1561.6" width="4.1" height="7.8" fill="#1a1acc"/>
<rect x="566" y="1569.3" width="4.1" height="153.1" fill="#d22ed2"/>
<rect x="570.1" y="1555.2" width="4.1" height="7.8" fill="#3ad63a"/>
<rect x="570.1" y="1562.9" width="4.1" height="11.6" fill="#cc2020"/>
<rect x="570.1" y="1574.5" width="4.1" height="12.9" fill="#1a1acc"/>
<rect x="570.1" y="1587.3" width="4.1" height="135.1" fill="#d22ed2"/>
<rect x="574.2" y="1546.2" width="4.1" height="15.5" fill="#3ad63a"/>
<rect x="574.2" y="1561.6" width="4.1" height="6.5" fill="#cc2020"/>
<rect x="574.2" y="1568.1" width="4.1" height="12.9" fill="#1a1acc"/>
<rect x="574.2" y="1580.9" width="4.1" height="141.5" fill="#d22ed2"/>
<rect x="578.3" y="1543" width="4.1" height="13.5" fill="#3ad63a"/>
<rect x="578.3" y="1556.5" width="4.1" height="9" fill="#cc2020"/>
<rect x="578.3" y="1565.5" width="4.1" height="10.3" fill="#1a1acc"/>
<rect x="578.3" y="1575.8" width="4.1" height="146.7" fill="#d22ed2"/>
<rect x="582.3" y="1532.7" width="4.1" height="30.2" fill="#3ad63a"/>
<rect x="582.3" y="1562.9" width="4.1" height="5.2" fill="#cc2020"/>
<rect x="582.3" y="1568.1" width="4.1" height="7.8" fill="#1a1acc"/>
<rect x="582.3" y="1575.8" width="4.1" height="146.7" fill="#d22ed2"/>
<rect x="586.4" y="1524.4" width="4.1" height="42.5" fill="#3ad63a"/>
<rect x="586.4" y="1566.8" width="4.1" height="10.3" fill="#cc2020"/>
<rect x="586.4" y="1577.1" width="4.1" height="2.6" fill="#d22ed2"/>
<rect x="586.4" y="1579.6" width="4.1" height="142.8" fill="#1a1acc"/>
<rect x="590.5" y="1525.7" width="4.1" height="28.3" fill="#3ad63a"/>
<rect x="590.5" y="1553.9" width="4.1" height="2.6" fill="#cc2020"/>
<rect x="590.5" y="1556.5" width="4.1" height="10.3" fill="#1a1acc"/>
<rect x="590.5" y="1566.8" width="4.1" height="155.7" fill="#d22ed2"/>
<rect x="594.5" y="1521.8" width="4.1" height="29.6" fill="#3ad63a"/>
<rect x="594.5" y="1551.4" width="4.1" height="3.9" fill="#cc2020"/>
<rect x="594.5" y="1555.2" width="4.1" height="5.2" fill="#1a1acc"/>
<rect x="594.5" y="1560.3" width="4.1" height="162.1" fill="#d22ed2"/>
<rect x="598.6" y="1519.9" width="4.1" height="25.1" fill="#3ad63a"/>
<rect x="598.6" y="1544.9" width="4.1" height="6.5" fill="#cc2020"/>
<rect x="598.6" y="1551.4" width="4.1" height="9" fill="#1a1acc"/>
<rect x="598.6" y="1560.3" width="4.1" height="162.1" fill="#d22ed2"/>
<rect x="602.7" y="1539.8" width="4.1" height="20.6" fill="#3ad63a"/>
<rect x="602.7" y="1560.3" width="4.1" height="1.3" fill="#cc2020"/>
<rect x="602.7" y="1561.6" width="4.1" height="2.6" fill="#1a1acc"/>
<rect x="602.7" y="1564.2" width="4.1" height="158.2" fill="#d22ed2"/>
<rect x="606.8" y="1566.1" width="4.1" height="14.8" fill="#3ad63a"/>
<rect x="606.8" y="1580.9" width="4.1" height="0.7" fill="#cc2020"/>
<rect x="606.8" y="1581.5" width="4.1" height="13.5" fill="#1a1acc"/>
<rect x="606.8" y="1595" width="4.1" height="127.4" fill="#d22ed2"/>
<rect x="610.8" y="1557.8" width="4.1" height="1.3" fill="#cc2020"/>
<rect x="610.8" y="1559.1" width="4.1" height="18" fill="#3ad63a"/>
<rect x="610.8" y="1577.1" width="4.1" height="12.9" fill="#1a1acc"/>
<rect x="610.8" y="1589.9" width="4.1" height="132.5" fill="#d22ed2"/>
<rect x="614.9" y="1551.4" width="4.1" height="11.6" fill="#3ad63a"/>
<rect x="614.9" y="1562.9" width="4.1" height="9" fill="#cc2020"/>
<rect x="614.9" y="1571.9" width="4.1" height="12.9" fill="#1a1acc"/>
<rect x="614.9" y="1584.8" width="4.1" height="137.7" fill="#d22ed2"/>
<rect x="619" y="1553.9" width="4.1" height="10.3" fill="#3ad63a"/>
<rect x="619" y="1564.2" width="4.1" height="6.5" fill="#cc2020"/>
<rect x="619" y="1570.6" width="4.1" height="12.9" fill="#1a1acc"/>
<rect x="619" y="1583.5" width="4.1" height="139" fill="#d22ed2"/>
<rect x="623" y="1534" width="4.1" height="4.5" fill="#cc2020"/>
<rect x="623" y="1538.5" width="4.1" height="5.2" fill="#3ad63a"/>
<rect x="623" y="1543.6" width="4.1" height="27" fill="#1a1acc"/>
<rect x="623" y="1570.6" width="4.1" height="151.8" fill="#d22ed2"/>
<rect x="627.1" y="1508.9" width="4.1" height="6.5" fill="#cc2020"/>
<rect x="627.1" y="1515.4" width="4.1" height="11.6" fill="#3ad63a"/>
<rect x="627.1" y="1526.9" width="4.1" height="24.5" fill="#1a1acc"/>
<rect x="627.1" y="1551.4" width="4.1" height="171.1" fill="#d22ed2"/>
<rect x="631.2" y="1521.8" width="4.1" height="9" fill="#3ad63a"/>
<rect x="631.2" y="1530.8" width="4.1" height="2.6" fill="#cc2020"/>
<rect x="631.2" y="1533.4" width="4.1" height="19.3" fill="#1a1acc"/>
<rect x="631.2" y="1552.6" width="4.1" height="169.8" fill="#d22ed2"/>
<rect x="635.3" y="1555.2" width="4.1" height="12.9" fill="#3ad63a"/>
<rect x="635.3" y="1568.1" width="4.1" height="6.5" fill="#cc2020"/>
<rect x="635.3" y="1574.5" width="4.1" height="14.2" fill="#1a1acc"/>
<rect x="635.3" y="1588.6" width="4.1" height="133.8" fill="#d22ed2"/>
<rect x="639.3" y="1580.9" width="4.1" height="0.7" fill="#cc2020"/>
<rect x="639.3" y="1581.5" width="4.1" height="0.7" fill="#3ad63a"/>
<rect x="639.3" y="1582.2" width="4.1" height="19.3" fill="#1a1acc"/>
<rect x="639.3" y="1601.5" width="4.1" height="121" fill="#d22ed2"/>
<rect x="643.4" y="1521.2" width="4.1" height="8.4" fill="#3ad63a"/>
<rect x="643.4" y="1529.5" width="4.1" height="14.2" fill="#cc2020"/>
<rect x="643.4" y="1543.6" width="4.1" height="7.8" fill="#1a1acc"/>
<rect x="643.4" y="1551.4" width="4.1" height="171.1" fill="#d22ed2"/>
<rect x="647.5" y="1534.6" width="4.1" height="7.8" fill="#3ad63a"/>
<rect x="647.5" y="1542.4" width="4.1" height="16.8" fill="#cc2020"/>
<rect x="647.5" y="1559.1" width="4.1" height="7.8" fill="#1a1acc"/>
<rect x="647.5" y="1566.8" width="4.1" height="155.7" fill="#d22ed2"/>
<rect x="651.6" y="1489.7" width="4.1" height="10.3" fill="#3ad63a"/>
<rect x="651.6" y="1500" width="4.1" height="16.8" fill="#cc2020"/>
<rect x="651.6" y="1516.7" width="4.1" height="11.6" fill="#1a1acc"/>
<rect x="651.6" y="1528.2" width="4.1" height="194.2" fill="#d22ed2"/>
<rect x="655.6" y="1489.7" width="4.1" height="10.3" fill="#cc2020"/>
<rect x="655.6" y="1500" width="4.1" height="23.2" fill="#3ad63a"/>
<rect x="655.6" y="1523.1" width="4.1" height="9" fill="#1a1acc"/>
<rect x="655.6" y="1532.1" width="4.1" height="190.4" fill="#d22ed2"/>
<rect x="659.7" y="1485.8" width="4.1" height="12.9" fill="#cc2020"/>
<rect x="659.7" y="1498.7" width="4.1" height="46.3" fill="#3ad63a"/>
<rect x="659.7" y="1544.9" width="4.1" height="6.5" fill="#1a1acc"/>
<rect x="659.7" y="1551.4" width="4.1" height="171.1" fill="#d22ed2"/>
<rect x="663.8" y="1447.3" width="4.1" height="39.9" fill="#cc2020"/>
<rect x="663.8" y="1487.1" width="4.1" height="36" fill="#3ad63a"/>
<rect x="663.8" y="1523.1" width="4.1" height="10.3" fill="#1a1acc"/>
<rect x="663.8" y="1533.4" width="4.1" height="189.1" fill="#d22ed2"/>
<rect x="667.8" y="1420.9" width="4.1" height="26.4" fill="#3ad63a"/>
<rect x="667.8" y="1447.3" width="4.1" height="59.2" fill="#cc2020"/>
<rect x="667.8" y="1506.4" width="4.1" height="6.5" fill="#1a1acc"/>
<rect x="667.8" y="1512.8" width="4.1" height="209.6" fill="#d22ed2"/>
<rect x="671.9" y="1457.5" width="4.1" height="15.5" fill="#3ad63a"/>
<rect x="671.9" y="1473" width="4.1" height="38.6" fill="#cc2020"/>
<rect x="671.9" y="1511.5" width="4.1" height="2.6" fill="#1a1acc"/>
<rect x="671.9" y="1514.1" width="4.1" height="208.4" fill="#d22ed2"/>
<rect x="676" y="1510.9" width="4.1" height="14.8" fill="#cc2020"/>
<rect x="676" y="1525.7" width="4.1" height="12.9" fill="#3ad63a"/>
<rect x="676" y="1538.5" width="4.1" height="1.3" fill="#1a1acc"/>
<rect x="676" y="1539.8" width="4.1" height="182.7" fill="#d22ed2"/>
<rect x="680.1" y="1540.4" width="4.1" height="11" fill="#3ad63a"/>
<rect x="680.1" y="1551.4" width="4.1" height="15.5" fill="#cc2020"/>
<rect x="680.1" y="1566.8" width="4.1" height="7.8" fill="#1a1acc"/>
<rect x="680.1" y="1574.5" width="4.1" height="148" fill="#d22ed2"/>
<rect x="684.1" y="1530.8" width="4.1" height="10.3" fill="#3ad63a"/>
<rect x="684.1" y="1541.1" width="4.1" height="19.3" fill="#cc2020"/>
<rect x="684.1" y="1560.3" width="4.1" height="3.9" fill="#1a1acc"/>
<rect x="684.1" y="1564.2" width="4.1" height="158.2" fill="#d22ed2"/>
<rect x="688.2" y="1529.5" width="4.1" height="10.3" fill="#3ad63a"/>
<rect x="688.2" y="1539.8" width="4.1" height="20.6" fill="#cc2020"/>
<rect x="688.2" y="1560.3" width="4.1" height="2.6" fill="#1a1acc"/>
<rect x="688.2" y="1562.9" width="4.1" height="159.5" fill="#d22ed2"/>
<rect x="692.3" y="1548.1" width="4.1" height="9.7" fill="#3ad63a"/>
<rect x="692.3" y="1557.8" width="4.1" height="10.3" fill="#cc2020"/>
<rect x="692.3" y="1568.1" width="4.1" height="9" fill="#1a1acc"/>
<rect x="692.3" y="1577.1" width="4.1" height="145.4" fill="#d22ed2"/>
<rect x="696.4" y="1566.1" width="4.1" height="9.7" fill="#3ad63a"/>
<rect x="696.4" y="1575.8" width="4.1" height="14.2" fill="#cc2020"/>
<rect x="696.4" y="1589.9" width="4.1" height="6.5" fill="#1a1acc"/>
<rect x="696.4" y="1596.3" width="4.1" height="126.1" fill="#d22ed2"/>
<rect x="700.4" y="1564.2" width="4.1" height="2.6" fill="#cc2020"/>
<rect x="700.4" y="1566.8" width="4.1" height="20.6" fill="#3ad63a"/>
<rect x="700.4" y="1587.3" width="4.1" height="5.2" fill="#1a1acc"/>
<rect x="700.4" y="1592.5" width="4.1" height="130" fill="#d22ed2"/>
<rect x="704.5" y="1551.4" width="4.1" height="5.2" fill="#cc2020"/>
<rect x="704.5" y="1556.5" width="4.1" height="11.6" fill="#3ad63a"/>
<rect x="704.5" y="1568.1" width="4.1" height="19.3" fill="#1a1acc"/>
<rect x="704.5" y="1587.3" width="4.1" height="135.1" fill="#d22ed2"/>
<rect x="708.6" y="1560.3" width="4.1" height="10.3" fill="#cc2020"/>
<rect x="708.6" y="1570.6" width="4.1" height="10.3" fill="#3ad63a"/>
<rect x="708.6" y="1580.9" width="4.1" height="9" fill="#1a1acc"/>
<rect x="708.6" y="1589.9" width="4.1" height="132.5" fill="#d22ed2"/>
<rect x="712.6" y="1578.3" width="4.1" height="11.6" fill="#3ad63a"/>
<rect x="712.6" y="1589.9" width="4.1" height="9" fill="#cc2020"/>
<rect x="712.6" y="1598.9" width="4.1" height="3.9" fill="#1a1acc"/>
<rect x="712.6" y="1602.8" width="4.1" height="119.7" fill="#d22ed2"/>
<rect x="716.7" y="1557.8" width="4.1" height="18" fill="#3ad63a"/>
<rect x="716.7" y="1575.8" width="4.1" height="16.8" fill="#cc2020"/>
<rect x="716.7" y="1592.5" width="4.1" height="2.6" fill="#1a1acc"/>
<rect x="716.7" y="1595" width="4.1" height="127.4" fill="#d22ed2"/>
<rect x="720.8" y="1552.6" width="4.1" height="11.6" fill="#3ad63a"/>
<rect x="720.8" y="1564.2" width="4.1" height="2.6" fill="#cc2020"/>
<rect x="720.8" y="1566.8" width="4.1" height="19.3" fill="#1a1acc"/>
<rect x="720.8" y="1586" width="4.1" height="136.4" fill="#d22ed2"/>
<rect x="724.9" y="1531.4" width="4.1" height="26.4" fill="#3ad63a"/>
<rect x="724.9" y="1557.8" width="4.1" height="1.3" fill="#cc2020"/>
<rect x="724.9" y="1559.1" width="4.1" height="16.8" fill="#1a1acc"/>
<rect x="724.9" y="1575.8" width="4.1" height="146.7" fill="#d22ed2"/>
<rect x="728.9" y="1600.2" width="4.1" height="2.6" fill="#3ad63a"/>
<rect x="728.9" y="1602.8" width="4.1" height="2.6" fill="#cc2020"/>
<rect x="728.9" y="1605.3" width="4.1" height="5.2" fill="#1a1acc"/>
<rect x="728.9" y="1610.5" width="4.1" height="112" fill="#d22ed2"/>
<rect x="733" y="1588" width="4.1" height="7.1" fill="#cc2020"/>
<rect x="733" y="1595" width="4.1" height="1.3" fill="#3ad63a"/>
<rect x="733" y="1596.3" width="4.1" height="18" fill="#1a1acc"/>
<rect x="733" y="1614.3" width="4.1" height="108.1" fill="#d22ed2"/>
<rect x="737.1" y="1588.6" width="4.1" height="7.8" fill="#cc2020"/>
<rect x="737.1" y="1596.3" width="4.1" height="1.3" fill="#3ad63a"/>
<rect x="737.1" y="1597.6" width="4.1" height="16.8" fill="#1a1acc"/>
<rect x="737.1" y="1614.3" width="4.1" height="108.1" fill="#d22ed2"/>
<rect x="741.2" y="1600.2" width="4.1" height="5.2" fill="#cc2020"/>
<rect x="741.2" y="1605.3" width="4.1" height="1.3" fill="#3ad63a"/>
<rect x="741.2" y="1606.6" width="4.1" height="15.5" fill="#1a1acc"/>
<rect x="741.2" y="1622" width="4.1" height="100.4" fill="#d22ed2"/>
<rect x="745.2" y="1592.5" width="4.1" height="11.6" fill="#3ad63a"/>
<rect x="745.2" y="1604" width="4.1" height="3.9" fill="#cc2020"/>
<rect x="745.2" y="1607.9" width="4.1" height="12.9" fill="#1a1acc"/>
<rect x="745.2" y="1620.7" width="4.1" height="101.7" fill="#d22ed2"/>
<rect x="749.3" y="1575.8" width="4.1" height="12.9" fill="#cc2020"/>
<rect x="749.3" y="1588.6" width="4.1" height="1.3" fill="#3ad63a"/>
<rect x="749.3" y="1589.9" width="4.1" height="20.6" fill="#1a1acc"/>
<rect x="749.3" y="1610.5" width="4.1" height="112" fill="#d22ed2"/>
<rect x="753.4" y="1575.8" width="4.1" height="9" fill="#3ad63a"/>
<rect x="753.4" y="1584.8" width="4.1" height="1.3" fill="#cc2020"/>
<rect x="753.4" y="1586" width="4.1" height="21.9" fill="#1a1acc"/>
<rect x="753.4" y="1607.9" width="4.1" height="114.6" fill="#d22ed2"/>
<rect x="757.4" y="1587.3" width="4.1" height="7.8" fill="#cc2020"/>
<rect x="757.4" y="1595" width="4.1" height="3.9" fill="#3ad63a"/>
<rect x="757.4" y="1598.9" width="4.1" height="19.3" fill="#1a1acc"/>
<rect x="757.4" y="1618.2" width="4.1" height="104.3" fill="#d22ed2"/>
<rect x="761.5" y="1299" width="4.1" height="43" fill="#3ad63a"/>
<rect x="761.5" y="1342" width="4.1" height="179.8" fill="#cc2020"/>
<rect x="761.5" y="1521.8" width="4.1" height="13.6" fill="#d22ed2"/>
<rect x="761.5" y="1535.3" width="4.1" height="187.2" fill="#1a1acc"/>
<rect x="765.6" y="1176" width="4.1" height="57" fill="#3ad63a"/>
<rect x="765.6" y="1233" width="4.1" height="261.8" fill="#cc2020"/>
<rect x="765.6" y="1494.8" width="4.1" height="16.8" fill="#d22ed2"/>
<rect x="765.6" y="1511.5" width="4.1" height="211" fill="#1a1acc"/>
<rect x="769.7" y="1419" width="4.1" height="20" fill="#3ad63a"/>
<rect x="769.7" y="1438.9" width="4.1" height="123.4" fill="#cc2020"/>
<rect x="769.7" y="1562.3" width="4.1" height="2" fill="#1a1acc"/>
<rect x="769.7" y="1564.2" width="4.1" height="158.3" fill="#d22ed2"/>
<rect x="773.7" y="1589.9" width="4.1" height="9" fill="#3ad63a"/>
<rect x="773.7" y="1598.9" width="4.1" height="10.3" fill="#cc2020"/>
<rect x="773.7" y="1609.2" width="4.1" height="6.5" fill="#1a1acc"/>
<rect x="773.7" y="1615.6" width="4.1" height="106.8" fill="#d22ed2"/>
<rect x="777.8" y="1589.9" width="4.1" height="10.3" fill="#3ad63a"/>
<rect x="777.8" y="1600.2" width="4.1" height="7.8" fill="#cc2020"/>
<rect x="777.8" y="1607.9" width="4.1" height="9" fill="#1a1acc"/>
<rect x="777.8" y="1616.9" width="4.1" height="105.6" fill="#d22ed2"/>
<rect x="781.9" y="1577.1" width="4.1" height="6.5" fill="#cc2020"/>
<rect x="781.9" y="1583.5" width="4.1" height="6.5" fill="#3ad63a"/>
<rect x="781.9" y="1589.9" width="4.1" height="18" fill="#1a1acc"/>
<rect x="781.9" y="1607.9" width="4.1" height="114.6" fill="#d22ed2"/>
<rect x="785.9" y="1582.8" width="4.1" height="8.4" fill="#3ad63a"/>
<rect x="785.9" y="1591.2" width="4.1" height="1.3" fill="#cc2020"/>
<rect x="785.9" y="1592.5" width="4.1" height="18" fill="#1a1acc"/>
<rect x="785.9" y="1610.5" width="4.1" height="112" fill="#d22ed2"/>
<rect x="790" y="1592.5" width="4.1" height="6.5" fill="#cc2020"/>
<rect x="790" y="1598.9" width="4.1" height="3.9" fill="#3ad63a"/>
<rect x="790" y="1602.8" width="4.1" height="18" fill="#1a1acc"/>
<rect x="790" y="1620.7" width="4.1" height="101.7" fill="#d22ed2"/>
<rect x="794.1" y="1577.1" width="4.1" height="12.9" fill="#3ad63a"/>
<rect x="794.1" y="1589.9" width="4.1" height="6.5" fill="#cc2020"/>
<rect x="794.1" y="1596.3" width="4.1" height="19.3" fill="#1a1acc"/>
<rect x="794.1" y="1615.6" width="4.1" height="106.8" fill="#d22ed2"/>
<rect x="798.2" y="1584.1" width="4.1" height="13.5" fill="#3ad63a"/>
<rect x="798.2" y="1597.6" width="4.1" height="19.3" fill="#cc2020"/>
<rect x="798.2" y="1616.9" width="4.1" height="2.6" fill="#1a1acc"/>
<rect x="798.2" y="1619.5" width="4.1" height="103" fill="#d22ed2"/>
<rect x="802.2" y="1570.6" width="4.1" height="19.3" fill="#3ad63a"/>
<rect x="802.2" y="1589.9" width="4.1" height="6.5" fill="#cc2020"/>
<rect x="802.2" y="1596.3" width="4.1" height="14.2" fill="#1a1acc"/>
<rect x="802.2" y="1610.5" width="4.1" height="112" fill="#d22ed2"/>
<rect x="806.3" y="1584.8" width="4.1" height="20.6" fill="#3ad63a"/>
<rect x="806.3" y="1605.3" width="4.1" height="1.3" fill="#cc2020"/>
<rect x="806.3" y="1606.6" width="4.1" height="16.8" fill="#1a1acc"/>
<rect x="806.3" y="1623.3" width="4.1" height="99.1" fill="#d22ed2"/>
<rect x="810.4" y="1588.6" width="4.1" height="14.2" fill="#3ad63a"/>
<rect x="810.4" y="1602.8" width="4.1" height="2.6" fill="#cc2020"/>
<rect x="810.4" y="1605.3" width="4.1" height="15.5" fill="#1a1acc"/>
<rect x="810.4" y="1620.7" width="4.1" height="101.7" fill="#d22ed2"/>
<rect x="814.5" y="1579" width="4.1" height="11" fill="#cc2020"/>
<rect x="814.5" y="1589.9" width="4.1" height="9" fill="#3ad63a"/>
<rect x="814.5" y="1598.9" width="4.1" height="19.3" fill="#1a1acc"/>
<rect x="814.5" y="1618.2" width="4.1" height="104.3" fill="#d22ed2"/>
<rect x="818.5" y="1555.8" width="4.1" height="6.5" fill="#3ad63a"/>
<rect x="818.5" y="1562.3" width="4.1" height="5.8" fill="#cc2020"/>
<rect x="818.5" y="1568.1" width="4.1" height="21.9" fill="#1a1acc"/>
<rect x="818.5" y="1589.9" width="4.1" height="132.5" fill="#d22ed2"/>
<rect x="822.6" y="1542.4" width="4.1" height="9" fill="#3ad63a"/>
<rect x="822.6" y="1551.4" width="4.1" height="1.3" fill="#cc2020"/>
<rect x="822.6" y="1552.6" width="4.1" height="23.2" fill="#1a1acc"/>
<rect x="822.6" y="1575.8" width="4.1" height="146.7" fill="#d22ed2"/>
<rect x="826.7" y="1495.5" width="4.1" height="14.8" fill="#cc2020"/>
<rect x="826.7" y="1510.2" width="4.1" height="20.6" fill="#3ad63a"/>
<rect x="826.7" y="1530.8" width="4.1" height="23.2" fill="#1a1acc"/>
<rect x="826.7" y="1553.9" width="4.1" height="168.5" fill="#d22ed2"/>
<rect x="830.7" y="1505.1" width="4.1" height="11.6" fill="#cc2020"/>
<rect x="830.7" y="1516.7" width="4.1" height="16.8" fill="#3ad63a"/>
<rect x="830.7" y="1533.4" width="4.1" height="21.9" fill="#1a1acc"/>
<rect x="830.7" y="1555.2" width="4.1" height="167.2" fill="#d22ed2"/>
<rect x="834.8" y="1483.9" width="4.1" height="20" fill="#cc2020"/>
<rect x="834.8" y="1503.8" width="4.1" height="20.6" fill="#3ad63a"/>
<rect x="834.8" y="1524.4" width="4.1" height="23.2" fill="#1a1acc"/>
<rect x="834.8" y="1547.5" width="4.1" height="175" fill="#d22ed2"/>
<rect x="838.9" y="1491" width="4.1" height="21.9" fill="#cc2020"/>
<rect x="838.9" y="1512.8" width="4.1" height="15.5" fill="#3ad63a"/>
<rect x="838.9" y="1528.2" width="4.1" height="23.2" fill="#1a1acc"/>
<rect x="838.9" y="1551.4" width="4.1" height="171.1" fill="#d22ed2"/>
<rect x="843" y="1510.9" width="4.1" height="21.9" fill="#cc2020"/>
<rect x="843" y="1532.7" width="4.1" height="27" fill="#3ad63a"/>
<rect x="843" y="1559.7" width="4.1" height="17.4" fill="#1a1acc"/>
<rect x="843" y="1577.1" width="4.1" height="145.4" fill="#d22ed2"/>
<rect x="847" y="1543" width="4.1" height="20.6" fill="#cc2020"/>
<rect x="847" y="1563.6" width="4.1" height="25.1" fill="#3ad63a"/>
<rect x="847" y="1588.6" width="4.1" height="1.3" fill="#1a1acc"/>
<rect x="847" y="1589.9" width="4.1" height="132.5" fill="#d22ed2"/>
<rect x="851.1" y="1519.2" width="4.1" height="16.1" fill="#cc2020"/>
<rect x="851.1" y="1535.3" width="4.1" height="9.7" fill="#3ad63a"/>
<rect x="851.1" y="1544.9" width="4.1" height="28.3" fill="#1a1acc"/>
<rect x="851.1" y="1573.2" width="4.1" height="149.3" fill="#d22ed2"/>
<rect x="855.2" y="1579" width="4.1" height="3.9" fill="#3ad63a"/>
<rect x="855.2" y="1582.8" width="4.1" height="20" fill="#cc2020"/>
<rect x="855.2" y="1602.8" width="4.1" height="9" fill="#1a1acc"/>
<rect x="855.2" y="1611.7" width="4.1" height="110.7" fill="#d22ed2"/>
<rect x="859.3" y="1579" width="4.1" height="3.9" fill="#3ad63a"/>
<rect x="859.3" y="1582.8" width="4.1" height="18.7" fill="#cc2020"/>
<rect x="859.3" y="1601.5" width="4.1" height="10.3" fill="#1a1acc"/>
<rect x="859.3" y="1611.7" width="4.1" height="110.7" fill="#d22ed2"/>
<rect x="863.3" y="1542.4" width="4.1" height="10.3" fill="#cc2020"/>
<rect x="863.3" y="1552.6" width="4.1" height="23.2" fill="#3ad63a"/>
<rect x="863.3" y="1575.8" width="4.1" height="12.9" fill="#1a1acc"/>
<rect x="863.3" y="1588.6" width="4.1" height="133.8" fill="#d22ed2"/>
<rect x="867.4" y="1575.8" width="4.1" height="10.3" fill="#cc2020"/>
<rect x="867.4" y="1586" width="4.1" height="6.5" fill="#3ad63a"/>
<rect x="867.4" y="1592.5" width="4.1" height="10.3" fill="#1a1acc"/>
<rect x="867.4" y="1602.8" width="4.1" height="119.7" fill="#d22ed2"/>
<rect x="871.5" y="1569.3" width="4.1" height="5.8" fill="#cc2020"/>
<rect x="871.5" y="1575.1" width="4.1" height="14.8" fill="#3ad63a"/>
<rect x="871.5" y="1589.9" width="4.1" height="11.6" fill="#1a1acc"/>
<rect x="871.5" y="1601.5" width="4.1" height="121" fill="#d22ed2"/>
<rect x="875.5" y="1587.3" width="4.1" height="2.6" fill="#cc2020"/>
<rect x="875.5" y="1589.9" width="4.1" height="6.5" fill="#3ad63a"/>
<rect x="875.5" y="1596.3" width="4.1" height="10.3" fill="#1a1acc"/>
<rect x="875.5" y="1606.6" width="4.1" height="115.8" fill="#d22ed2"/>
<rect x="879.6" y="1567.4" width="4.1" height="12.3" fill="#cc2020"/>
<rect x="879.6" y="1579.6" width="4.1" height="11.6" fill="#3ad63a"/>
<rect x="879.6" y="1591.2" width="4.1" height="15.5" fill="#1a1acc"/>
<rect x="879.6" y="1606.6" width="4.1" height="115.8" fill="#d22ed2"/>
<rect x="883.7" y="1561" width="4.1" height="17.4" fill="#cc2020"/>
<rect x="883.7" y="1578.3" width="4.1" height="9" fill="#3ad63a"/>
<rect x="883.7" y="1587.3" width="4.1" height="15.5" fill="#1a1acc"/>
<rect x="883.7" y="1602.8" width="4.1" height="119.7" fill="#d22ed2"/>
<rect x="887.8" y="1569.3" width="4.1" height="13.5" fill="#cc2020"/>
<rect x="887.8" y="1582.8" width="4.1" height="5.8" fill="#3ad63a"/>
<rect x="887.8" y="1588.6" width="4.1" height="19.3" fill="#1a1acc"/>
<rect x="887.8" y="1607.9" width="4.1" height="114.6" fill="#d22ed2"/>
<rect x="891.8" y="1588.6" width="4.1" height="7.8" fill="#cc2020"/>
<rect x="891.8" y="1596.3" width="4.1" height="3.9" fill="#3ad63a"/>
<rect x="891.8" y="1600.2" width="4.1" height="10.3" fill="#1a1acc"/>
<rect x="891.8" y="1610.5" width="4.1" height="112" fill="#d22ed2"/>
<rect x="895.9" y="1584.8" width="4.1" height="10.3" fill="#cc2020"/>
<rect x="895.9" y="1595" width="4.1" height="5.2" fill="#3ad63a"/>
<rect x="895.9" y="1600.2" width="4.1" height="10.3" fill="#1a1acc"/>
<rect x="895.9" y="1610.5" width="4.1" height="112" fill="#d22ed2"/>
<rect x="900" y="1584.8" width="4.1" height="11.6" fill="#cc2020"/>
<rect x="900" y="1596.3" width="4.1" height="3.9" fill="#3ad63a"/>
<rect x="900" y="1600.2" width="4.1" height="14.2" fill="#1a1acc"/>
<rect x="900" y="1614.3" width="4.1" height="108.1" fill="#d22ed2"/>
<rect x="904.1" y="1580.9" width="4.1" height="3.9" fill="#cc2020"/>
<rect x="904.1" y="1584.8" width="4.1" height="7.8" fill="#3ad63a"/>
<rect x="904.1" y="1592.5" width="4.1" height="21.9" fill="#1a1acc"/>
<rect x="904.1" y="1614.3" width="4.1" height="108.1" fill="#d22ed2"/>
<rect x="908.1" y="1562.3" width="4.1" height="20" fill="#cc2020"/>
<rect x="908.1" y="1582.2" width="4.1" height="2.6" fill="#3ad63a"/>
<rect x="908.1" y="1584.8" width="4.1" height="15.5" fill="#1a1acc"/>
<rect x="908.1" y="1600.2" width="4.1" height="122.3" fill="#d22ed2"/>
<rect x="912.2" y="1578.3" width="4.1" height="14.2" fill="#3ad63a"/>
<rect x="912.2" y="1592.5" width="4.1" height="2.6" fill="#cc2020"/>
<rect x="912.2" y="1595" width="4.1" height="14.2" fill="#1a1acc"/>
<rect x="912.2" y="1609.2" width="4.1" height="113.3" fill="#d22ed2"/>
<rect x="916.3" y="1586.7" width="4.1" height="8.4" fill="#3ad63a"/>
<rect x="916.3" y="1595" width="4.1" height="12.9" fill="#cc2020"/>
<rect x="916.3" y="1607.9" width="4.1" height="7.8" fill="#1a1acc"/>
<rect x="916.3" y="1615.6" width="4.1" height="106.8" fill="#d22ed2"/>
<rect x="920.3" y="1580.9" width="4.1" height="14.2" fill="#3ad63a"/>
<rect x="920.3" y="1595" width="4.1" height="7.8" fill="#cc2020"/>
<rect x="920.3" y="1602.8" width="4.1" height="9" fill="#1a1acc"/>
<rect x="920.3" y="1611.7" width="4.1" height="110.7" fill="#d22ed2"/>
<rect x="924.4" y="1570.6" width="4.1" height="16.8" fill="#cc2020"/>
<rect x="924.4" y="1587.3" width="4.1" height="2.6" fill="#3ad63a"/>
<rect x="924.4" y="1589.9" width="4.1" height="12.9" fill="#1a1acc"/>
<rect x="924.4" y="1602.8" width="4.1" height="119.7" fill="#d22ed2"/>
<rect x="928.5" y="1555.8" width="4.1" height="17.4" fill="#cc2020"/>
<rect x="928.5" y="1573.2" width="4.1" height="2.6" fill="#3ad63a"/>
<rect x="928.5" y="1575.8" width="4.1" height="20.6" fill="#1a1acc"/>
<rect x="928.5" y="1596.3" width="4.1" height="126.1" fill="#d22ed2"/>
<rect x="932.6" y="1574.5" width="4.1" height="2.6" fill="#3ad63a"/>
<rect x="932.6" y="1577.1" width="4.1" height="16.8" fill="#cc2020"/>
<rect x="932.6" y="1593.8" width="4.1" height="9" fill="#1a1acc"/>
<rect x="932.6" y="1602.8" width="4.1" height="119.7" fill="#d22ed2"/>
<rect x="936.6" y="1587.3" width="4.1" height="12.9" fill="#cc2020"/>
<rect x="936.6" y="1600.2" width="4.1" height="2.6" fill="#3ad63a"/>
<rect x="936.6" y="1602.8" width="4.1" height="10.3" fill="#1a1acc"/>
<rect x="936.6" y="1613" width="4.1" height="109.4" fill="#d22ed2"/>
<rect x="940.7" y="1584.8" width="4.1" height="16.8" fill="#cc2020"/>
<rect x="940.7" y="1601.5" width="4.1" height="2.6" fill="#3ad63a"/>
<rect x="940.7" y="1604" width="4.1" height="10.3" fill="#1a1acc"/>
<rect x="940.7" y="1614.3" width="4.1" height="108.1" fill="#d22ed2"/>
<rect x="944.8" y="1583.5" width="4.1" height="16.8" fill="#cc2020"/>
<rect x="944.8" y="1600.2" width="4.1" height="2.6" fill="#3ad63a"/>
<rect x="944.8" y="1602.8" width="4.1" height="10.3" fill="#1a1acc"/>
<rect x="944.8" y="1613" width="4.1" height="109.4" fill="#d22ed2"/>
<rect x="948.8" y="1574.5" width="4.1" height="7.8" fill="#3ad63a"/>
<rect x="948.8" y="1582.2" width="4.1" height="15.5" fill="#cc2020"/>
<rect x="948.8" y="1597.6" width="4.1" height="9" fill="#1a1acc"/>
<rect x="948.8" y="1606.6" width="4.1" height="115.8" fill="#d22ed2"/>
<rect x="952.9" y="1569.3" width="4.1" height="11.6" fill="#3ad63a"/>
<rect x="952.9" y="1580.9" width="4.1" height="14.2" fill="#cc2020"/>
<rect x="952.9" y="1595" width="4.1" height="9" fill="#1a1acc"/>
<rect x="952.9" y="1604" width="4.1" height="118.4" fill="#d22ed2"/>
<rect x="957" y="1577.1" width="4.1" height="3.9" fill="#3ad63a"/>
<rect x="957" y="1580.9" width="4.1" height="14.2" fill="#cc2020"/>
<rect x="957" y="1595" width="4.1" height="10.3" fill="#1a1acc"/>
<rect x="957" y="1605.3" width="4.1" height="117.1" fill="#d22ed2"/>
<rect x="961.1" y="1569.3" width="4.1" height="6.5" fill="#cc2020"/>
<rect x="961.1" y="1575.8" width="4.1" height="14.2" fill="#3ad63a"/>
<rect x="961.1" y="1589.9" width="4.1" height="11.6" fill="#1a1acc"/>
<rect x="961.1" y="1601.5" width="4.1" height="121" fill="#d22ed2"/>
<rect x="965.1" y="1552.6" width="4.1" height="14.8" fill="#cc2020"/>
<rect x="965.1" y="1567.4" width="4.1" height="16.1" fill="#3ad63a"/>
<rect x="965.1" y="1583.5" width="4.1" height="12.9" fill="#1a1acc"/>
<rect x="965.1" y="1596.3" width="4.1" height="126.1" fill="#d22ed2"/>
<rect x="969.2" y="1569.3" width="4.1" height="12.9" fill="#3ad63a"/>
<rect x="969.2" y="1582.2" width="4.1" height="3.9" fill="#cc2020"/>
<rect x="969.2" y="1586" width="4.1" height="14.2" fill="#1a1acc"/>
<rect x="969.2" y="1600.2" width="4.1" height="122.3" fill="#d22ed2"/>
<rect x="973.3" y="1570.6" width="4.1" height="12.9" fill="#3ad63a"/>
<rect x="973.3" y="1583.5" width="4.1" height="5.2" fill="#cc2020"/>
<rect x="973.3" y="1588.6" width="4.1" height="12.9" fill="#1a1acc"/>
<rect x="973.3" y="1601.5" width="4.1" height="121" fill="#d22ed2"/>
<rect x="977.4" y="1573.2" width="4.1" height="14.2" fill="#3ad63a"/>
<rect x="977.4" y="1587.3" width="4.1" height="2.6" fill="#cc2020"/>
<rect x="977.4" y="1589.9" width="4.1" height="12.9" fill="#1a1acc"/>
<rect x="977.4" y="1602.8" width="4.1" height="119.7" fill="#d22ed2"/>
<rect x="981.4" y="1579" width="4.1" height="11.1" fill="#3ad63a"/>
<rect x="981.4" y="1590" width="4.1" height="7" fill="#cc2020"/>
<rect x="981.4" y="1597" width="4.1" height="15.1" fill="#1a1acc"/>
<rect x="981.4" y="1612" width="4.1" height="110.5" fill="#d22ed2"/>
<rect x="985.5" y="1591" width="4.1" height="6" fill="#3ad63a"/>
<rect x="985.5" y="1597" width="4.1" height="12.1" fill="#cc2020"/>
<rect x="985.5" y="1609" width="4.1" height="11.1" fill="#1a1acc"/>
<rect x="985.5" y="1620" width="4.1" height="102.5" fill="#d22ed2"/>
<path d="M191.4 1504.4h4.1M191.4 1524.4h4.1M191.4 1550.1h4.1M191.4 1564.2h4.1M191.4 1504.4V1722.4M195.4 1504.4h4.1M195.4 1524.4h4.1M195.4 1550.1h4.1M195.4 1564.2h4.1M195.4 1504.4V1722.4M199.5 1534.6h4.1M199.5 1550.1h4.1M199.5 1555.2h4.1M199.5 1582.2h4.1M199.5 1504.4V1722.4M203.6 1514.1h4.1M203.6 1530.8h4.1M203.6 1538.5h4.1M203.6 1566.8h4.1M203.6 1514.1V1722.4M207.7 1544.3h4.1M207.7 1555.2h4.1M207.7 1565.5h4.1M207.7 1588.6h4.1M207.7 1514.1V1722.4M211.7 1551.4h4.1M211.7 1553.9h4.1M211.7 1565.5h4.1M211.7 1589.9h4.1M211.7 1544.3V1722.4M215.8 1494.2h4.1M215.8 1516.7h4.1M215.8 1521.8h4.1M215.8 1564.2h4.1M215.8 1494.2V1722.4M219.9 1445.3h4.1M219.9 1482h4.1M219.9 1483.2h4.1M219.9 1535.9h4.1M219.9 1445.3V1722.4M223.9 1505.7h4.1M223.9 1512.8h4.1M223.9 1532.1h4.1M223.9 1566.1h4.1M223.9 1445.3V1722.4M228 1538.5h4.1M228 1541.1h4.1M228 1570.6h4.1M228 1582.2h4.1M228 1505.7V1722.4M232.1 1540.4h4.1M232.1 1570.6h4.1M232.1 1575.8h4.1M232.1 1583.5h4.1M232.1 1538.5V1722.4M236.2 1553.9h4.1M236.2 1564.2h4.1M236.2 1578.3h4.1M236.2 1591.2h4.1M236.2 1540.4V1722.4M240.2 1560.3h4.1M240.2 1587.3h4.1M240.2 1588.6h4.1M240.2 1596.3h4.1M240.2 1553.9V1722.4M244.3 1546.9h4.1M244.3 1555.2h4.1M244.3 1573.2h4.1M244.3 1587.3h4.1M244.3 1546.9V1722.4M248.4 1562.9h4.1M248.4 1569.3h4.1M248.4 1578.3h4.1M248.4 1595h4.1M248.4 1546.9V1722.4M252.5 1552h4.1M252.5 1560.3h4.1M252.5 1568.1h4.1M252.5 1587.3h4.1M252.5 1552V1722.4M256.5 1533.4h4.1M256.5 1546.2h4.1M256.5 1551.4h4.1M256.5 1570.6h4.1M256.5 1533.4V1722.4M260.6 1526.9h4.1M260.6 1544.3h4.1M260.6 1557.8h4.1M260.6 1568.1h4.1M260.6 1526.9V1722.4M264.7 1507h4.1M264.7 1516h4.1M264.7 1539.8h4.1M264.7 1552.6h4.1M264.7 1507V1722.4M268.7 1543.6h4.1M268.7 1551.4h4.1M268.7 1570.6h4.1M268.7 1580.9h4.1M268.7 1507V1722.4M272.8 1546.2h4.1M272.8 1560.3h4.1M272.8 1570.6h4.1M272.8 1582.2h4.1M272.8 1543.6V1722.4M276.9 1522.4h4.1M276.9 1546.2h4.1M276.9 1561.6h4.1M276.9 1570.6h4.1M276.9 1522.4V1722.4M281 1514.1h4.1M281 1528.2h4.1M281 1555.2h4.1M281 1561.6h4.1M281 1514.1V1722.4M285 1514.1h4.1M285 1533.4h4.1M285 1557.8h4.1M285 1565.5h4.1M285 1514.1V1722.4M289.1 1524.4h4.1M289.1 1537.2h4.1M289.1 1578.3h4.1M289.1 1582.2h4.1M289.1 1514.1V1722.4M293.2 1492.2h4.1M293.2 1503.8h4.1M293.2 1575.8h4.1M293.2 1577.1h4.1M293.2 1492.2V1722.4M297.2 1430.6h4.1M297.2 1447.9h4.1M297.2 1561.6h4.1M297.2 1569.3h4.1M297.2 1430.6V1722.4M301.3 1489.7h4.1M301.3 1490.3h4.1M301.3 1575.8h4.1M301.3 1578.3h4.1M301.3 1430.6V1722.4M305.4 1514.1h4.1M305.4 1524.4h4.1M305.4 1557.8h4.1M305.4 1565.5h4.1M305.4 1489.7V1722.4M309.5 1520.5h4.1M309.5 1543.6h4.1M309.5 1562.9h4.1M309.5 1570.6h4.1M309.5 1514.1V1722.4M313.5 1539.1h4.1M313.5 1555.2h4.1M313.5 1571.9h4.1M313.5 1578.3h4.1M313.5 1520.5V1722.4M317.6 1546.9h4.1M317.6 1556.5h4.1M317.6 1573.2h4.1M317.6 1580.9h4.1M317.6 1539.1V1722.4M321.7 1537.2h4.1M321.7 1546.2h4.1M321.7 1574.5h4.1M321.7 1578.3h4.1M321.7 1537.2V1722.4M325.8 1547.5h4.1M325.8 1557.8h4.1M325.8 1579.6h4.1M325.8 1583.5h4.1M325.8 1537.2V1722.4M329.8 1562.3h4.1M329.8 1571.9h4.1M329.8 1583.5h4.1M329.8 1595h4.1M329.8 1547.5V1722.4M333.9 1568.1h4.1M333.9 1574.5h4.1M333.9 1583.5h4.1M333.9 1596.3h4.1M333.9 1562.3V1722.4M338 1566.1h4.1M338 1577.1h4.1M338 1584.8h4.1M338 1595.7h4.1M338 1566.1V1722.4M342 1560.3h4.1M342 1575.8h4.1M342 1582.2h4.1M342 1593.8h4.1M342 1560.3V1722.4M346.1 1557.1h4.1M346.1 1571.9h4.1M346.1 1583.5h4.1M346.1 1595h4.1M346.1 1557.1V1722.4M350.2 1560.3h4.1M350.2 1571.9h4.1M350.2 1582.2h4.1M350.2 1595h4.1M350.2 1557.1V1722.4M354.3 1545.6h4.1M354.3 1565.5h4.1M354.3 1575.8h4.1M354.3 1587.3h4.1M354.3 1545.6V1722.4M358.3 1532.7h4.1M358.3 1557.8h4.1M358.3 1566.8h4.1M358.3 1575.8h4.1M358.3 1532.7V1722.4M362.4 1554.6h4.1M362.4 1573.2h4.1M362.4 1582.2h4.1M362.4 1592.5h4.1M362.4 1532.7V1722.4M366.5 1565.5h4.1M366.5 1574.5h4.1M366.5 1584.8h4.1M366.5 1595h4.1M366.5 1554.6V1722.4M370.6 1569.3h4.1M370.6 1575.8h4.1M370.6 1586h4.1M370.6 1597.6h4.1M370.6 1565.5V1722.4M374.6 1563.6h4.1M374.6 1578.3h4.1M374.6 1587.3h4.1M374.6 1597.6h4.1M374.6 1563.6V1722.4M378.7 1559.1h4.1M378.7 1579.6h4.1M378.7 1588h4.1M378.7 1597h4.1M378.7 1559.1V1722.4M382.8 1552.6h4.1M382.8 1568.1h4.1M382.8 1575.8h4.1M382.8 1587.3h4.1M382.8 1552.6V1722.4M386.8 1553.9h4.1M386.8 1571.9h4.1M386.8 1575.8h4.1M386.8 1588h4.1M386.8 1552.6V1722.4M390.9 1564.2h4.1M390.9 1580.9h4.1M390.9 1582.2h4.1M390.9 1596.3h4.1M390.9 1553.9V1722.4M395 1540.4h4.1M395 1568.1h4.1M395 1573.2h4.1M395 1582.2h4.1M395 1540.4V1722.4M399.1 1540.4h4.1M399.1 1568.1h4.1M399.1 1574.5h4.1M399.1 1583.5h4.1M399.1 1540.4V1722.4M403.1 1543.6h4.1M403.1 1571.9h4.1M403.1 1577.1h4.1M403.1 1586h4.1M403.1 1540.4V1722.4M407.2 1544.9h4.1M407.2 1569.3h4.1M407.2 1574.5h4.1M407.2 1586h4.1M407.2 1543.6V1722.4M411.3 1553.9h4.1M411.3 1565.5h4.1M411.3 1582.2h4.1M411.3 1589.9h4.1M411.3 1544.9V1722.4M415.4 1564.2h4.1M415.4 1575.8h4.1M415.4 1586h4.1M415.4 1596.3h4.1M415.4 1553.9V1722.4M419.4 1566.1h4.1M419.4 1583.5h4.1M419.4 1588.6h4.1M419.4 1597h4.1M419.4 1564.2V1722.4M423.5 1572.6h4.1M423.5 1587.3h4.1M423.5 1589.9h4.1M423.5 1602.8h4.1M423.5 1566.1V1722.4M427.6 1569.3h4.1M427.6 1586h4.1M427.6 1588.6h4.1M427.6 1600.2h4.1M427.6 1569.3V1722.4M431.6 1565.5h4.1M431.6 1577.1h4.1M431.6 1587.3h4.1M431.6 1595h4.1M431.6 1565.5V1722.4M435.7 1571.3h4.1M435.7 1582.2h4.1M435.7 1592.5h4.1M435.7 1602.8h4.1M435.7 1565.5V1722.4M439.8 1571.9h4.1M439.8 1583.5h4.1M439.8 1592.5h4.1M439.8 1602.8h4.1M439.8 1571.3V1722.4M443.9 1566.8h4.1M443.9 1577.1h4.1M443.9 1588.6h4.1M443.9 1597.6h4.1M443.9 1566.8V1722.4M447.9 1561.6h4.1M447.9 1575.8h4.1M447.9 1587.3h4.1M447.9 1595h4.1M447.9 1561.6V1722.4M452 1554.6h4.1M452 1571.9h4.1M452 1582.2h4.1M452 1591.2h4.1M452 1554.6V1722.4M456.1 1552.6h4.1M456.1 1574.5h4.1M456.1 1583.5h4.1M456.1 1589.9h4.1M456.1 1552.6V1722.4M460.1 1556.5h4.1M460.1 1579.6h4.1M460.1 1582.2h4.1M460.1 1589.9h4.1M460.1 1552.6V1722.4M464.2 1559.1h4.1M464.2 1578.3h4.1M464.2 1582.2h4.1M464.2 1592.5h4.1M464.2 1556.5V1722.4M468.3 1552.6h4.1M468.3 1575.8h4.1M468.3 1577.1h4.1M468.3 1591.2h4.1M468.3 1552.6V1722.4M472.4 1541.1h4.1M472.4 1573.2h4.1M472.4 1575.8h4.1M472.4 1587.3h4.1M472.4 1541.1V1722.4M476.4 1543h4.1M476.4 1577.1h4.1M476.4 1582.2h4.1M476.4 1592.5h4.1M476.4 1541.1V1722.4M480.5 1546.2h4.1M480.5 1574.5h4.1M480.5 1578.3h4.1M480.5 1591.2h4.1M480.5 1543V1722.4M484.6 1548.1h4.1M484.6 1570.6h4.1M484.6 1577.1h4.1M484.6 1589.9h4.1M484.6 1546.2V1722.4M488.7 1553.9h4.1M488.7 1571.9h4.1M488.7 1577.1h4.1M488.7 1589.9h4.1M488.7 1548.1V1722.4M492.7 1553.3h4.1M492.7 1573.2h4.1M492.7 1578.3h4.1M492.7 1589.9h4.1M492.7 1553.3V1722.4M496.8 1543h4.1M496.8 1573.2h4.1M496.8 1584.8h4.1M496.8 1589.9h4.1M496.8 1543V1722.4M500.9 1524.4h4.1M500.9 1571.9h4.1M500.9 1575.8h4.1M500.9 1579.6h4.1M500.9 1524.4V1722.4M504.9 1519.2h4.1M504.9 1573.2h4.1M504.9 1574.5h4.1M504.9 1578.3h4.1M504.9 1519.2V1722.4M509 1537.9h4.1M509 1579.6h4.1M509 1582.2h4.1M509 1588.6h4.1M509 1519.2V1722.4M513.1 1561.6h4.1M513.1 1578.3h4.1M513.1 1591.2h4.1M513.1 1598.9h4.1M513.1 1537.9V1722.4M517.2 1556.5h4.1M517.2 1570.6h4.1M517.2 1583.5h4.1M517.2 1589.9h4.1M517.2 1556.5V1722.4M521.2 1560.3h4.1M521.2 1571.9h4.1M521.2 1583.5h4.1M521.2 1591.2h4.1M521.2 1556.5V1722.4M525.3 1552.6h4.1M525.3 1570.6h4.1M525.3 1582.2h4.1M525.3 1587.3h4.1M525.3 1552.6V1722.4M529.4 1544.3h4.1M529.4 1562.9h4.1M529.4 1570.6h4.1M529.4 1582.2h4.1M529.4 1544.3V1722.4M533.5 1546.2h4.1M533.5 1563.6h4.1M533.5 1569.3h4.1M533.5 1582.2h4.1M533.5 1544.3V1722.4M537.5 1544.3h4.1M537.5 1562.9h4.1M537.5 1573.2h4.1M537.5 1583.5h4.1M537.5 1544.3V1722.4M541.6 1546.2h4.1M541.6 1560.3h4.1M541.6 1575.8h4.1M541.6 1584.8h4.1M541.6 1544.3V1722.4M545.7 1551.4h4.1M545.7 1561.6h4.1M545.7 1570.6h4.1M545.7 1582.2h4.1M545.7 1546.2V1722.4M549.7 1550.1h4.1M549.7 1552.6h4.1M549.7 1559.1h4.1M549.7 1580.9h4.1M549.7 1550.1V1722.4M553.8 1549.4h4.1M553.8 1553.9h4.1M553.8 1559.1h4.1M553.8 1579.6h4.1M553.8 1549.4V1722.4M557.9 1539.1h4.1M557.9 1548.8h4.1M557.9 1561.6h4.1M557.9 1569.3h4.1M557.9 1539.1V1722.4M562 1532.7h4.1M562 1541.1h4.1M562 1550.1h4.1M562 1565.5h4.1M562 1532.7V1722.4M566 1539.8h4.1M566 1546.2h4.1M566 1561.6h4.1M566 1569.3h4.1M566 1532.7V1722.4M570.1 1555.2h4.1M570.1 1562.9h4.1M570.1 1574.5h4.1M570.1 1587.3h4.1M570.1 1539.8V1722.4M574.2 1546.2h4.1M574.2 1561.6h4.1M574.2 1568.1h4.1M574.2 1580.9h4.1M574.2 1546.2V1722.4M578.3 1543h4.1M578.3 1556.5h4.1M578.3 1565.5h4.1M578.3 1575.8h4.1M578.3 1543V1722.4M582.3 1532.7h4.1M582.3 1562.9h4.1M582.3 1568.1h4.1M582.3 1575.8h4.1M582.3 1532.7V1722.4M586.4 1524.4h4.1M586.4 1566.8h4.1M586.4 1577.1h4.1M586.4 1579.6h4.1M586.4 1524.4V1722.4M590.5 1525.7h4.1M590.5 1553.9h4.1M590.5 1556.5h4.1M590.5 1566.8h4.1M590.5 1524.4V1722.4M594.5 1521.8h4.1M594.5 1551.4h4.1M594.5 1555.2h4.1M594.5 1560.3h4.1M594.5 1521.8V1722.4M598.6 1519.9h4.1M598.6 1544.9h4.1M598.6 1551.4h4.1M598.6 1560.3h4.1M598.6 1519.9V1722.4M602.7 1539.8h4.1M602.7 1560.3h4.1M602.7 1561.6h4.1M602.7 1564.2h4.1M602.7 1519.9V1722.4M606.8 1566.1h4.1M606.8 1580.9h4.1M606.8 1581.5h4.1M606.8 1595h4.1M606.8 1539.8V1722.4M610.8 1557.8h4.1M610.8 1559.1h4.1M610.8 1577.1h4.1M610.8 1589.9h4.1M610.8 1557.8V1722.4M614.9 1551.4h4.1M614.9 1562.9h4.1M614.9 1571.9h4.1M614.9 1584.8h4.1M614.9 1551.4V1722.4M619 1553.9h4.1M619 1564.2h4.1M619 1570.6h4.1M619 1583.5h4.1M619 1551.4V1722.4M623 1534h4.1M623 1538.5h4.1M623 1543.6h4.1M623 1570.6h4.1M623 1534V1722.4M627.1 1508.9h4.1M627.1 1515.4h4.1M627.1 1526.9h4.1M627.1 1551.4h4.1M627.1 1508.9V1722.4M631.2 1521.8h4.1M631.2 1530.8h4.1M631.2 1533.4h4.1M631.2 1552.6h4.1M631.2 1508.9V1722.4M635.3 1555.2h4.1M635.3 1568.1h4.1M635.3 1574.5h4.1M635.3 1588.6h4.1M635.3 1521.8V1722.4M639.3 1580.9h4.1M639.3 1581.5h4.1M639.3 1582.2h4.1M639.3 1601.5h4.1M639.3 1555.2V1722.4M643.4 1521.2h4.1M643.4 1529.5h4.1M643.4 1543.6h4.1M643.4 1551.4h4.1M643.4 1521.2V1722.4M647.5 1534.6h4.1M647.5 1542.4h4.1M647.5 1559.1h4.1M647.5 1566.8h4.1M647.5 1521.2V1722.4M651.6 1489.7h4.1M651.6 1500h4.1M651.6 1516.7h4.1M651.6 1528.2h4.1M651.6 1489.7V1722.4M655.6 1489.7h4.1M655.6 1500h4.1M655.6 1523.1h4.1M655.6 1532.1h4.1M655.6 1489.7V1722.4M659.7 1485.8h4.1M659.7 1498.7h4.1M659.7 1544.9h4.1M659.7 1551.4h4.1M659.7 1485.8V1722.4M663.8 1447.3h4.1M663.8 1487.1h4.1M663.8 1523.1h4.1M663.8 1533.4h4.1M663.8 1447.3V1722.4M667.8 1420.9h4.1M667.8 1447.3h4.1M667.8 1506.4h4.1M667.8 1512.8h4.1M667.8 1420.9V1722.4M671.9 1457.5h4.1M671.9 1473h4.1M671.9 1511.5h4.1M671.9 1514.1h4.1M671.9 1420.9V1722.4M676 1510.9h4.1M676 1525.7h4.1M676 1538.5h4.1M676 1539.8h4.1M676 1457.5V1722.4M680.1 1540.4h4.1M680.1 1551.4h4.1M680.1 1566.8h4.1M680.1 1574.5h4.1M680.1 1510.9V1722.4M684.1 1530.8h4.1M684.1 1541.1h4.1M684.1 1560.3h4.1M684.1 1564.2h4.1M684.1 1530.8V1722.4M688.2 1529.5h4.1M688.2 1539.8h4.1M688.2 1560.3h4.1M688.2 1562.9h4.1M688.2 1529.5V1722.4M692.3 1548.1h4.1M692.3 1557.8h4.1M692.3 1568.1h4.1M692.3 1577.1h4.1M692.3 1529.5V1722.4M696.4 1566.1h4.1M696.4 1575.8h4.1M696.4 1589.9h4.1M696.4 1596.3h4.1M696.4 1548.1V1722.4M700.4 1564.2h4.1M700.4 1566.8h4.1M700.4 1587.3h4.1M700.4 1592.5h4.1M700.4 1564.2V1722.4M704.5 1551.4h4.1M704.5 1556.5h4.1M704.5 1568.1h4.1M704.5 1587.3h4.1M704.5 1551.4V1722.4M708.6 1560.3h4.1M708.6 1570.6h4.1M708.6 1580.9h4.1M708.6 1589.9h4.1M708.6 1551.4V1722.4M712.6 1578.3h4.1M712.6 1589.9h4.1M712.6 1598.9h4.1M712.6 1602.8h4.1M712.6 1560.3V1722.4M716.7 1557.8h4.1M716.7 1575.8h4.1M716.7 1592.5h4.1M716.7 1595h4.1M716.7 1557.8V1722.4M720.8 1552.6h4.1M720.8 1564.2h4.1M720.8 1566.8h4.1M720.8 1586h4.1M720.8 1552.6V1722.4M724.9 1531.4h4.1M724.9 1557.8h4.1M724.9 1559.1h4.1M724.9 1575.8h4.1M724.9 1531.4V1722.4M728.9 1600.2h4.1M728.9 1602.8h4.1M728.9 1605.3h4.1M728.9 1610.5h4.1M728.9 1531.4V1722.4M733 1588h4.1M733 1595h4.1M733 1596.3h4.1M733 1614.3h4.1M733 1588V1722.4M737.1 1588.6h4.1M737.1 1596.3h4.1M737.1 1597.6h4.1M737.1 1614.3h4.1M737.1 1588V1722.4M741.2 1600.2h4.1M741.2 1605.3h4.1M741.2 1606.6h4.1M741.2 1622h4.1M741.2 1588.6V1722.4M745.2 1592.5h4.1M745.2 1604h4.1M745.2 1607.9h4.1M745.2 1620.7h4.1M745.2 1592.5V1722.4M749.3 1575.8h4.1M749.3 1588.6h4.1M749.3 1589.9h4.1M749.3 1610.5h4.1M749.3 1575.8V1722.4M753.4 1575.8h4.1M753.4 1584.8h4.1M753.4 1586h4.1M753.4 1607.9h4.1M753.4 1575.8V1722.4M757.4 1587.3h4.1M757.4 1595h4.1M757.4 1598.9h4.1M757.4 1618.2h4.1M757.4 1575.8V1722.4M761.5 1299h4.1M761.5 1342h4.1M761.5 1521.8h4.1M761.5 1535.3h4.1M761.5 1299V1722.4M765.6 1176h4.1M765.6 1233h4.1M765.6 1494.8h4.1M765.6 1511.5h4.1M765.6 1176V1722.4M769.7 1419h4.1M769.7 1438.9h4.1M769.7 1562.3h4.1M769.7 1564.2h4.1M769.7 1176V1722.4M773.7 1589.9h4.1M773.7 1598.9h4.1M773.7 1609.2h4.1M773.7 1615.6h4.1M773.7 1419V1722.4M777.8 1589.9h4.1M777.8 1600.2h4.1M777.8 1607.9h4.1M777.8 1616.9h4.1M777.8 1589.9V1722.4M781.9 1577.1h4.1M781.9 1583.5h4.1M781.9 1589.9h4.1M781.9 1607.9h4.1M781.9 1577.1V1722.4M785.9 1582.8h4.1M785.9 1591.2h4.1M785.9 1592.5h4.1M785.9 1610.5h4.1M785.9 1577.1V1722.4M790 1592.5h4.1M790 1598.9h4.1M790 1602.8h4.1M790 1620.7h4.1M790 1582.8V1722.4M794.1 1577.1h4.1M794.1 1589.9h4.1M794.1 1596.3h4.1M794.1 1615.6h4.1M794.1 1577.1V1722.4M798.2 1584.1h4.1M798.2 1597.6h4.1M798.2 1616.9h4.1M798.2 1619.5h4.1M798.2 1577.1V1722.4M802.2 1570.6h4.1M802.2 1589.9h4.1M802.2 1596.3h4.1M802.2 1610.5h4.1M802.2 1570.6V1722.4M806.3 1584.8h4.1M806.3 1605.3h4.1M806.3 1606.6h4.1M806.3 1623.3h4.1M806.3 1570.6V1722.4M810.4 1588.6h4.1M810.4 1602.8h4.1M810.4 1605.3h4.1M810.4 1620.7h4.1M810.4 1584.8V1722.4M814.5 1579h4.1M814.5 1589.9h4.1M814.5 1598.9h4.1M814.5 1618.2h4.1M814.5 1579V1722.4M818.5 1555.8h4.1M818.5 1562.3h4.1M818.5 1568.1h4.1M818.5 1589.9h4.1M818.5 1555.8V1722.4M822.6 1542.4h4.1M822.6 1551.4h4.1M822.6 1552.6h4.1M822.6 1575.8h4.1M822.6 1542.4V1722.4M826.7 1495.5h4.1M826.7 1510.2h4.1M826.7 1530.8h4.1M826.7 1553.9h4.1M826.7 1495.5V1722.4M830.7 1505.1h4.1M830.7 1516.7h4.1M830.7 1533.4h4.1M830.7 1555.2h4.1M830.7 1495.5V1722.4M834.8 1483.9h4.1M834.8 1503.8h4.1M834.8 1524.4h4.1M834.8 1547.5h4.1M834.8 1483.9V1722.4M838.9 1491h4.1M838.9 1512.8h4.1M838.9 1528.2h4.1M838.9 1551.4h4.1M838.9 1483.9V1722.4M843 1510.9h4.1M843 1532.7h4.1M843 1559.7h4.1M843 1577.1h4.1M843 1491V1722.4M847 1543h4.1M847 1563.6h4.1M847 1588.6h4.1M847 1589.9h4.1M847 1510.9V1722.4M851.1 1519.2h4.1M851.1 1535.3h4.1M851.1 1544.9h4.1M851.1 1573.2h4.1M851.1 1519.2V1722.4M855.2 1579h4.1M855.2 1582.8h4.1M855.2 1602.8h4.1M855.2 1611.7h4.1M855.2 1519.2V1722.4M859.3 1579h4.1M859.3 1582.8h4.1M859.3 1601.5h4.1M859.3 1611.7h4.1M859.3 1579V1722.4M863.3 1542.4h4.1M863.3 1552.6h4.1M863.3 1575.8h4.1M863.3 1588.6h4.1M863.3 1542.4V1722.4M867.4 1575.8h4.1M867.4 1586h4.1M867.4 1592.5h4.1M867.4 1602.8h4.1M867.4 1542.4V1722.4M871.5 1569.3h4.1M871.5 1575.1h4.1M871.5 1589.9h4.1M871.5 1601.5h4.1M871.5 1569.3V1722.4M875.5 1587.3h4.1M875.5 1589.9h4.1M875.5 1596.3h4.1M875.5 1606.6h4.1M875.5 1569.3V1722.4M879.6 1567.4h4.1M879.6 1579.6h4.1M879.6 1591.2h4.1M879.6 1606.6h4.1M879.6 1567.4V1722.4M883.7 1561h4.1M883.7 1578.3h4.1M883.7 1587.3h4.1M883.7 1602.8h4.1M883.7 1561V1722.4M887.8 1569.3h4.1M887.8 1582.8h4.1M887.8 1588.6h4.1M887.8 1607.9h4.1M887.8 1561V1722.4M891.8 1588.6h4.1M891.8 1596.3h4.1M891.8 1600.2h4.1M891.8 1610.5h4.1M891.8 1569.3V1722.4M895.9 1584.8h4.1M895.9 1595h4.1M895.9 1600.2h4.1M895.9 1610.5h4.1M895.9 1584.8V1722.4M900 1584.8h4.1M900 1596.3h4.1M900 1600.2h4.1M900 1614.3h4.1M900 1584.8V1722.4M904.1 1580.9h4.1M904.1 1584.8h4.1M904.1 1592.5h4.1M904.1 1614.3h4.1M904.1 1580.9V1722.4M908.1 1562.3h4.1M908.1 1582.2h4.1M908.1 1584.8h4.1M908.1 1600.2h4.1M908.1 1562.3V1722.4M912.2 1578.3h4.1M912.2 1592.5h4.1M912.2 1595h4.1M912.2 1609.2h4.1M912.2 1562.3V1722.4M916.3 1586.7h4.1M916.3 1595h4.1M916.3 1607.9h4.1M916.3 1615.6h4.1M916.3 1578.3V1722.4M920.3 1580.9h4.1M920.3 1595h4.1M920.3 1602.8h4.1M920.3 1611.7h4.1M920.3 1580.9V1722.4M924.4 1570.6h4.1M924.4 1587.3h4.1M924.4 1589.9h4.1M924.4 1602.8h4.1M924.4 1570.6V1722.4M928.5 1555.8h4.1M928.5 1573.2h4.1M928.5 1575.8h4.1M928.5 1596.3h4.1M928.5 1555.8V1722.4M932.6 1574.5h4.1M932.6 1577.1h4.1M932.6 1593.8h4.1M932.6 1602.8h4.1M932.6 1555.8V1722.4M936.6 1587.3h4.1M936.6 1600.2h4.1M936.6 1602.8h4.1M936.6 1613h4.1M936.6 1574.5V1722.4M940.7 1584.8h4.1M940.7 1601.5h4.1M940.7 1604h4.1M940.7 1614.3h4.1M940.7 1584.8V1722.4M944.8 1583.5h4.1M944.8 1600.2h4.1M944.8 1602.8h4.1M944.8 1613h4.1M944.8 1583.5V1722.4M948.8 1574.5h4.1M948.8 1582.2h4.1M948.8 1597.6h4.1M948.8 1606.6h4.1M948.8 1574.5V1722.4M952.9 1569.3h4.1M952.9 1580.9h4.1M952.9 1595h4.1M952.9 1604h4.1M952.9 1569.3V1722.4M957 1577.1h4.1M957 1580.9h4.1M957 1595h4.1M957 1605.3h4.1M957 1569.3V1722.4M961.1 1569.3h4.1M961.1 1575.8h4.1M961.1 1589.9h4.1M961.1 1601.5h4.1M961.1 1569.3V1722.4M965.1 1552.6h4.1M965.1 1567.4h4.1M965.1 1583.5h4.1M965.1 1596.3h4.1M965.1 1552.6V1722.4M969.2 1569.3h4.1M969.2 1582.2h4.1M969.2 1586h4.1M969.2 1600.2h4.1M969.2 1552.6V1722.4M973.3 1570.6h4.1M973.3 1583.5h4.1M973.3 1588.6h4.1M973.3 1601.5h4.1M973.3 1569.3V1722.4M977.4 1573.2h4.1M977.4 1587.3h4.1M977.4 1589.9h4.1M977.4 1602.8h4.1M977.4 1570.6V1722.4M981.4 1579h4.1M981.4 1590h4.1M981.4 1597h4.1M981.4 1612h4.1M981.4 1573.2V1722.4M985.5 1591h4.1M985.5 1597h4.1M985.5 1609h4.1M985.5 1620h4.1M985.5 1579V1722.4M989.6 1591V1722.4" fill="none" stroke="#000" stroke-width="1.4" stroke-linecap="square" opacity="0.76"/>
</g>
<line x1="855.2" y1="1010" x2="855.2" y2="1722.4" stroke="#4a4a4a" stroke-width="3.6" opacity="0.5"/>
<text transform="translate(193.9 1771) scale(1.03 1)" font-size="33.8" text-anchor="middle" font-weight="normal" font-style="normal" fill="#1a1a1a" font-family='"Liberation Sans", Arial, Helvetica, sans-serif' >1</text>
<text transform="translate(273.9 1771) scale(1.03 1)" font-size="33.8" text-anchor="middle" font-weight="normal" font-style="normal" fill="#1a1a1a" font-family='"Liberation Sans", Arial, Helvetica, sans-serif' >21</text>
<text transform="translate(355.3 1771) scale(1.03 1)" font-size="33.8" text-anchor="middle" font-weight="normal" font-style="normal" fill="#1a1a1a" font-family='"Liberation Sans", Arial, Helvetica, sans-serif' >41</text>
<text transform="translate(436.8 1771) scale(1.03 1)" font-size="33.8" text-anchor="middle" font-weight="normal" font-style="normal" fill="#1a1a1a" font-family='"Liberation Sans", Arial, Helvetica, sans-serif' >61</text>
<text transform="translate(518.2 1771) scale(1.03 1)" font-size="33.8" text-anchor="middle" font-weight="normal" font-style="normal" fill="#1a1a1a" font-family='"Liberation Sans", Arial, Helvetica, sans-serif' >81</text>
<text transform="translate(599.6 1771) scale(1.03 1)" font-size="33.8" text-anchor="middle" font-weight="normal" font-style="normal" fill="#1a1a1a" font-family='"Liberation Sans", Arial, Helvetica, sans-serif' >101</text>
<text transform="translate(681.1 1771) scale(1.03 1)" font-size="33.8" text-anchor="middle" font-weight="normal" font-style="normal" fill="#1a1a1a" font-family='"Liberation Sans", Arial, Helvetica, sans-serif' >121</text>
<text transform="translate(762.5 1771) scale(1.03 1)" font-size="33.8" text-anchor="middle" font-weight="normal" font-style="normal" fill="#1a1a1a" font-family='"Liberation Sans", Arial, Helvetica, sans-serif' >141</text>
<text transform="translate(844 1771) scale(1.03 1)" font-size="33.8" text-anchor="middle" font-weight="normal" font-style="normal" fill="#1a1a1a" font-family='"Liberation Sans", Arial, Helvetica, sans-serif' >161</text>
<text transform="translate(925.4 1771) scale(1.03 1)" font-size="33.8" text-anchor="middle" font-weight="normal" font-style="normal" fill="#1a1a1a" font-family='"Liberation Sans", Arial, Helvetica, sans-serif' >181</text>
<text transform="translate(177.2 1736) scale(1.03 1)" font-size="33.8" text-anchor="end" font-weight="normal" font-style="normal" fill="#1a1a1a" font-family='"Liberation Sans", Arial, Helvetica, sans-serif' >0</text>
<text transform="translate(177.2 1646.8) scale(1.03 1)" font-size="33.8" text-anchor="end" font-weight="normal" font-style="normal" fill="#1a1a1a" font-family='"Liberation Sans", Arial, Helvetica, sans-serif' >5</text>
<text transform="translate(177.2 1557.6) scale(1.03 1)" font-size="33.8" text-anchor="end" font-weight="normal" font-style="normal" fill="#1a1a1a" font-family='"Liberation Sans", Arial, Helvetica, sans-serif' >10</text>
<text transform="translate(177.2 1468.4) scale(1.03 1)" font-size="33.8" text-anchor="end" font-weight="normal" font-style="normal" fill="#1a1a1a" font-family='"Liberation Sans", Arial, Helvetica, sans-serif' >15</text>
<text transform="translate(177.2 1379.2) scale(1.03 1)" font-size="33.8" text-anchor="end" font-weight="normal" font-style="normal" fill="#1a1a1a" font-family='"Liberation Sans", Arial, Helvetica, sans-serif' >20</text>
<text transform="translate(177.2 1290) scale(1.03 1)" font-size="33.8" text-anchor="end" font-weight="normal" font-style="normal" fill="#1a1a1a" font-family='"Liberation Sans", Arial, Helvetica, sans-serif' >25</text>
<text transform="translate(177.2 1200.8) scale(1.03 1)" font-size="33.8" text-anchor="end" font-weight="normal" font-style="normal" fill="#1a1a1a" font-family='"Liberation Sans", Arial, Helvetica, sans-serif' >30</text>
<text transform="translate(177.2 1111.6) scale(1.03 1)" font-size="33.8" text-anchor="end" font-weight="normal" font-style="normal" fill="#1a1a1a" font-family='"Liberation Sans", Arial, Helvetica, sans-serif' >35</text>
<text transform="translate(177.2 1022.4) scale(1.03 1)" font-size="33.8" text-anchor="end" font-weight="normal" font-style="normal" fill="#1a1a1a" font-family='"Liberation Sans", Arial, Helvetica, sans-serif' >40</text>
<text x="591.6" y="994" font-size="38.2" text-anchor="middle" font-weight="bold" font-style="normal" fill="#000" font-family='"Liberation Sans", Arial, Helvetica, sans-serif' >Arctic Canada North</text>
<text x="590.9" y="1823.6" font-size="38.2" text-anchor="middle" font-weight="normal" font-style="normal" fill="#1a1a1a" font-family='"Liberation Sans", Arial, Helvetica, sans-serif' >Solution number</text>
<g transform="translate(116.5 0)" font-size="38.2" fill="#1a1a1a" font-family='"Liberation Sans", Arial, Helvetica, sans-serif'>
<text transform="translate(0 1671.6) rotate(-90)" font-size="37.5">Uncertainty of mass change,</text>
<text transform="translate(0 1176) rotate(-90)" font-weight="bold">1</text>
<text transform="translate(0 1157) rotate(-90)" font-style="italic" font-family='"Liberation Serif","DejaVu Serif",serif' font-size="36">σ</text>
<text transform="translate(0 1129) rotate(-90)" textLength="73" lengthAdjust="spacingAndGlyphs">(Gt)</text>
</g>
<text x="230.7" y="1074.6" font-size="34.6" text-anchor="start" font-weight="bold" font-style="normal" fill="#000" font-family='"Liberation Sans", Arial, Helvetica, sans-serif' >Processing</text>
<text x="230.7" y="1128.4" font-size="34.6" text-anchor="start" font-weight="normal" font-style="normal" fill="#b40f0f" font-family='"Liberation Sans", Arial, Helvetica, sans-serif' >GFZ RL06</text>
<text x="230.7" y="1183.5" font-size="34.6" text-anchor="start" font-weight="normal" font-style="normal" fill="#0fb40f" font-family='"Liberation Sans", Arial, Helvetica, sans-serif' >CSR RL06</text>
<text x="230.7" y="1237.9" font-size="34.6" text-anchor="start" font-weight="normal" font-style="normal" fill="#0f0fb4" font-family='"Liberation Sans", Arial, Helvetica, sans-serif' >JPL RL06</text>
<text x="230.7" y="1292.3" font-size="34.6" text-anchor="start" font-weight="normal" font-style="normal" fill="#be0fbe" font-family='"Liberation Sans", Arial, Helvetica, sans-serif' >AV RL06</text>
<text x="45" y="972.4" font-size="38.5" font-weight="bold" fill="#222" stroke="#222" stroke-width="1.3" stroke-linejoin="round" font-family='"Liberation Sans", Arial, Helvetica, sans-serif' transform="translate(45 0) scale(1.17 1) translate(-45 0)">c</text>
<rect x="1244.3" y="1010" width="798.7" height="712.4" fill="none" stroke="#151515" stroke-width="1.55"/>
<path d="M1327.4 1722.4v-7.7M1327.4 1010v7.7M1409 1722.4v-7.7M1409 1010v7.7M1490.6 1722.4v-7.7M1490.6 1010v7.7M1572.2 1722.4v-7.7M1572.2 1010v7.7M1653.8 1722.4v-7.7M1653.8 1010v7.7M1735.4 1722.4v-7.7M1735.4 1010v7.7M1817 1722.4v-7.7M1817 1010v7.7M1898.6 1722.4v-7.7M1898.6 1010v7.7M1980.1 1722.4v-7.7M1980.1 1010v7.7M1244.3 1633.3h7.7M2043 1633.3h-7.7M1244.3 1544.2h7.7M2043 1544.2h-7.7M1244.3 1455.1h7.7M2043 1455.1h-7.7M1244.3 1366h7.7M2043 1366h-7.7M1244.3 1276.9h7.7M2043 1276.9h-7.7M1244.3 1187.8h7.7M2043 1187.8h-7.7M1244.3 1098.7h7.7M2043 1098.7h-7.7" stroke="#151515" stroke-width="1.55" fill="none"/>
<line x1="1907.7" y1="1010" x2="1907.7" y2="1722.4" stroke="#333" stroke-width="3.6"/>
<clipPath id="clipd"><rect x="1243.6" y="1010" width="800.1" height="713.2"/></clipPath>
<g clip-path="url(#clipd)">
<rect x="1242.7" y="1540.4" width="4.1" height="15.5" fill="#3ad63a"/>
<rect x="1242.7" y="1555.8" width="4.1" height="30.2" fill="#cc2020"/>
<rect x="1242.7" y="1586" width="4.1" height="5.8" fill="#1a1acc"/>
<rect x="1242.7" y="1591.8" width="4.1" height="130.6" fill="#d22ed2"/>
<rect x="1246.7" y="1540.4" width="4.1" height="15.5" fill="#3ad63a"/>
<rect x="1246.7" y="1555.8" width="4.1" height="30.2" fill="#cc2020"/>
<rect x="1246.7" y="1586" width="4.1" height="5.8" fill="#1a1acc"/>
<rect x="1246.7" y="1591.8" width="4.1" height="130.6" fill="#d22ed2"/>
<rect x="1250.8" y="1566.1" width="4.1" height="10.3" fill="#3ad63a"/>
<rect x="1250.8" y="1576.4" width="4.1" height="16.1" fill="#cc2020"/>
<rect x="1250.8" y="1592.5" width="4.1" height="12.9" fill="#1a1acc"/>
<rect x="1250.8" y="1605.3" width="4.1" height="117.1" fill="#d22ed2"/>
<rect x="1254.9" y="1550.7" width="4.1" height="11" fill="#3ad63a"/>
<rect x="1254.9" y="1561.6" width="4.1" height="14.2" fill="#cc2020"/>
<rect x="1254.9" y="1575.8" width="4.1" height="19.3" fill="#1a1acc"/>
<rect x="1254.9" y="1595" width="4.1" height="127.4" fill="#d22ed2"/>
<rect x="1259" y="1574.5" width="4.1" height="9" fill="#3ad63a"/>
<rect x="1259" y="1583.5" width="4.1" height="15.5" fill="#cc2020"/>
<rect x="1259" y="1598.9" width="4.1" height="10.3" fill="#1a1acc"/>
<rect x="1259" y="1609.2" width="4.1" height="113.3" fill="#d22ed2"/>
<rect x="1263.1" y="1579.6" width="4.1" height="19.3" fill="#3ad63a"/>
<rect x="1263.1" y="1598.9" width="4.1" height="1.3" fill="#cc2020"/>
<rect x="1263.1" y="1600.2" width="4.1" height="15.5" fill="#1a1acc"/>
<rect x="1263.1" y="1615.6" width="4.1" height="106.8" fill="#d22ed2"/>
<rect x="1267.1" y="1528.2" width="4.1" height="24.5" fill="#cc2020"/>
<rect x="1267.1" y="1552.6" width="4.1" height="10.3" fill="#3ad63a"/>
<rect x="1267.1" y="1562.9" width="4.1" height="27" fill="#1a1acc"/>
<rect x="1267.1" y="1589.9" width="4.1" height="132.5" fill="#d22ed2"/>
<rect x="1271.2" y="1489" width="4.1" height="35.4" fill="#cc2020"/>
<rect x="1271.2" y="1524.4" width="4.1" height="9" fill="#3ad63a"/>
<rect x="1271.2" y="1533.4" width="4.1" height="37.3" fill="#1a1acc"/>
<rect x="1271.2" y="1570.6" width="4.1" height="151.8" fill="#d22ed2"/>
<rect x="1275.3" y="1539.1" width="4.1" height="8.4" fill="#cc2020"/>
<rect x="1275.3" y="1547.5" width="4.1" height="23.2" fill="#3ad63a"/>
<rect x="1275.3" y="1570.6" width="4.1" height="20.6" fill="#1a1acc"/>
<rect x="1275.3" y="1591.2" width="4.1" height="131.3" fill="#d22ed2"/>
<rect x="1279.4" y="1571.3" width="4.1" height="30.2" fill="#3ad63a"/>
<rect x="1279.4" y="1601.5" width="4.1" height="1.3" fill="#cc2020"/>
<rect x="1279.4" y="1602.8" width="4.1" height="2.6" fill="#1a1acc"/>
<rect x="1279.4" y="1605.3" width="4.1" height="117.1" fill="#d22ed2"/>
<rect x="1283.5" y="1569.3" width="4.1" height="3.9" fill="#cc2020"/>
<rect x="1283.5" y="1573.2" width="4.1" height="30.9" fill="#3ad63a"/>
<rect x="1283.5" y="1604" width="4.1" height="3.9" fill="#1a1acc"/>
<rect x="1283.5" y="1607.9" width="4.1" height="114.6" fill="#d22ed2"/>
<rect x="1287.5" y="1580.9" width="4.1" height="27" fill="#3ad63a"/>
<rect x="1287.5" y="1607.9" width="4.1" height="1.3" fill="#cc2020"/>
<rect x="1287.5" y="1609.2" width="4.1" height="6.5" fill="#1a1acc"/>
<rect x="1287.5" y="1615.6" width="4.1" height="106.8" fill="#d22ed2"/>
<rect x="1291.6" y="1586" width="4.1" height="28.3" fill="#3ad63a"/>
<rect x="1291.6" y="1614.3" width="4.1" height="1.3" fill="#cc2020"/>
<rect x="1291.6" y="1615.6" width="4.1" height="1.3" fill="#1a1acc"/>
<rect x="1291.6" y="1616.9" width="4.1" height="105.6" fill="#d22ed2"/>
<rect x="1295.7" y="1573.8" width="4.1" height="9" fill="#cc2020"/>
<rect x="1295.7" y="1582.8" width="4.1" height="20" fill="#3ad63a"/>
<rect x="1295.7" y="1602.8" width="4.1" height="5.2" fill="#1a1acc"/>
<rect x="1295.7" y="1607.9" width="4.1" height="114.6" fill="#d22ed2"/>
<rect x="1299.8" y="1588" width="4.1" height="8.4" fill="#cc2020"/>
<rect x="1299.8" y="1596.3" width="4.1" height="12.9" fill="#3ad63a"/>
<rect x="1299.8" y="1609.2" width="4.1" height="6.5" fill="#1a1acc"/>
<rect x="1299.8" y="1615.6" width="4.1" height="106.8" fill="#d22ed2"/>
<rect x="1303.9" y="1580.9" width="4.1" height="5.8" fill="#3ad63a"/>
<rect x="1303.9" y="1586.7" width="4.1" height="11" fill="#cc2020"/>
<rect x="1303.9" y="1597.6" width="4.1" height="11.6" fill="#1a1acc"/>
<rect x="1303.9" y="1609.2" width="4.1" height="113.3" fill="#d22ed2"/>
<rect x="1307.9" y="1565.5" width="4.1" height="11.6" fill="#3ad63a"/>
<rect x="1307.9" y="1577.1" width="4.1" height="12.9" fill="#cc2020"/>
<rect x="1307.9" y="1589.9" width="4.1" height="5.2" fill="#1a1acc"/>
<rect x="1307.9" y="1595" width="4.1" height="127.4" fill="#d22ed2"/>
<rect x="1312" y="1561" width="4.1" height="9.7" fill="#3ad63a"/>
<rect x="1312" y="1570.6" width="4.1" height="20.6" fill="#cc2020"/>
<rect x="1312" y="1591.2" width="4.1" height="2.6" fill="#1a1acc"/>
<rect x="1312" y="1593.8" width="4.1" height="128.7" fill="#d22ed2"/>
<rect x="1316.1" y="1543.6" width="4.1" height="30.9" fill="#cc2020"/>
<rect x="1316.1" y="1574.5" width="4.1" height="2.6" fill="#3ad63a"/>
<rect x="1316.1" y="1577.1" width="4.1" height="2.6" fill="#1a1acc"/>
<rect x="1316.1" y="1579.6" width="4.1" height="142.8" fill="#d22ed2"/>
<rect x="1320.2" y="1574.5" width="4.1" height="5.2" fill="#3ad63a"/>
<rect x="1320.2" y="1579.6" width="4.1" height="19.3" fill="#cc2020"/>
<rect x="1320.2" y="1598.9" width="4.1" height="2.6" fill="#1a1acc"/>
<rect x="1320.2" y="1601.5" width="4.1" height="121" fill="#d22ed2"/>
<rect x="1324.3" y="1575.8" width="4.1" height="6.5" fill="#3ad63a"/>
<rect x="1324.3" y="1582.2" width="4.1" height="18" fill="#cc2020"/>
<rect x="1324.3" y="1600.2" width="4.1" height="2.6" fill="#1a1acc"/>
<rect x="1324.3" y="1602.8" width="4.1" height="119.7" fill="#d22ed2"/>
<rect x="1328.3" y="1557.1" width="4.1" height="26.4" fill="#3ad63a"/>
<rect x="1328.3" y="1583.5" width="4.1" height="6.5" fill="#cc2020"/>
<rect x="1328.3" y="1589.9" width="4.1" height="2.6" fill="#1a1acc"/>
<rect x="1328.3" y="1592.5" width="4.1" height="130" fill="#d22ed2"/>
<rect x="1332.4" y="1548.8" width="4.1" height="11" fill="#3ad63a"/>
<rect x="1332.4" y="1559.7" width="4.1" height="26.4" fill="#cc2020"/>
<rect x="1332.4" y="1586" width="4.1" height="1.3" fill="#d22ed2"/>
<rect x="1332.4" y="1587.3" width="4.1" height="135.1" fill="#1a1acc"/>
<rect x="1336.5" y="1550.7" width="4.1" height="12.3" fill="#3ad63a"/>
<rect x="1336.5" y="1562.9" width="4.1" height="27" fill="#cc2020"/>
<rect x="1336.5" y="1589.9" width="4.1" height="2.6" fill="#1a1acc"/>
<rect x="1336.5" y="1592.5" width="4.1" height="130" fill="#d22ed2"/>
<rect x="1340.6" y="1559.7" width="4.1" height="5.8" fill="#3ad63a"/>
<rect x="1340.6" y="1565.5" width="4.1" height="39.9" fill="#cc2020"/>
<rect x="1340.6" y="1605.3" width="4.1" height="1.3" fill="#d22ed2"/>
<rect x="1340.6" y="1606.6" width="4.1" height="115.8" fill="#1a1acc"/>
<rect x="1344.7" y="1530.1" width="4.1" height="8.4" fill="#3ad63a"/>
<rect x="1344.7" y="1538.5" width="4.1" height="63" fill="#cc2020"/>
<rect x="1344.7" y="1601.5" width="4.1" height="1.3" fill="#d22ed2"/>
<rect x="1344.7" y="1602.8" width="4.1" height="119.7" fill="#1a1acc"/>
<rect x="1348.7" y="1480" width="4.1" height="11.6" fill="#3ad63a"/>
<rect x="1348.7" y="1491.6" width="4.1" height="96.4" fill="#cc2020"/>
<rect x="1348.7" y="1588" width="4.1" height="12.3" fill="#d22ed2"/>
<rect x="1348.7" y="1600.2" width="4.1" height="122.3" fill="#1a1acc"/>
<rect x="1352.8" y="1528.9" width="4.1" height="9.7" fill="#3ad63a"/>
<rect x="1352.8" y="1538.5" width="4.1" height="61.7" fill="#cc2020"/>
<rect x="1352.8" y="1600.2" width="4.1" height="1.3" fill="#d22ed2"/>
<rect x="1352.8" y="1601.5" width="4.1" height="121" fill="#1a1acc"/>
<rect x="1356.9" y="1549.4" width="4.1" height="5.8" fill="#3ad63a"/>
<rect x="1356.9" y="1555.2" width="4.1" height="34.7" fill="#cc2020"/>
<rect x="1356.9" y="1589.9" width="4.1" height="2.6" fill="#1a1acc"/>
<rect x="1356.9" y="1592.5" width="4.1" height="130" fill="#d22ed2"/>
<rect x="1361" y="1555.8" width="4.1" height="13.5" fill="#3ad63a"/>
<rect x="1361" y="1569.3" width="4.1" height="23.2" fill="#cc2020"/>
<rect x="1361" y="1592.5" width="4.1" height="2.6" fill="#1a1acc"/>
<rect x="1361" y="1595" width="4.1" height="127.4" fill="#d22ed2"/>
<rect x="1365.1" y="1570.6" width="4.1" height="9" fill="#3ad63a"/>
<rect x="1365.1" y="1579.6" width="4.1" height="19.3" fill="#cc2020"/>
<rect x="1365.1" y="1598.9" width="4.1" height="1.3" fill="#d22ed2"/>
<rect x="1365.1" y="1600.2" width="4.1" height="122.3" fill="#1a1acc"/>
<rect x="1369.1" y="1575.8" width="4.1" height="6.5" fill="#3ad63a"/>
<rect x="1369.1" y="1582.2" width="4.1" height="19.3" fill="#cc2020"/>
<rect x="1369.1" y="1601.5" width="4.1" height="1.3" fill="#1a1acc"/>
<rect x="1369.1" y="1602.8" width="4.1" height="119.7" fill="#d22ed2"/>
<rect x="1373.2" y="1569.3" width="4.1" height="6.5" fill="#3ad63a"/>
<rect x="1373.2" y="1575.8" width="4.1" height="24.5" fill="#cc2020"/>
<rect x="1373.2" y="1600.2" width="4.1" height="1.3" fill="#d22ed2"/>
<rect x="1373.2" y="1601.5" width="4.1" height="121" fill="#1a1acc"/>
<rect x="1377.3" y="1577.1" width="4.1" height="7.8" fill="#3ad63a"/>
<rect x="1377.3" y="1584.8" width="4.1" height="20.6" fill="#cc2020"/>
<rect x="1377.3" y="1605.3" width="4.1" height="1.3" fill="#d22ed2"/>
<rect x="1377.3" y="1606.6" width="4.1" height="115.8" fill="#1a1acc"/>
<rect x="1381.4" y="1589.3" width="4.1" height="5.8" fill="#3ad63a"/>
<rect x="1381.4" y="1595" width="4.1" height="18" fill="#cc2020"/>
<rect x="1381.4" y="1613" width="4.1" height="5.2" fill="#1a1acc"/>
<rect x="1381.4" y="1618.2" width="4.1" height="104.3" fill="#d22ed2"/>
<rect x="1385.4" y="1595" width="4.1" height="1.3" fill="#cc2020"/>
<rect x="1385.4" y="1596.3" width="4.1" height="18" fill="#3ad63a"/>
<rect x="1385.4" y="1614.3" width="4.1" height="5.2" fill="#1a1acc"/>
<rect x="1385.4" y="1619.5" width="4.1" height="103" fill="#d22ed2"/>
<rect x="1389.5" y="1592.5" width="4.1" height="6.5" fill="#3ad63a"/>
<rect x="1389.5" y="1598.9" width="4.1" height="15.5" fill="#cc2020"/>
<rect x="1389.5" y="1614.3" width="4.1" height="3.9" fill="#1a1acc"/>
<rect x="1389.5" y="1618.2" width="4.1" height="104.3" fill="#d22ed2"/>
<rect x="1393.6" y="1587.3" width="4.1" height="9" fill="#3ad63a"/>
<rect x="1393.6" y="1596.3" width="4.1" height="15.5" fill="#cc2020"/>
<rect x="1393.6" y="1611.7" width="4.1" height="3.9" fill="#1a1acc"/>
<rect x="1393.6" y="1615.6" width="4.1" height="106.8" fill="#d22ed2"/>
<rect x="1397.7" y="1586" width="4.1" height="9" fill="#3ad63a"/>
<rect x="1397.7" y="1595" width="4.1" height="16.8" fill="#cc2020"/>
<rect x="1397.7" y="1611.7" width="4.1" height="5.2" fill="#1a1acc"/>
<rect x="1397.7" y="1616.9" width="4.1" height="105.6" fill="#d22ed2"/>
<rect x="1401.8" y="1589.9" width="4.1" height="5.2" fill="#3ad63a"/>
<rect x="1401.8" y="1595" width="4.1" height="14.2" fill="#cc2020"/>
<rect x="1401.8" y="1609.2" width="4.1" height="6.5" fill="#1a1acc"/>
<rect x="1401.8" y="1615.6" width="4.1" height="106.8" fill="#d22ed2"/>
<rect x="1405.8" y="1575.8" width="4.1" height="14.2" fill="#3ad63a"/>
<rect x="1405.8" y="1589.9" width="4.1" height="16.8" fill="#cc2020"/>
<rect x="1405.8" y="1606.6" width="4.1" height="3.9" fill="#1a1acc"/>
<rect x="1405.8" y="1610.5" width="4.1" height="112" fill="#d22ed2"/>
<rect x="1409.9" y="1563.6" width="4.1" height="17.4" fill="#3ad63a"/>
<rect x="1409.9" y="1580.9" width="4.1" height="15.5" fill="#cc2020"/>
<rect x="1409.9" y="1596.3" width="4.1" height="3.9" fill="#1a1acc"/>
<rect x="1409.9" y="1600.2" width="4.1" height="122.3" fill="#d22ed2"/>
<rect x="1414" y="1582.8" width="4.1" height="12.3" fill="#3ad63a"/>
<rect x="1414" y="1595" width="4.1" height="11.6" fill="#cc2020"/>
<rect x="1414" y="1606.6" width="4.1" height="3.9" fill="#1a1acc"/>
<rect x="1414" y="1610.5" width="4.1" height="112" fill="#d22ed2"/>
<rect x="1418.1" y="1592.5" width="4.1" height="5.2" fill="#3ad63a"/>
<rect x="1418.1" y="1597.6" width="4.1" height="15.5" fill="#cc2020"/>
<rect x="1418.1" y="1613" width="4.1" height="3.9" fill="#1a1acc"/>
<rect x="1418.1" y="1616.9" width="4.1" height="105.6" fill="#d22ed2"/>
<rect x="1422.2" y="1595" width="4.1" height="5.2" fill="#3ad63a"/>
<rect x="1422.2" y="1600.2" width="4.1" height="15.5" fill="#cc2020"/>
<rect x="1422.2" y="1615.6" width="4.1" height="5.2" fill="#1a1acc"/>
<rect x="1422.2" y="1620.7" width="4.1" height="101.7" fill="#d22ed2"/>
<rect x="1426.2" y="1591.2" width="4.1" height="7.8" fill="#3ad63a"/>
<rect x="1426.2" y="1598.9" width="4.1" height="18" fill="#cc2020"/>
<rect x="1426.2" y="1616.9" width="4.1" height="3.9" fill="#1a1acc"/>
<rect x="1426.2" y="1620.7" width="4.1" height="101.7" fill="#d22ed2"/>
<rect x="1430.3" y="1586" width="4.1" height="14.2" fill="#3ad63a"/>
<rect x="1430.3" y="1600.2" width="4.1" height="14.2" fill="#cc2020"/>
<rect x="1430.3" y="1614.3" width="4.1" height="3.9" fill="#1a1acc"/>
<rect x="1430.3" y="1618.2" width="4.1" height="104.3" fill="#d22ed2"/>
<rect x="1434.4" y="1580.3" width="4.1" height="9.7" fill="#3ad63a"/>
<rect x="1434.4" y="1589.9" width="4.1" height="15.5" fill="#cc2020"/>
<rect x="1434.4" y="1605.3" width="4.1" height="5.2" fill="#1a1acc"/>
<rect x="1434.4" y="1610.5" width="4.1" height="112" fill="#d22ed2"/>
<rect x="1438.5" y="1582.8" width="4.1" height="9.7" fill="#3ad63a"/>
<rect x="1438.5" y="1592.5" width="4.1" height="14.2" fill="#cc2020"/>
<rect x="1438.5" y="1606.6" width="4.1" height="2.6" fill="#1a1acc"/>
<rect x="1438.5" y="1609.2" width="4.1" height="113.3" fill="#d22ed2"/>
<rect x="1442.6" y="1591.2" width="4.1" height="11.6" fill="#3ad63a"/>
<rect x="1442.6" y="1602.8" width="4.1" height="6.5" fill="#cc2020"/>
<rect x="1442.6" y="1609.2" width="4.1" height="3.9" fill="#1a1acc"/>
<rect x="1442.6" y="1613" width="4.1" height="109.4" fill="#d22ed2"/>
<rect x="1446.6" y="1572.6" width="4.1" height="18.7" fill="#3ad63a"/>
<rect x="1446.6" y="1591.2" width="4.1" height="10.3" fill="#cc2020"/>
<rect x="1446.6" y="1601.5" width="4.1" height="3.9" fill="#1a1acc"/>
<rect x="1446.6" y="1605.3" width="4.1" height="117.1" fill="#d22ed2"/>
<rect x="1450.7" y="1570.6" width="4.1" height="21.9" fill="#3ad63a"/>
<rect x="1450.7" y="1592.5" width="4.1" height="10.3" fill="#cc2020"/>
<rect x="1450.7" y="1602.8" width="4.1" height="3.9" fill="#1a1acc"/>
<rect x="1450.7" y="1606.6" width="4.1" height="115.8" fill="#d22ed2"/>
<rect x="1454.8" y="1573.8" width="4.1" height="22.5" fill="#3ad63a"/>
<rect x="1454.8" y="1596.3" width="4.1" height="10.3" fill="#cc2020"/>
<rect x="1454.8" y="1606.6" width="4.1" height="2.6" fill="#1a1acc"/>
<rect x="1454.8" y="1609.2" width="4.1" height="113.3" fill="#d22ed2"/>
<rect x="1458.9" y="1575.1" width="4.1" height="20" fill="#3ad63a"/>
<rect x="1458.9" y="1595" width="4.1" height="11.6" fill="#cc2020"/>
<rect x="1458.9" y="1606.6" width="4.1" height="3.9" fill="#1a1acc"/>
<rect x="1458.9" y="1610.5" width="4.1" height="112" fill="#d22ed2"/>
<rect x="1463" y="1582.8" width="4.1" height="7.1" fill="#3ad63a"/>
<rect x="1463" y="1589.9" width="4.1" height="20.6" fill="#cc2020"/>
<rect x="1463" y="1610.5" width="4.1" height="3.9" fill="#1a1acc"/>
<rect x="1463" y="1614.3" width="4.1" height="108.1" fill="#d22ed2"/>
<rect x="1467" y="1591.2" width="4.1" height="6.5" fill="#3ad63a"/>
<rect x="1467" y="1597.6" width="4.1" height="18" fill="#cc2020"/>
<rect x="1467" y="1615.6" width="4.1" height="2.6" fill="#1a1acc"/>
<rect x="1467" y="1618.2" width="4.1" height="104.3" fill="#d22ed2"/>
<rect x="1471.1" y="1592.5" width="4.1" height="7.8" fill="#3ad63a"/>
<rect x="1471.1" y="1600.2" width="4.1" height="16.8" fill="#cc2020"/>
<rect x="1471.1" y="1616.9" width="4.1" height="3.9" fill="#1a1acc"/>
<rect x="1471.1" y="1620.7" width="4.1" height="101.7" fill="#d22ed2"/>
<rect x="1475.2" y="1597.6" width="4.1" height="10.3" fill="#3ad63a"/>
<rect x="1475.2" y="1607.9" width="4.1" height="11.6" fill="#cc2020"/>
<rect x="1475.2" y="1619.5" width="4.1" height="5.2" fill="#1a1acc"/>
<rect x="1475.2" y="1624.6" width="4.1" height="97.9" fill="#d22ed2"/>
<rect x="1479.3" y="1595" width="4.1" height="10.3" fill="#3ad63a"/>
<rect x="1479.3" y="1605.3" width="4.1" height="10.3" fill="#cc2020"/>
<rect x="1479.3" y="1615.6" width="4.1" height="5.2" fill="#1a1acc"/>
<rect x="1479.3" y="1620.7" width="4.1" height="101.7" fill="#d22ed2"/>
<rect x="1483.4" y="1592.5" width="4.1" height="3.9" fill="#3ad63a"/>
<rect x="1483.4" y="1596.3" width="4.1" height="19.3" fill="#cc2020"/>
<rect x="1483.4" y="1615.6" width="4.1" height="2.6" fill="#1a1acc"/>
<rect x="1483.4" y="1618.2" width="4.1" height="104.3" fill="#d22ed2"/>
<rect x="1487.4" y="1598.3" width="4.1" height="7.1" fill="#3ad63a"/>
<rect x="1487.4" y="1605.3" width="4.1" height="16.8" fill="#cc2020"/>
<rect x="1487.4" y="1622" width="4.1" height="3.9" fill="#1a1acc"/>
<rect x="1487.4" y="1625.9" width="4.1" height="96.6" fill="#d22ed2"/>
<rect x="1491.5" y="1598.3" width="4.1" height="7.1" fill="#3ad63a"/>
<rect x="1491.5" y="1605.3" width="4.1" height="15.5" fill="#cc2020"/>
<rect x="1491.5" y="1620.7" width="4.1" height="3.9" fill="#1a1acc"/>
<rect x="1491.5" y="1624.6" width="4.1" height="97.9" fill="#d22ed2"/>
<rect x="1495.6" y="1595" width="4.1" height="7.8" fill="#3ad63a"/>
<rect x="1495.6" y="1602.8" width="4.1" height="14.2" fill="#cc2020"/>
<rect x="1495.6" y="1616.9" width="4.1" height="3.9" fill="#1a1acc"/>
<rect x="1495.6" y="1620.7" width="4.1" height="101.7" fill="#d22ed2"/>
<rect x="1499.7" y="1589.3" width="4.1" height="8.4" fill="#3ad63a"/>
<rect x="1499.7" y="1597.6" width="4.1" height="16.8" fill="#cc2020"/>
<rect x="1499.7" y="1614.3" width="4.1" height="2.6" fill="#1a1acc"/>
<rect x="1499.7" y="1616.9" width="4.1" height="105.6" fill="#d22ed2"/>
<rect x="1503.8" y="1582.8" width="4.1" height="13.5" fill="#3ad63a"/>
<rect x="1503.8" y="1596.3" width="4.1" height="14.2" fill="#cc2020"/>
<rect x="1503.8" y="1610.5" width="4.1" height="5.2" fill="#1a1acc"/>
<rect x="1503.8" y="1615.6" width="4.1" height="106.8" fill="#d22ed2"/>
<rect x="1507.8" y="1580.9" width="4.1" height="15.5" fill="#3ad63a"/>
<rect x="1507.8" y="1596.3" width="4.1" height="15.5" fill="#cc2020"/>
<rect x="1507.8" y="1611.7" width="4.1" height="2.6" fill="#1a1acc"/>
<rect x="1507.8" y="1614.3" width="4.1" height="108.1" fill="#d22ed2"/>
<rect x="1511.9" y="1584.8" width="4.1" height="15.5" fill="#3ad63a"/>
<rect x="1511.9" y="1600.2" width="4.1" height="10.3" fill="#cc2020"/>
<rect x="1511.9" y="1610.5" width="4.1" height="2.6" fill="#1a1acc"/>
<rect x="1511.9" y="1613" width="4.1" height="109.4" fill="#d22ed2"/>
<rect x="1516" y="1586" width="4.1" height="16.8" fill="#3ad63a"/>
<rect x="1516" y="1602.8" width="4.1" height="5.2" fill="#cc2020"/>
<rect x="1516" y="1607.9" width="4.1" height="7.8" fill="#1a1acc"/>
<rect x="1516" y="1615.6" width="4.1" height="106.8" fill="#d22ed2"/>
<rect x="1520.1" y="1580.9" width="4.1" height="20.6" fill="#3ad63a"/>
<rect x="1520.1" y="1601.5" width="4.1" height="5.2" fill="#cc2020"/>
<rect x="1520.1" y="1606.6" width="4.1" height="9" fill="#1a1acc"/>
<rect x="1520.1" y="1615.6" width="4.1" height="106.8" fill="#d22ed2"/>
<rect x="1524.2" y="1570.6" width="4.1" height="25.8" fill="#3ad63a"/>
<rect x="1524.2" y="1596.3" width="4.1" height="11.6" fill="#cc2020"/>
<rect x="1524.2" y="1607.9" width="4.1" height="6.5" fill="#1a1acc"/>
<rect x="1524.2" y="1614.3" width="4.1" height="108.1" fill="#d22ed2"/>
<rect x="1528.2" y="1572.6" width="4.1" height="30.2" fill="#3ad63a"/>
<rect x="1528.2" y="1602.8" width="4.1" height="7.8" fill="#cc2020"/>
<rect x="1528.2" y="1610.5" width="4.1" height="6.5" fill="#1a1acc"/>
<rect x="1528.2" y="1616.9" width="4.1" height="105.6" fill="#d22ed2"/>
<rect x="1532.3" y="1575.8" width="4.1" height="21.9" fill="#3ad63a"/>
<rect x="1532.3" y="1597.6" width="4.1" height="10.3" fill="#cc2020"/>
<rect x="1532.3" y="1607.9" width="4.1" height="6.5" fill="#1a1acc"/>
<rect x="1532.3" y="1614.3" width="4.1" height="108.1" fill="#d22ed2"/>
<rect x="1536.4" y="1577.7" width="4.1" height="14.8" fill="#3ad63a"/>
<rect x="1536.4" y="1592.5" width="4.1" height="12.9" fill="#cc2020"/>
<rect x="1536.4" y="1605.3" width="4.1" height="5.2" fill="#1a1acc"/>
<rect x="1536.4" y="1610.5" width="4.1" height="112" fill="#d22ed2"/>
<rect x="1540.5" y="1583.5" width="4.1" height="10.3" fill="#3ad63a"/>
<rect x="1540.5" y="1593.8" width="4.1" height="12.9" fill="#cc2020"/>
<rect x="1540.5" y="1606.6" width="4.1" height="5.2" fill="#1a1acc"/>
<rect x="1540.5" y="1611.7" width="4.1" height="110.7" fill="#d22ed2"/>
<rect x="1544.6" y="1580.9" width="4.1" height="14.2" fill="#3ad63a"/>
<rect x="1544.6" y="1595" width="4.1" height="12.9" fill="#cc2020"/>
<rect x="1544.6" y="1607.9" width="4.1" height="3.9" fill="#1a1acc"/>
<rect x="1544.6" y="1611.7" width="4.1" height="110.7" fill="#d22ed2"/>
<rect x="1548.6" y="1572.6" width="4.1" height="25.1" fill="#3ad63a"/>
<rect x="1548.6" y="1597.6" width="4.1" height="14.2" fill="#cc2020"/>
<rect x="1548.6" y="1611.7" width="4.1" height="1.3" fill="#d22ed2"/>
<rect x="1548.6" y="1613" width="4.1" height="109.4" fill="#1a1acc"/>
<rect x="1552.7" y="1557.1" width="4.1" height="39.2" fill="#3ad63a"/>
<rect x="1552.7" y="1596.3" width="4.1" height="7.8" fill="#cc2020"/>
<rect x="1552.7" y="1604" width="4.1" height="1.3" fill="#d22ed2"/>
<rect x="1552.7" y="1605.3" width="4.1" height="117.1" fill="#1a1acc"/>
<rect x="1556.8" y="1552.6" width="4.1" height="43.7" fill="#3ad63a"/>
<rect x="1556.8" y="1596.3" width="4.1" height="6.5" fill="#cc2020"/>
<rect x="1556.8" y="1602.8" width="4.1" height="1.3" fill="#d22ed2"/>
<rect x="1556.8" y="1604" width="4.1" height="118.4" fill="#1a1acc"/>
<rect x="1560.9" y="1569.3" width="4.1" height="33.5" fill="#3ad63a"/>
<rect x="1560.9" y="1602.8" width="4.1" height="6.5" fill="#cc2020"/>
<rect x="1560.9" y="1609.2" width="4.1" height="1.3" fill="#d22ed2"/>
<rect x="1560.9" y="1610.5" width="4.1" height="112" fill="#1a1acc"/>
<rect x="1565" y="1588" width="4.1" height="14.8" fill="#3ad63a"/>
<rect x="1565" y="1602.8" width="4.1" height="15.5" fill="#cc2020"/>
<rect x="1565" y="1618.2" width="4.1" height="2.6" fill="#1a1acc"/>
<rect x="1565" y="1620.7" width="4.1" height="101.7" fill="#d22ed2"/>
<rect x="1569" y="1584.1" width="4.1" height="11" fill="#3ad63a"/>
<rect x="1569" y="1595" width="4.1" height="19.3" fill="#cc2020"/>
<rect x="1569" y="1614.3" width="4.1" height="1.3" fill="#1a1acc"/>
<rect x="1569" y="1615.6" width="4.1" height="106.8" fill="#d22ed2"/>
<rect x="1573.1" y="1588.6" width="4.1" height="6.5" fill="#3ad63a"/>
<rect x="1573.1" y="1595" width="4.1" height="19.3" fill="#cc2020"/>
<rect x="1573.1" y="1614.3" width="4.1" height="1.3" fill="#1a1acc"/>
<rect x="1573.1" y="1615.6" width="4.1" height="106.8" fill="#d22ed2"/>
<rect x="1577.2" y="1580.9" width="4.1" height="11.6" fill="#3ad63a"/>
<rect x="1577.2" y="1592.5" width="4.1" height="18" fill="#cc2020"/>
<rect x="1577.2" y="1610.5" width="4.1" height="1.3" fill="#1a1acc"/>
<rect x="1577.2" y="1611.7" width="4.1" height="110.7" fill="#d22ed2"/>
<rect x="1581.3" y="1574.5" width="4.1" height="12.3" fill="#3ad63a"/>
<rect x="1581.3" y="1586.7" width="4.1" height="16.1" fill="#cc2020"/>
<rect x="1581.3" y="1602.8" width="4.1" height="2.6" fill="#1a1acc"/>
<rect x="1581.3" y="1605.3" width="4.1" height="117.1" fill="#d22ed2"/>
<rect x="1585.4" y="1575.8" width="4.1" height="11.6" fill="#3ad63a"/>
<rect x="1585.4" y="1587.3" width="4.1" height="15.5" fill="#cc2020"/>
<rect x="1585.4" y="1602.8" width="4.1" height="3.9" fill="#1a1acc"/>
<rect x="1585.4" y="1606.6" width="4.1" height="115.8" fill="#d22ed2"/>
<rect x="1589.4" y="1574.5" width="4.1" height="13.5" fill="#3ad63a"/>
<rect x="1589.4" y="1588" width="4.1" height="16.1" fill="#cc2020"/>
<rect x="1589.4" y="1604" width="4.1" height="2.6" fill="#1a1acc"/>
<rect x="1589.4" y="1606.6" width="4.1" height="115.8" fill="#d22ed2"/>
<rect x="1593.5" y="1575.8" width="4.1" height="11.6" fill="#3ad63a"/>
<rect x="1593.5" y="1587.3" width="4.1" height="16.8" fill="#cc2020"/>
<rect x="1593.5" y="1604" width="4.1" height="2.6" fill="#1a1acc"/>
<rect x="1593.5" y="1606.6" width="4.1" height="115.8" fill="#d22ed2"/>
<rect x="1597.6" y="1580.9" width="4.1" height="11.6" fill="#3ad63a"/>
<rect x="1597.6" y="1592.5" width="4.1" height="9" fill="#cc2020"/>
<rect x="1597.6" y="1601.5" width="4.1" height="3.9" fill="#1a1acc"/>
<rect x="1597.6" y="1605.3" width="4.1" height="117.1" fill="#d22ed2"/>
<rect x="1601.7" y="1575.8" width="4.1" height="3.9" fill="#cc2020"/>
<rect x="1601.7" y="1579.6" width="4.1" height="12.9" fill="#3ad63a"/>
<rect x="1601.7" y="1592.5" width="4.1" height="11.6" fill="#1a1acc"/>
<rect x="1601.7" y="1604" width="4.1" height="118.4" fill="#d22ed2"/>
<rect x="1605.8" y="1575.8" width="4.1" height="5.2" fill="#cc2020"/>
<rect x="1605.8" y="1580.9" width="4.1" height="9" fill="#3ad63a"/>
<rect x="1605.8" y="1589.9" width="4.1" height="14.2" fill="#1a1acc"/>
<rect x="1605.8" y="1604" width="4.1" height="118.4" fill="#d22ed2"/>
<rect x="1609.8" y="1567.4" width="4.1" height="8.4" fill="#cc2020"/>
<rect x="1609.8" y="1575.8" width="4.1" height="6.5" fill="#3ad63a"/>
<rect x="1609.8" y="1582.2" width="4.1" height="14.2" fill="#1a1acc"/>
<rect x="1609.8" y="1596.3" width="4.1" height="126.1" fill="#d22ed2"/>
<rect x="1613.9" y="1564.2" width="4.1" height="5.2" fill="#3ad63a"/>
<rect x="1613.9" y="1569.3" width="4.1" height="19.3" fill="#cc2020"/>
<rect x="1613.9" y="1588.6" width="4.1" height="3.9" fill="#1a1acc"/>
<rect x="1613.9" y="1592.5" width="4.1" height="130" fill="#d22ed2"/>
<rect x="1618" y="1569.3" width="4.1" height="5.2" fill="#3ad63a"/>
<rect x="1618" y="1574.5" width="4.1" height="18" fill="#cc2020"/>
<rect x="1618" y="1592.5" width="4.1" height="3.9" fill="#1a1acc"/>
<rect x="1618" y="1596.3" width="4.1" height="126.1" fill="#d22ed2"/>
<rect x="1622.1" y="1583.5" width="4.1" height="6.5" fill="#3ad63a"/>
<rect x="1622.1" y="1589.9" width="4.1" height="14.2" fill="#cc2020"/>
<rect x="1622.1" y="1604" width="4.1" height="3.9" fill="#1a1acc"/>
<rect x="1622.1" y="1607.9" width="4.1" height="114.6" fill="#d22ed2"/>
<rect x="1626.2" y="1575.8" width="4.1" height="10.3" fill="#3ad63a"/>
<rect x="1626.2" y="1586" width="4.1" height="12.9" fill="#cc2020"/>
<rect x="1626.2" y="1598.9" width="4.1" height="3.9" fill="#1a1acc"/>
<rect x="1626.2" y="1602.8" width="4.1" height="119.7" fill="#d22ed2"/>
<rect x="1630.2" y="1572.6" width="4.1" height="11" fill="#3ad63a"/>
<rect x="1630.2" y="1583.5" width="4.1" height="6.5" fill="#cc2020"/>
<rect x="1630.2" y="1589.9" width="4.1" height="9" fill="#1a1acc"/>
<rect x="1630.2" y="1598.9" width="4.1" height="123.6" fill="#d22ed2"/>
<rect x="1634.3" y="1564.2" width="4.1" height="24.5" fill="#3ad63a"/>
<rect x="1634.3" y="1588.6" width="4.1" height="10.3" fill="#cc2020"/>
<rect x="1634.3" y="1598.9" width="4.1" height="1.3" fill="#d22ed2"/>
<rect x="1634.3" y="1600.2" width="4.1" height="122.3" fill="#1a1acc"/>
<rect x="1638.4" y="1557.8" width="4.1" height="32.2" fill="#3ad63a"/>
<rect x="1638.4" y="1589.9" width="4.1" height="10.3" fill="#cc2020"/>
<rect x="1638.4" y="1600.2" width="4.1" height="1.3" fill="#d22ed2"/>
<rect x="1638.4" y="1601.5" width="4.1" height="121" fill="#1a1acc"/>
<rect x="1642.5" y="1559.1" width="4.1" height="28.3" fill="#3ad63a"/>
<rect x="1642.5" y="1587.3" width="4.1" height="12.9" fill="#cc2020"/>
<rect x="1642.5" y="1600.2" width="4.1" height="1.3" fill="#1a1acc"/>
<rect x="1642.5" y="1601.5" width="4.1" height="121" fill="#d22ed2"/>
<rect x="1646.6" y="1556.5" width="4.1" height="19.3" fill="#3ad63a"/>
<rect x="1646.6" y="1575.8" width="4.1" height="12.9" fill="#cc2020"/>
<rect x="1646.6" y="1588.6" width="4.1" height="1.3" fill="#1a1acc"/>
<rect x="1646.6" y="1589.9" width="4.1" height="132.5" fill="#d22ed2"/>
<rect x="1650.6" y="1552.6" width="4.1" height="19.3" fill="#3ad63a"/>
<rect x="1650.6" y="1571.9" width="4.1" height="15.5" fill="#cc2020"/>
<rect x="1650.6" y="1587.3" width="4.1" height="1.3" fill="#1a1acc"/>
<rect x="1650.6" y="1588.6" width="4.1" height="133.8" fill="#d22ed2"/>
<rect x="1654.7" y="1571.3" width="4.1" height="14.8" fill="#3ad63a"/>
<rect x="1654.7" y="1586" width="4.1" height="10.3" fill="#cc2020"/>
<rect x="1654.7" y="1596.3" width="4.1" height="3.9" fill="#1a1acc"/>
<rect x="1654.7" y="1600.2" width="4.1" height="122.3" fill="#d22ed2"/>
<rect x="1658.8" y="1593.8" width="4.1" height="12.9" fill="#3ad63a"/>
<rect x="1658.8" y="1606.6" width="4.1" height="1.3" fill="#cc2020"/>
<rect x="1658.8" y="1607.9" width="4.1" height="7.8" fill="#1a1acc"/>
<rect x="1658.8" y="1615.6" width="4.1" height="106.8" fill="#d22ed2"/>
<rect x="1662.9" y="1586" width="4.1" height="16.8" fill="#cc2020"/>
<rect x="1662.9" y="1602.8" width="4.1" height="5.2" fill="#3ad63a"/>
<rect x="1662.9" y="1607.9" width="4.1" height="7.8" fill="#1a1acc"/>
<rect x="1662.9" y="1615.6" width="4.1" height="106.8" fill="#d22ed2"/>
<rect x="1666.9" y="1579.6" width="4.1" height="9" fill="#3ad63a"/>
<rect x="1666.9" y="1588.6" width="4.1" height="14.2" fill="#cc2020"/>
<rect x="1666.9" y="1602.8" width="4.1" height="3.9" fill="#1a1acc"/>
<rect x="1666.9" y="1606.6" width="4.1" height="115.8" fill="#d22ed2"/>
<rect x="1671" y="1582.2" width="4.1" height="7.8" fill="#3ad63a"/>
<rect x="1671" y="1589.9" width="4.1" height="11.6" fill="#cc2020"/>
<rect x="1671" y="1601.5" width="4.1" height="3.9" fill="#1a1acc"/>
<rect x="1671" y="1605.3" width="4.1" height="117.1" fill="#d22ed2"/>
<rect x="1675.1" y="1562.3" width="4.1" height="8.4" fill="#cc2020"/>
<rect x="1675.1" y="1570.6" width="4.1" height="11.6" fill="#3ad63a"/>
<rect x="1675.1" y="1582.2" width="4.1" height="11.6" fill="#1a1acc"/>
<rect x="1675.1" y="1593.8" width="4.1" height="128.7" fill="#d22ed2"/>
<rect x="1679.2" y="1542.4" width="4.1" height="7.8" fill="#cc2020"/>
<rect x="1679.2" y="1550.1" width="4.1" height="15.5" fill="#3ad63a"/>
<rect x="1679.2" y="1565.5" width="4.1" height="14.2" fill="#1a1acc"/>
<rect x="1679.2" y="1579.6" width="4.1" height="142.8" fill="#d22ed2"/>
<rect x="1683.3" y="1556.5" width="4.1" height="5.2" fill="#3ad63a"/>
<rect x="1683.3" y="1561.6" width="4.1" height="15.5" fill="#cc2020"/>
<rect x="1683.3" y="1577.1" width="4.1" height="3.9" fill="#1a1acc"/>
<rect x="1683.3" y="1580.9" width="4.1" height="141.5" fill="#d22ed2"/>
<rect x="1687.3" y="1583.5" width="4.1" height="6.5" fill="#3ad63a"/>
<rect x="1687.3" y="1589.9" width="4.1" height="15.5" fill="#cc2020"/>
<rect x="1687.3" y="1605.3" width="4.1" height="5.2" fill="#1a1acc"/>
<rect x="1687.3" y="1610.5" width="4.1" height="112" fill="#d22ed2"/>
<rect x="1691.4" y="1602.8" width="4.1" height="10.3" fill="#3ad63a"/>
<rect x="1691.4" y="1613" width="4.1" height="1.3" fill="#cc2020"/>
<rect x="1691.4" y="1614.3" width="4.1" height="9" fill="#1a1acc"/>
<rect x="1691.4" y="1623.3" width="4.1" height="99.1" fill="#d22ed2"/>
<rect x="1695.5" y="1554.6" width="4.1" height="4.5" fill="#3ad63a"/>
<rect x="1695.5" y="1559.1" width="4.1" height="18" fill="#cc2020"/>
<rect x="1695.5" y="1577.1" width="4.1" height="2.6" fill="#1a1acc"/>
<rect x="1695.5" y="1579.6" width="4.1" height="142.8" fill="#d22ed2"/>
<rect x="1699.6" y="1568.1" width="4.1" height="3.9" fill="#3ad63a"/>
<rect x="1699.6" y="1571.9" width="4.1" height="18" fill="#cc2020"/>
<rect x="1699.6" y="1589.9" width="4.1" height="3.9" fill="#1a1acc"/>
<rect x="1699.6" y="1593.8" width="4.1" height="128.7" fill="#d22ed2"/>
<rect x="1703.7" y="1529.5" width="4.1" height="3.9" fill="#3ad63a"/>
<rect x="1703.7" y="1533.4" width="4.1" height="25.8" fill="#cc2020"/>
<rect x="1703.7" y="1559.1" width="4.1" height="2.6" fill="#1a1acc"/>
<rect x="1703.7" y="1561.6" width="4.1" height="160.8" fill="#d22ed2"/>
<rect x="1707.7" y="1525.7" width="4.1" height="4.5" fill="#cc2020"/>
<rect x="1707.7" y="1530.1" width="4.1" height="32.8" fill="#3ad63a"/>
<rect x="1707.7" y="1562.9" width="4.1" height="2.6" fill="#1a1acc"/>
<rect x="1707.7" y="1565.5" width="4.1" height="157" fill="#d22ed2"/>
<rect x="1711.8" y="1523.1" width="4.1" height="14.2" fill="#cc2020"/>
<rect x="1711.8" y="1537.2" width="4.1" height="41.2" fill="#3ad63a"/>
<rect x="1711.8" y="1578.3" width="4.1" height="3.9" fill="#1a1acc"/>
<rect x="1711.8" y="1582.2" width="4.1" height="140.3" fill="#d22ed2"/>
<rect x="1715.9" y="1491" width="4.1" height="3.9" fill="#cc2020"/>
<rect x="1715.9" y="1494.8" width="4.1" height="68.2" fill="#3ad63a"/>
<rect x="1715.9" y="1562.9" width="4.1" height="1.3" fill="#1a1acc"/>
<rect x="1715.9" y="1564.2" width="4.1" height="158.2" fill="#d22ed2"/>
<rect x="1720" y="1472.3" width="4.1" height="18.7" fill="#3ad63a"/>
<rect x="1720" y="1491" width="4.1" height="56.6" fill="#cc2020"/>
<rect x="1720" y="1547.5" width="4.1" height="1.3" fill="#d22ed2"/>
<rect x="1720" y="1548.8" width="4.1" height="173.7" fill="#1a1acc"/>
<rect x="1724.1" y="1503.2" width="4.1" height="8.4" fill="#3ad63a"/>
<rect x="1724.1" y="1511.5" width="4.1" height="36.7" fill="#cc2020"/>
<rect x="1724.1" y="1548.1" width="4.1" height="4.5" fill="#d22ed2"/>
<rect x="1724.1" y="1552.6" width="4.1" height="169.8" fill="#1a1acc"/>
<rect x="1728.1" y="1544.9" width="4.1" height="0.7" fill="#cc2020"/>
<rect x="1728.1" y="1545.6" width="4.1" height="29" fill="#3ad63a"/>
<rect x="1728.1" y="1574.5" width="4.1" height="1.3" fill="#d22ed2"/>
<rect x="1728.1" y="1575.8" width="4.1" height="146.7" fill="#1a1acc"/>
<rect x="1732.2" y="1570" width="4.1" height="8.4" fill="#3ad63a"/>
<rect x="1732.2" y="1578.3" width="4.1" height="21.9" fill="#cc2020"/>
<rect x="1732.2" y="1600.2" width="4.1" height="2.6" fill="#1a1acc"/>
<rect x="1732.2" y="1602.8" width="4.1" height="119.7" fill="#d22ed2"/>
<rect x="1736.3" y="1564.2" width="4.1" height="3.9" fill="#3ad63a"/>
<rect x="1736.3" y="1568.1" width="4.1" height="23.2" fill="#cc2020"/>
<rect x="1736.3" y="1591.2" width="4.1" height="1.3" fill="#d22ed2"/>
<rect x="1736.3" y="1592.5" width="4.1" height="130" fill="#1a1acc"/>
<rect x="1740.4" y="1562.3" width="4.1" height="5.8" fill="#3ad63a"/>
<rect x="1740.4" y="1568.1" width="4.1" height="25.8" fill="#cc2020"/>
<rect x="1740.4" y="1593.8" width="4.1" height="1.3" fill="#d22ed2"/>
<rect x="1740.4" y="1595" width="4.1" height="127.4" fill="#1a1acc"/>
<rect x="1744.5" y="1577.1" width="4.1" height="5.2" fill="#3ad63a"/>
<rect x="1744.5" y="1582.2" width="4.1" height="20.6" fill="#cc2020"/>
<rect x="1744.5" y="1602.8" width="4.1" height="5.2" fill="#d22ed2"/>
<rect x="1744.5" y="1607.9" width="4.1" height="114.6" fill="#1a1acc"/>
<rect x="1748.5" y="1592.5" width="4.1" height="10.3" fill="#3ad63a"/>
<rect x="1748.5" y="1602.8" width="4.1" height="7.8" fill="#cc2020"/>
<rect x="1748.5" y="1610.5" width="4.1" height="5.2" fill="#1a1acc"/>
<rect x="1748.5" y="1615.6" width="4.1" height="106.8" fill="#d22ed2"/>
<rect x="1752.6" y="1591.2" width="4.1" height="16.8" fill="#3ad63a"/>
<rect x="1752.6" y="1607.9" width="4.1" height="3.9" fill="#cc2020"/>
<rect x="1752.6" y="1611.7" width="4.1" height="3.9" fill="#1a1acc"/>
<rect x="1752.6" y="1615.6" width="4.1" height="106.8" fill="#d22ed2"/>
<rect x="1756.7" y="1577.1" width="4.1" height="9" fill="#cc2020"/>
<rect x="1756.7" y="1586" width="4.1" height="15.5" fill="#3ad63a"/>
<rect x="1756.7" y="1601.5" width="4.1" height="9" fill="#1a1acc"/>
<rect x="1756.7" y="1610.5" width="4.1" height="112" fill="#d22ed2"/>
<rect x="1760.8" y="1588" width="4.1" height="16.1" fill="#3ad63a"/>
<rect x="1760.8" y="1604" width="4.1" height="2.6" fill="#cc2020"/>
<rect x="1760.8" y="1606.6" width="4.1" height="6.5" fill="#1a1acc"/>
<rect x="1760.8" y="1613" width="4.1" height="109.4" fill="#d22ed2"/>
<rect x="1764.9" y="1602.8" width="4.1" height="12.9" fill="#3ad63a"/>
<rect x="1764.9" y="1615.6" width="4.1" height="2.6" fill="#cc2020"/>
<rect x="1764.9" y="1618.2" width="4.1" height="3.9" fill="#1a1acc"/>
<rect x="1764.9" y="1622" width="4.1" height="100.4" fill="#d22ed2"/>
<rect x="1768.9" y="1586" width="4.1" height="14.2" fill="#3ad63a"/>
<rect x="1768.9" y="1600.2" width="4.1" height="7.8" fill="#cc2020"/>
<rect x="1768.9" y="1607.9" width="4.1" height="7.8" fill="#1a1acc"/>
<rect x="1768.9" y="1615.6" width="4.1" height="106.8" fill="#d22ed2"/>
<rect x="1773" y="1580.9" width="4.1" height="9" fill="#3ad63a"/>
<rect x="1773" y="1589.9" width="4.1" height="12.9" fill="#cc2020"/>
<rect x="1773" y="1602.8" width="4.1" height="7.8" fill="#1a1acc"/>
<rect x="1773" y="1610.5" width="4.1" height="112" fill="#d22ed2"/>
<rect x="1777.1" y="1562.3" width="4.1" height="21.3" fill="#3ad63a"/>
<rect x="1777.1" y="1583.5" width="4.1" height="12.9" fill="#cc2020"/>
<rect x="1777.1" y="1596.3" width="4.1" height="9" fill="#1a1acc"/>
<rect x="1777.1" y="1605.3" width="4.1" height="117.1" fill="#d22ed2"/>
<rect x="1781.2" y="1622" width="4.1" height="3.9" fill="#3ad63a"/>
<rect x="1781.2" y="1625.9" width="4.1" height="2.6" fill="#cc2020"/>
<rect x="1781.2" y="1628.5" width="4.1" height="5.2" fill="#1a1acc"/>
<rect x="1781.2" y="1633.6" width="4.1" height="88.9" fill="#d22ed2"/>
<rect x="1785.3" y="1608.5" width="4.1" height="3.3" fill="#cc2020"/>
<rect x="1785.3" y="1611.7" width="4.1" height="10.3" fill="#3ad63a"/>
<rect x="1785.3" y="1622" width="4.1" height="6.5" fill="#1a1acc"/>
<rect x="1785.3" y="1628.5" width="4.1" height="94" fill="#d22ed2"/>
<rect x="1789.3" y="1610.5" width="4.1" height="10.3" fill="#3ad63a"/>
<rect x="1789.3" y="1620.7" width="4.1" height="2.6" fill="#cc2020"/>
<rect x="1789.3" y="1623.3" width="4.1" height="5.2" fill="#1a1acc"/>
<rect x="1789.3" y="1628.5" width="4.1" height="94" fill="#d22ed2"/>
<rect x="1793.4" y="1620.7" width="4.1" height="5.2" fill="#3ad63a"/>
<rect x="1793.4" y="1625.9" width="4.1" height="2.6" fill="#cc2020"/>
<rect x="1793.4" y="1628.5" width="4.1" height="5.2" fill="#1a1acc"/>
<rect x="1793.4" y="1633.6" width="4.1" height="88.9" fill="#d22ed2"/>
<rect x="1797.5" y="1614.3" width="4.1" height="3.9" fill="#cc2020"/>
<rect x="1797.5" y="1618.2" width="4.1" height="10.3" fill="#3ad63a"/>
<rect x="1797.5" y="1628.5" width="4.1" height="5.2" fill="#1a1acc"/>
<rect x="1797.5" y="1633.6" width="4.1" height="88.9" fill="#d22ed2"/>
<rect x="1801.6" y="1598.9" width="4.1" height="19.3" fill="#3ad63a"/>
<rect x="1801.6" y="1618.2" width="4.1" height="2.6" fill="#cc2020"/>
<rect x="1801.6" y="1620.7" width="4.1" height="7.8" fill="#1a1acc"/>
<rect x="1801.6" y="1628.5" width="4.1" height="94" fill="#d22ed2"/>
<rect x="1805.7" y="1598.9" width="4.1" height="3.9" fill="#cc2020"/>
<rect x="1805.7" y="1602.8" width="4.1" height="12.9" fill="#3ad63a"/>
<rect x="1805.7" y="1615.6" width="4.1" height="11.6" fill="#1a1acc"/>
<rect x="1805.7" y="1627.2" width="4.1" height="95.3" fill="#d22ed2"/>
<rect x="1809.7" y="1606.6" width="4.1" height="11.6" fill="#cc2020"/>
<rect x="1809.7" y="1618.2" width="4.1" height="3.9" fill="#3ad63a"/>
<rect x="1809.7" y="1622" width="4.1" height="6.5" fill="#1a1acc"/>
<rect x="1809.7" y="1628.5" width="4.1" height="94" fill="#d22ed2"/>
<rect x="1813.8" y="1370.5" width="4.1" height="31.3" fill="#3ad63a"/>
<rect x="1813.8" y="1401.7" width="4.1" height="152.3" fill="#cc2020"/>
<rect x="1813.8" y="1553.9" width="4.1" height="19.3" fill="#d22ed2"/>
<rect x="1813.8" y="1573.2" width="4.1" height="149.3" fill="#1a1acc"/>
<rect x="1817.9" y="1269.1" width="4.1" height="35.3" fill="#3ad63a"/>
<rect x="1817.9" y="1304.3" width="4.1" height="231.7" fill="#cc2020"/>
<rect x="1817.9" y="1535.9" width="4.1" height="19.3" fill="#d22ed2"/>
<rect x="1817.9" y="1555.2" width="4.1" height="167.2" fill="#1a1acc"/>
<rect x="1822" y="1471" width="4.1" height="12.3" fill="#3ad63a"/>
<rect x="1822" y="1483.2" width="4.1" height="108" fill="#cc2020"/>
<rect x="1822" y="1591.2" width="4.1" height="1.3" fill="#d22ed2"/>
<rect x="1822" y="1592.5" width="4.1" height="130" fill="#1a1acc"/>
<rect x="1826.1" y="1614.3" width="4.1" height="3.9" fill="#3ad63a"/>
<rect x="1826.1" y="1618.2" width="4.1" height="9" fill="#cc2020"/>
<rect x="1826.1" y="1627.2" width="4.1" height="3.9" fill="#1a1acc"/>
<rect x="1826.1" y="1631" width="4.1" height="91.4" fill="#d22ed2"/>
<rect x="1830.1" y="1614.3" width="4.1" height="6.5" fill="#3ad63a"/>
<rect x="1830.1" y="1620.7" width="4.1" height="7.8" fill="#cc2020"/>
<rect x="1830.1" y="1628.5" width="4.1" height="3.9" fill="#1a1acc"/>
<rect x="1830.1" y="1632.3" width="4.1" height="90.1" fill="#d22ed2"/>
<rect x="1834.2" y="1600.2" width="4.1" height="6.5" fill="#cc2020"/>
<rect x="1834.2" y="1606.6" width="4.1" height="11.6" fill="#3ad63a"/>
<rect x="1834.2" y="1618.2" width="4.1" height="9" fill="#1a1acc"/>
<rect x="1834.2" y="1627.2" width="4.1" height="95.3" fill="#d22ed2"/>
<rect x="1838.3" y="1604" width="4.1" height="14.2" fill="#3ad63a"/>
<rect x="1838.3" y="1618.2" width="4.1" height="2.6" fill="#cc2020"/>
<rect x="1838.3" y="1620.7" width="4.1" height="7.8" fill="#1a1acc"/>
<rect x="1838.3" y="1628.5" width="4.1" height="94" fill="#d22ed2"/>
<rect x="1842.4" y="1614.3" width="4.1" height="6.5" fill="#cc2020"/>
<rect x="1842.4" y="1620.7" width="4.1" height="7.8" fill="#3ad63a"/>
<rect x="1842.4" y="1628.5" width="4.1" height="5.2" fill="#1a1acc"/>
<rect x="1842.4" y="1633.6" width="4.1" height="88.9" fill="#d22ed2"/>
<rect x="1846.5" y="1600.2" width="4.1" height="18" fill="#3ad63a"/>
<rect x="1846.5" y="1618.2" width="4.1" height="2.6" fill="#cc2020"/>
<rect x="1846.5" y="1620.7" width="4.1" height="6.5" fill="#1a1acc"/>
<rect x="1846.5" y="1627.2" width="4.1" height="95.3" fill="#d22ed2"/>
<rect x="1850.5" y="1607.9" width="4.1" height="12.9" fill="#3ad63a"/>
<rect x="1850.5" y="1620.7" width="4.1" height="5.2" fill="#cc2020"/>
<rect x="1850.5" y="1625.9" width="4.1" height="6.5" fill="#1a1acc"/>
<rect x="1850.5" y="1632.3" width="4.1" height="90.1" fill="#d22ed2"/>
<rect x="1854.6" y="1595" width="4.1" height="19.3" fill="#3ad63a"/>
<rect x="1854.6" y="1614.3" width="4.1" height="1.3" fill="#cc2020"/>
<rect x="1854.6" y="1615.6" width="4.1" height="12.9" fill="#1a1acc"/>
<rect x="1854.6" y="1628.5" width="4.1" height="94" fill="#d22ed2"/>
<rect x="1858.7" y="1607.9" width="4.1" height="20.6" fill="#3ad63a"/>
<rect x="1858.7" y="1628.5" width="4.1" height="2.6" fill="#cc2020"/>
<rect x="1858.7" y="1631" width="4.1" height="3.9" fill="#1a1acc"/>
<rect x="1858.7" y="1634.9" width="4.1" height="87.6" fill="#d22ed2"/>
<rect x="1862.8" y="1613" width="4.1" height="2.6" fill="#3ad63a"/>
<rect x="1862.8" y="1615.6" width="4.1" height="15.5" fill="#cc2020"/>
<rect x="1862.8" y="1631" width="4.1" height="3.9" fill="#1a1acc"/>
<rect x="1862.8" y="1634.9" width="4.1" height="87.6" fill="#d22ed2"/>
<rect x="1866.9" y="1600.2" width="4.1" height="12.9" fill="#cc2020"/>
<rect x="1866.9" y="1613" width="4.1" height="15.5" fill="#3ad63a"/>
<rect x="1866.9" y="1628.5" width="4.1" height="5.2" fill="#1a1acc"/>
<rect x="1866.9" y="1633.6" width="4.1" height="88.9" fill="#d22ed2"/>
<rect x="1870.9" y="1583.5" width="4.1" height="5.2" fill="#3ad63a"/>
<rect x="1870.9" y="1588.6" width="4.1" height="12.9" fill="#cc2020"/>
<rect x="1870.9" y="1601.5" width="4.1" height="7.8" fill="#1a1acc"/>
<rect x="1870.9" y="1609.2" width="4.1" height="113.3" fill="#d22ed2"/>
<rect x="1875" y="1572.6" width="4.1" height="8.4" fill="#3ad63a"/>
<rect x="1875" y="1580.9" width="4.1" height="11.6" fill="#cc2020"/>
<rect x="1875" y="1592.5" width="4.1" height="7.8" fill="#1a1acc"/>
<rect x="1875" y="1600.2" width="4.1" height="122.3" fill="#d22ed2"/>
<rect x="1879.1" y="1530.1" width="4.1" height="16.1" fill="#cc2020"/>
<rect x="1879.1" y="1546.2" width="4.1" height="24.5" fill="#3ad63a"/>
<rect x="1879.1" y="1570.6" width="4.1" height="11.6" fill="#1a1acc"/>
<rect x="1879.1" y="1582.2" width="4.1" height="140.3" fill="#d22ed2"/>
<rect x="1883.2" y="1537.2" width="4.1" height="14.2" fill="#cc2020"/>
<rect x="1883.2" y="1551.4" width="4.1" height="21.9" fill="#3ad63a"/>
<rect x="1883.2" y="1573.2" width="4.1" height="10.3" fill="#1a1acc"/>
<rect x="1883.2" y="1583.5" width="4.1" height="139" fill="#d22ed2"/>
<rect x="1887.3" y="1520.5" width="4.1" height="19.3" fill="#cc2020"/>
<rect x="1887.3" y="1539.8" width="4.1" height="25.8" fill="#3ad63a"/>
<rect x="1887.3" y="1565.5" width="4.1" height="10.3" fill="#1a1acc"/>
<rect x="1887.3" y="1575.8" width="4.1" height="146.7" fill="#d22ed2"/>
<rect x="1891.3" y="1526.3" width="4.1" height="25.1" fill="#cc2020"/>
<rect x="1891.3" y="1551.4" width="4.1" height="18" fill="#3ad63a"/>
<rect x="1891.3" y="1569.3" width="4.1" height="11.6" fill="#1a1acc"/>
<rect x="1891.3" y="1580.9" width="4.1" height="141.5" fill="#d22ed2"/>
<rect x="1895.4" y="1543.6" width="4.1" height="23.2" fill="#cc2020"/>
<rect x="1895.4" y="1566.8" width="4.1" height="24.5" fill="#3ad63a"/>
<rect x="1895.4" y="1591.2" width="4.1" height="9" fill="#1a1acc"/>
<rect x="1895.4" y="1600.2" width="4.1" height="122.3" fill="#d22ed2"/>
<rect x="1899.5" y="1570.6" width="4.1" height="19.3" fill="#cc2020"/>
<rect x="1899.5" y="1589.9" width="4.1" height="24.5" fill="#3ad63a"/>
<rect x="1899.5" y="1614.3" width="4.1" height="1.3" fill="#1a1acc"/>
<rect x="1899.5" y="1615.6" width="4.1" height="106.8" fill="#d22ed2"/>
<rect x="1903.6" y="1550.7" width="4.1" height="14.8" fill="#cc2020"/>
<rect x="1903.6" y="1565.5" width="4.1" height="15.5" fill="#3ad63a"/>
<rect x="1903.6" y="1580.9" width="4.1" height="16.8" fill="#1a1acc"/>
<rect x="1903.6" y="1597.6" width="4.1" height="124.8" fill="#d22ed2"/>
<rect x="1907.7" y="1604" width="4.1" height="21.9" fill="#cc2020"/>
<rect x="1907.7" y="1625.9" width="4.1" height="1.3" fill="#3ad63a"/>
<rect x="1907.7" y="1627.2" width="4.1" height="3.9" fill="#1a1acc"/>
<rect x="1907.7" y="1631" width="4.1" height="91.4" fill="#d22ed2"/>
<rect x="1911.7" y="1604" width="4.1" height="23.2" fill="#cc2020"/>
<rect x="1911.7" y="1627.2" width="4.1" height="1.3" fill="#3ad63a"/>
<rect x="1911.7" y="1628.5" width="4.1" height="2.6" fill="#1a1acc"/>
<rect x="1911.7" y="1631" width="4.1" height="91.4" fill="#d22ed2"/>
<rect x="1915.8" y="1569.3" width="4.1" height="13.5" fill="#cc2020"/>
<rect x="1915.8" y="1582.8" width="4.1" height="22.5" fill="#3ad63a"/>
<rect x="1915.8" y="1605.3" width="4.1" height="7.8" fill="#1a1acc"/>
<rect x="1915.8" y="1613" width="4.1" height="109.4" fill="#d22ed2"/>
<rect x="1919.9" y="1598.9" width="4.1" height="11.6" fill="#cc2020"/>
<rect x="1919.9" y="1610.5" width="4.1" height="10.3" fill="#3ad63a"/>
<rect x="1919.9" y="1620.7" width="4.1" height="6.5" fill="#1a1acc"/>
<rect x="1919.9" y="1627.2" width="4.1" height="95.3" fill="#d22ed2"/>
<rect x="1924" y="1592.5" width="4.1" height="7.8" fill="#cc2020"/>
<rect x="1924" y="1600.2" width="4.1" height="18" fill="#3ad63a"/>
<rect x="1924" y="1618.2" width="4.1" height="5.2" fill="#1a1acc"/>
<rect x="1924" y="1623.3" width="4.1" height="99.1" fill="#d22ed2"/>
<rect x="1928" y="1602.8" width="4.1" height="12.9" fill="#cc2020"/>
<rect x="1928" y="1615.6" width="4.1" height="7.8" fill="#3ad63a"/>
<rect x="1928" y="1623.3" width="4.1" height="5.2" fill="#1a1acc"/>
<rect x="1928" y="1628.5" width="4.1" height="94" fill="#d22ed2"/>
<rect x="1932.1" y="1589.9" width="4.1" height="15.5" fill="#cc2020"/>
<rect x="1932.1" y="1605.3" width="4.1" height="14.2" fill="#3ad63a"/>
<rect x="1932.1" y="1619.5" width="4.1" height="7.8" fill="#1a1acc"/>
<rect x="1932.1" y="1627.2" width="4.1" height="95.3" fill="#d22ed2"/>
<rect x="1936.2" y="1585.4" width="4.1" height="17.4" fill="#cc2020"/>
<rect x="1936.2" y="1602.8" width="4.1" height="12.9" fill="#3ad63a"/>
<rect x="1936.2" y="1615.6" width="4.1" height="10.3" fill="#1a1acc"/>
<rect x="1936.2" y="1625.9" width="4.1" height="96.6" fill="#d22ed2"/>
<rect x="1940.3" y="1593.8" width="4.1" height="14.2" fill="#cc2020"/>
<rect x="1940.3" y="1607.9" width="4.1" height="10.3" fill="#3ad63a"/>
<rect x="1940.3" y="1618.2" width="4.1" height="10.3" fill="#1a1acc"/>
<rect x="1940.3" y="1628.5" width="4.1" height="94" fill="#d22ed2"/>
<rect x="1944.4" y="1607.9" width="4.1" height="15.5" fill="#cc2020"/>
<rect x="1944.4" y="1623.3" width="4.1" height="2.6" fill="#3ad63a"/>
<rect x="1944.4" y="1625.9" width="4.1" height="5.2" fill="#1a1acc"/>
<rect x="1944.4" y="1631" width="4.1" height="91.4" fill="#d22ed2"/>
<rect x="1948.4" y="1607.9" width="4.1" height="7.8" fill="#3ad63a"/>
<rect x="1948.4" y="1615.6" width="4.1" height="11.6" fill="#cc2020"/>
<rect x="1948.4" y="1627.2" width="4.1" height="3.9" fill="#1a1acc"/>
<rect x="1948.4" y="1631" width="4.1" height="91.4" fill="#d22ed2"/>
<rect x="1952.5" y="1610.5" width="4.1" height="12.9" fill="#cc2020"/>
<rect x="1952.5" y="1623.3" width="4.1" height="2.6" fill="#3ad63a"/>
<rect x="1952.5" y="1625.9" width="4.1" height="6.5" fill="#1a1acc"/>
<rect x="1952.5" y="1632.3" width="4.1" height="90.1" fill="#d22ed2"/>
<rect x="1956.6" y="1604" width="4.1" height="16.8" fill="#3ad63a"/>
<rect x="1956.6" y="1620.7" width="4.1" height="2.6" fill="#cc2020"/>
<rect x="1956.6" y="1623.3" width="4.1" height="7.8" fill="#1a1acc"/>
<rect x="1956.6" y="1631" width="4.1" height="91.4" fill="#d22ed2"/>
<rect x="1960.7" y="1588.6" width="4.1" height="23.2" fill="#3ad63a"/>
<rect x="1960.7" y="1611.7" width="4.1" height="2.6" fill="#cc2020"/>
<rect x="1960.7" y="1614.3" width="4.1" height="6.5" fill="#1a1acc"/>
<rect x="1960.7" y="1620.7" width="4.1" height="101.7" fill="#d22ed2"/>
<rect x="1964.8" y="1598.9" width="4.1" height="11.6" fill="#3ad63a"/>
<rect x="1964.8" y="1610.5" width="4.1" height="11.6" fill="#cc2020"/>
<rect x="1964.8" y="1622" width="4.1" height="6.5" fill="#1a1acc"/>
<rect x="1964.8" y="1628.5" width="4.1" height="94" fill="#d22ed2"/>
<rect x="1968.8" y="1609.2" width="4.1" height="6.5" fill="#3ad63a"/>
<rect x="1968.8" y="1615.6" width="4.1" height="12.9" fill="#cc2020"/>
<rect x="1968.8" y="1628.5" width="4.1" height="5.2" fill="#1a1acc"/>
<rect x="1968.8" y="1633.6" width="4.1" height="88.9" fill="#d22ed2"/>
<rect x="1972.9" y="1604" width="4.1" height="6.5" fill="#cc2020"/>
<rect x="1972.9" y="1610.5" width="4.1" height="20.6" fill="#3ad63a"/>
<rect x="1972.9" y="1631" width="4.1" height="3.9" fill="#1a1acc"/>
<rect x="1972.9" y="1634.9" width="4.1" height="87.6" fill="#d22ed2"/>
<rect x="1977" y="1595" width="4.1" height="20.6" fill="#3ad63a"/>
<rect x="1977" y="1615.6" width="4.1" height="2.6" fill="#cc2020"/>
<rect x="1977" y="1618.2" width="4.1" height="6.5" fill="#1a1acc"/>
<rect x="1977" y="1624.6" width="4.1" height="97.9" fill="#d22ed2"/>
<rect x="1981.1" y="1583.5" width="4.1" height="16.8" fill="#cc2020"/>
<rect x="1981.1" y="1600.2" width="4.1" height="18" fill="#3ad63a"/>
<rect x="1981.1" y="1618.2" width="4.1" height="5.2" fill="#1a1acc"/>
<rect x="1981.1" y="1623.3" width="4.1" height="99.1" fill="#d22ed2"/>
<rect x="1985.2" y="1598.9" width="4.1" height="16.8" fill="#cc2020"/>
<rect x="1985.2" y="1615.6" width="4.1" height="2.6" fill="#3ad63a"/>
<rect x="1985.2" y="1618.2" width="4.1" height="7.8" fill="#1a1acc"/>
<rect x="1985.2" y="1625.9" width="4.1" height="96.6" fill="#d22ed2"/>
<rect x="1989.2" y="1610.5" width="4.1" height="5.2" fill="#3ad63a"/>
<rect x="1989.2" y="1615.6" width="4.1" height="12.9" fill="#cc2020"/>
<rect x="1989.2" y="1628.5" width="4.1" height="6.5" fill="#1a1acc"/>
<rect x="1989.2" y="1634.9" width="4.1" height="87.6" fill="#d22ed2"/>
<rect x="1993.3" y="1607.9" width="4.1" height="20.6" fill="#cc2020"/>
<rect x="1993.3" y="1628.5" width="4.1" height="2.6" fill="#3ad63a"/>
<rect x="1993.3" y="1631" width="4.1" height="5.2" fill="#1a1acc"/>
<rect x="1993.3" y="1636.2" width="4.1" height="86.3" fill="#d22ed2"/>
<rect x="1997.4" y="1605.3" width="4.1" height="20.6" fill="#cc2020"/>
<rect x="1997.4" y="1625.9" width="4.1" height="2.6" fill="#3ad63a"/>
<rect x="1997.4" y="1628.5" width="4.1" height="5.2" fill="#1a1acc"/>
<rect x="1997.4" y="1633.6" width="4.1" height="88.9" fill="#d22ed2"/>
<rect x="2001.5" y="1598.9" width="4.1" height="5.2" fill="#3ad63a"/>
<rect x="2001.5" y="1604" width="4.1" height="20.6" fill="#cc2020"/>
<rect x="2001.5" y="1624.6" width="4.1" height="6.5" fill="#1a1acc"/>
<rect x="2001.5" y="1631" width="4.1" height="91.4" fill="#d22ed2"/>
<rect x="2005.6" y="1593.8" width="4.1" height="9" fill="#3ad63a"/>
<rect x="2005.6" y="1602.8" width="4.1" height="19.3" fill="#cc2020"/>
<rect x="2005.6" y="1622" width="4.1" height="6.5" fill="#1a1acc"/>
<rect x="2005.6" y="1628.5" width="4.1" height="94" fill="#d22ed2"/>
<rect x="2009.6" y="1595" width="4.1" height="5.2" fill="#3ad63a"/>
<rect x="2009.6" y="1600.2" width="4.1" height="21.9" fill="#cc2020"/>
<rect x="2009.6" y="1622" width="4.1" height="5.2" fill="#1a1acc"/>
<rect x="2009.6" y="1627.2" width="4.1" height="95.3" fill="#d22ed2"/>
<rect x="2013.7" y="1592.5" width="4.1" height="6.5" fill="#cc2020"/>
<rect x="2013.7" y="1598.9" width="4.1" height="19.3" fill="#3ad63a"/>
<rect x="2013.7" y="1618.2" width="4.1" height="6.5" fill="#1a1acc"/>
<rect x="2013.7" y="1624.6" width="4.1" height="97.9" fill="#d22ed2"/>
<rect x="2017.8" y="1577.1" width="4.1" height="15.5" fill="#cc2020"/>
<rect x="2017.8" y="1592.5" width="4.1" height="21.9" fill="#3ad63a"/>
<rect x="2017.8" y="1614.3" width="4.1" height="6.5" fill="#1a1acc"/>
<rect x="2017.8" y="1620.7" width="4.1" height="101.7" fill="#d22ed2"/>
<rect x="2021.9" y="1591.2" width="4.1" height="3.9" fill="#cc2020"/>
<rect x="2021.9" y="1595" width="4.1" height="20.6" fill="#3ad63a"/>
<rect x="2021.9" y="1615.6" width="4.1" height="6.5" fill="#1a1acc"/>
<rect x="2021.9" y="1622" width="4.1" height="100.4" fill="#d22ed2"/>
<rect x="2026" y="1592.5" width="4.1" height="3.9" fill="#cc2020"/>
<rect x="2026" y="1596.3" width="4.1" height="21.9" fill="#3ad63a"/>
<rect x="2026" y="1618.2" width="4.1" height="5.2" fill="#1a1acc"/>
<rect x="2026" y="1623.3" width="4.1" height="99.1" fill="#d22ed2"/>
<rect x="2030" y="1595" width="4.1" height="5.2" fill="#cc2020"/>
<rect x="2030" y="1600.2" width="4.1" height="19.3" fill="#3ad63a"/>
<rect x="2030" y="1619.5" width="4.1" height="6.5" fill="#1a1acc"/>
<rect x="2030" y="1625.9" width="4.1" height="96.6" fill="#d22ed2"/>
<rect x="2034.1" y="1602.8" width="4.1" height="3.9" fill="#3ad63a"/>
<rect x="2034.1" y="1606.6" width="4.1" height="15.5" fill="#cc2020"/>
<rect x="2034.1" y="1622" width="4.1" height="6.5" fill="#1a1acc"/>
<rect x="2034.1" y="1628.5" width="4.1" height="94" fill="#d22ed2"/>
<rect x="2038.2" y="1607.9" width="4.1" height="2.6" fill="#3ad63a"/>
<rect x="2038.2" y="1610.5" width="4.1" height="15.5" fill="#cc2020"/>
<rect x="2038.2" y="1625.9" width="4.1" height="5.2" fill="#1a1acc"/>
<rect x="2038.2" y="1631" width="4.1" height="91.4" fill="#d22ed2"/>
<path d="M1242.7 1540.4h4.1M1242.7 1555.8h4.1M1242.7 1586h4.1M1242.7 1591.8h4.1M1242.7 1540.4V1722.4M1246.7 1540.4h4.1M1246.7 1555.8h4.1M1246.7 1586h4.1M1246.7 1591.8h4.1M1246.7 1540.4V1722.4M1250.8 1566.1h4.1M1250.8 1576.4h4.1M1250.8 1592.5h4.1M1250.8 1605.3h4.1M1250.8 1540.4V1722.4M1254.9 1550.7h4.1M1254.9 1561.6h4.1M1254.9 1575.8h4.1M1254.9 1595h4.1M1254.9 1550.7V1722.4M1259 1574.5h4.1M1259 1583.5h4.1M1259 1598.9h4.1M1259 1609.2h4.1M1259 1550.7V1722.4M1263.1 1579.6h4.1M1263.1 1598.9h4.1M1263.1 1600.2h4.1M1263.1 1615.6h4.1M1263.1 1574.5V1722.4M1267.1 1528.2h4.1M1267.1 1552.6h4.1M1267.1 1562.9h4.1M1267.1 1589.9h4.1M1267.1 1528.2V1722.4M1271.2 1489h4.1M1271.2 1524.4h4.1M1271.2 1533.4h4.1M1271.2 1570.6h4.1M1271.2 1489V1722.4M1275.3 1539.1h4.1M1275.3 1547.5h4.1M1275.3 1570.6h4.1M1275.3 1591.2h4.1M1275.3 1489V1722.4M1279.4 1571.3h4.1M1279.4 1601.5h4.1M1279.4 1602.8h4.1M1279.4 1605.3h4.1M1279.4 1539.1V1722.4M1283.5 1569.3h4.1M1283.5 1573.2h4.1M1283.5 1604h4.1M1283.5 1607.9h4.1M1283.5 1569.3V1722.4M1287.5 1580.9h4.1M1287.5 1607.9h4.1M1287.5 1609.2h4.1M1287.5 1615.6h4.1M1287.5 1569.3V1722.4M1291.6 1586h4.1M1291.6 1614.3h4.1M1291.6 1615.6h4.1M1291.6 1616.9h4.1M1291.6 1580.9V1722.4M1295.7 1573.8h4.1M1295.7 1582.8h4.1M1295.7 1602.8h4.1M1295.7 1607.9h4.1M1295.7 1573.8V1722.4M1299.8 1588h4.1M1299.8 1596.3h4.1M1299.8 1609.2h4.1M1299.8 1615.6h4.1M1299.8 1573.8V1722.4M1303.9 1580.9h4.1M1303.9 1586.7h4.1M1303.9 1597.6h4.1M1303.9 1609.2h4.1M1303.9 1580.9V1722.4M1307.9 1565.5h4.1M1307.9 1577.1h4.1M1307.9 1589.9h4.1M1307.9 1595h4.1M1307.9 1565.5V1722.4M1312 1561h4.1M1312 1570.6h4.1M1312 1591.2h4.1M1312 1593.8h4.1M1312 1561V1722.4M1316.1 1543.6h4.1M1316.1 1574.5h4.1M1316.1 1577.1h4.1M1316.1 1579.6h4.1M1316.1 1543.6V1722.4M1320.2 1574.5h4.1M1320.2 1579.6h4.1M1320.2 1598.9h4.1M1320.2 1601.5h4.1M1320.2 1543.6V1722.4M1324.3 1575.8h4.1M1324.3 1582.2h4.1M1324.3 1600.2h4.1M1324.3 1602.8h4.1M1324.3 1574.5V1722.4M1328.3 1557.1h4.1M1328.3 1583.5h4.1M1328.3 1589.9h4.1M1328.3 1592.5h4.1M1328.3 1557.1V1722.4M1332.4 1548.8h4.1M1332.4 1559.7h4.1M1332.4 1586h4.1M1332.4 1587.3h4.1M1332.4 1548.8V1722.4M1336.5 1550.7h4.1M1336.5 1562.9h4.1M1336.5 1589.9h4.1M1336.5 1592.5h4.1M1336.5 1548.8V1722.4M1340.6 1559.7h4.1M1340.6 1565.5h4.1M1340.6 1605.3h4.1M1340.6 1606.6h4.1M1340.6 1550.7V1722.4M1344.7 1530.1h4.1M1344.7 1538.5h4.1M1344.7 1601.5h4.1M1344.7 1602.8h4.1M1344.7 1530.1V1722.4M1348.7 1480h4.1M1348.7 1491.6h4.1M1348.7 1588h4.1M1348.7 1600.2h4.1M1348.7 1480V1722.4M1352.8 1528.9h4.1M1352.8 1538.5h4.1M1352.8 1600.2h4.1M1352.8 1601.5h4.1M1352.8 1480V1722.4M1356.9 1549.4h4.1M1356.9 1555.2h4.1M1356.9 1589.9h4.1M1356.9 1592.5h4.1M1356.9 1528.9V1722.4M1361 1555.8h4.1M1361 1569.3h4.1M1361 1592.5h4.1M1361 1595h4.1M1361 1549.4V1722.4M1365.1 1570.6h4.1M1365.1 1579.6h4.1M1365.1 1598.9h4.1M1365.1 1600.2h4.1M1365.1 1555.8V1722.4M1369.1 1575.8h4.1M1369.1 1582.2h4.1M1369.1 1601.5h4.1M1369.1 1602.8h4.1M1369.1 1570.6V1722.4M1373.2 1569.3h4.1M1373.2 1575.8h4.1M1373.2 1600.2h4.1M1373.2 1601.5h4.1M1373.2 1569.3V1722.4M1377.3 1577.1h4.1M1377.3 1584.8h4.1M1377.3 1605.3h4.1M1377.3 1606.6h4.1M1377.3 1569.3V1722.4M1381.4 1589.3h4.1M1381.4 1595h4.1M1381.4 1613h4.1M1381.4 1618.2h4.1M1381.4 1577.1V1722.4M1385.4 1595h4.1M1385.4 1596.3h4.1M1385.4 1614.3h4.1M1385.4 1619.5h4.1M1385.4 1589.3V1722.4M1389.5 1592.5h4.1M1389.5 1598.9h4.1M1389.5 1614.3h4.1M1389.5 1618.2h4.1M1389.5 1592.5V1722.4M1393.6 1587.3h4.1M1393.6 1596.3h4.1M1393.6 1611.7h4.1M1393.6 1615.6h4.1M1393.6 1587.3V1722.4M1397.7 1586h4.1M1397.7 1595h4.1M1397.7 1611.7h4.1M1397.7 1616.9h4.1M1397.7 1586V1722.4M1401.8 1589.9h4.1M1401.8 1595h4.1M1401.8 1609.2h4.1M1401.8 1615.6h4.1M1401.8 1586V1722.4M1405.8 1575.8h4.1M1405.8 1589.9h4.1M1405.8 1606.6h4.1M1405.8 1610.5h4.1M1405.8 1575.8V1722.4M1409.9 1563.6h4.1M1409.9 1580.9h4.1M1409.9 1596.3h4.1M1409.9 1600.2h4.1M1409.9 1563.6V1722.4M1414 1582.8h4.1M1414 1595h4.1M1414 1606.6h4.1M1414 1610.5h4.1M1414 1563.6V1722.4M1418.1 1592.5h4.1M1418.1 1597.6h4.1M1418.1 1613h4.1M1418.1 1616.9h4.1M1418.1 1582.8V1722.4M1422.2 1595h4.1M1422.2 1600.2h4.1M1422.2 1615.6h4.1M1422.2 1620.7h4.1M1422.2 1592.5V1722.4M1426.2 1591.2h4.1M1426.2 1598.9h4.1M1426.2 1616.9h4.1M1426.2 1620.7h4.1M1426.2 1591.2V1722.4M1430.3 1586h4.1M1430.3 1600.2h4.1M1430.3 1614.3h4.1M1430.3 1618.2h4.1M1430.3 1586V1722.4M1434.4 1580.3h4.1M1434.4 1589.9h4.1M1434.4 1605.3h4.1M1434.4 1610.5h4.1M1434.4 1580.3V1722.4M1438.5 1582.8h4.1M1438.5 1592.5h4.1M1438.5 1606.6h4.1M1438.5 1609.2h4.1M1438.5 1580.3V1722.4M1442.6 1591.2h4.1M1442.6 1602.8h4.1M1442.6 1609.2h4.1M1442.6 1613h4.1M1442.6 1582.8V1722.4M1446.6 1572.6h4.1M1446.6 1591.2h4.1M1446.6 1601.5h4.1M1446.6 1605.3h4.1M1446.6 1572.6V1722.4M1450.7 1570.6h4.1M1450.7 1592.5h4.1M1450.7 1602.8h4.1M1450.7 1606.6h4.1M1450.7 1570.6V1722.4M1454.8 1573.8h4.1M1454.8 1596.3h4.1M1454.8 1606.6h4.1M1454.8 1609.2h4.1M1454.8 1570.6V1722.4M1458.9 1575.1h4.1M1458.9 1595h4.1M1458.9 1606.6h4.1M1458.9 1610.5h4.1M1458.9 1573.8V1722.4M1463 1582.8h4.1M1463 1589.9h4.1M1463 1610.5h4.1M1463 1614.3h4.1M1463 1575.1V1722.4M1467 1591.2h4.1M1467 1597.6h4.1M1467 1615.6h4.1M1467 1618.2h4.1M1467 1582.8V1722.4M1471.1 1592.5h4.1M1471.1 1600.2h4.1M1471.1 1616.9h4.1M1471.1 1620.7h4.1M1471.1 1591.2V1722.4M1475.2 1597.6h4.1M1475.2 1607.9h4.1M1475.2 1619.5h4.1M1475.2 1624.6h4.1M1475.2 1592.5V1722.4M1479.3 1595h4.1M1479.3 1605.3h4.1M1479.3 1615.6h4.1M1479.3 1620.7h4.1M1479.3 1595V1722.4M1483.4 1592.5h4.1M1483.4 1596.3h4.1M1483.4 1615.6h4.1M1483.4 1618.2h4.1M1483.4 1592.5V1722.4M1487.4 1598.3h4.1M1487.4 1605.3h4.1M1487.4 1622h4.1M1487.4 1625.9h4.1M1487.4 1592.5V1722.4M1491.5 1598.3h4.1M1491.5 1605.3h4.1M1491.5 1620.7h4.1M1491.5 1624.6h4.1M1491.5 1598.3V1722.4M1495.6 1595h4.1M1495.6 1602.8h4.1M1495.6 1616.9h4.1M1495.6 1620.7h4.1M1495.6 1595V1722.4M1499.7 1589.3h4.1M1499.7 1597.6h4.1M1499.7 1614.3h4.1M1499.7 1616.9h4.1M1499.7 1589.3V1722.4M1503.8 1582.8h4.1M1503.8 1596.3h4.1M1503.8 1610.5h4.1M1503.8 1615.6h4.1M1503.8 1582.8V1722.4M1507.8 1580.9h4.1M1507.8 1596.3h4.1M1507.8 1611.7h4.1M1507.8 1614.3h4.1M1507.8 1580.9V1722.4M1511.9 1584.8h4.1M1511.9 1600.2h4.1M1511.9 1610.5h4.1M1511.9 1613h4.1M1511.9 1580.9V1722.4M1516 1586h4.1M1516 1602.8h4.1M1516 1607.9h4.1M1516 1615.6h4.1M1516 1584.8V1722.4M1520.1 1580.9h4.1M1520.1 1601.5h4.1M1520.1 1606.6h4.1M1520.1 1615.6h4.1M1520.1 1580.9V1722.4M1524.2 1570.6h4.1M1524.2 1596.3h4.1M1524.2 1607.9h4.1M1524.2 1614.3h4.1M1524.2 1570.6V1722.4M1528.2 1572.6h4.1M1528.2 1602.8h4.1M1528.2 1610.5h4.1M1528.2 1616.9h4.1M1528.2 1570.6V1722.4M1532.3 1575.8h4.1M1532.3 1597.6h4.1M1532.3 1607.9h4.1M1532.3 1614.3h4.1M1532.3 1572.6V1722.4M1536.4 1577.7h4.1M1536.4 1592.5h4.1M1536.4 1605.3h4.1M1536.4 1610.5h4.1M1536.4 1575.8V1722.4M1540.5 1583.5h4.1M1540.5 1593.8h4.1M1540.5 1606.6h4.1M1540.5 1611.7h4.1M1540.5 1577.7V1722.4M1544.6 1580.9h4.1M1544.6 1595h4.1M1544.6 1607.9h4.1M1544.6 1611.7h4.1M1544.6 1580.9V1722.4M1548.6 1572.6h4.1M1548.6 1597.6h4.1M1548.6 1611.7h4.1M1548.6 1613h4.1M1548.6 1572.6V1722.4M1552.7 1557.1h4.1M1552.7 1596.3h4.1M1552.7 1604h4.1M1552.7 1605.3h4.1M1552.7 1557.1V1722.4M1556.8 1552.6h4.1M1556.8 1596.3h4.1M1556.8 1602.8h4.1M1556.8 1604h4.1M1556.8 1552.6V1722.4M1560.9 1569.3h4.1M1560.9 1602.8h4.1M1560.9 1609.2h4.1M1560.9 1610.5h4.1M1560.9 1552.6V1722.4M1565 1588h4.1M1565 1602.8h4.1M1565 1618.2h4.1M1565 1620.7h4.1M1565 1569.3V1722.4M1569 1584.1h4.1M1569 1595h4.1M1569 1614.3h4.1M1569 1615.6h4.1M1569 1584.1V1722.4M1573.1 1588.6h4.1M1573.1 1595h4.1M1573.1 1614.3h4.1M1573.1 1615.6h4.1M1573.1 1584.1V1722.4M1577.2 1580.9h4.1M1577.2 1592.5h4.1M1577.2 1610.5h4.1M1577.2 1611.7h4.1M1577.2 1580.9V1722.4M1581.3 1574.5h4.1M1581.3 1586.7h4.1M1581.3 1602.8h4.1M1581.3 1605.3h4.1M1581.3 1574.5V1722.4M1585.4 1575.8h4.1M1585.4 1587.3h4.1M1585.4 1602.8h4.1M1585.4 1606.6h4.1M1585.4 1574.5V1722.4M1589.4 1574.5h4.1M1589.4 1588h4.1M1589.4 1604h4.1M1589.4 1606.6h4.1M1589.4 1574.5V1722.4M1593.5 1575.8h4.1M1593.5 1587.3h4.1M1593.5 1604h4.1M1593.5 1606.6h4.1M1593.5 1574.5V1722.4M1597.6 1580.9h4.1M1597.6 1592.5h4.1M1597.6 1601.5h4.1M1597.6 1605.3h4.1M1597.6 1575.8V1722.4M1601.7 1575.8h4.1M1601.7 1579.6h4.1M1601.7 1592.5h4.1M1601.7 1604h4.1M1601.7 1575.8V1722.4M1605.8 1575.8h4.1M1605.8 1580.9h4.1M1605.8 1589.9h4.1M1605.8 1604h4.1M1605.8 1575.8V1722.4M1609.8 1567.4h4.1M1609.8 1575.8h4.1M1609.8 1582.2h4.1M1609.8 1596.3h4.1M1609.8 1567.4V1722.4M1613.9 1564.2h4.1M1613.9 1569.3h4.1M1613.9 1588.6h4.1M1613.9 1592.5h4.1M1613.9 1564.2V1722.4M1618 1569.3h4.1M1618 1574.5h4.1M1618 1592.5h4.1M1618 1596.3h4.1M1618 1564.2V1722.4M1622.1 1583.5h4.1M1622.1 1589.9h4.1M1622.1 1604h4.1M1622.1 1607.9h4.1M1622.1 1569.3V1722.4M1626.2 1575.8h4.1M1626.2 1586h4.1M1626.2 1598.9h4.1M1626.2 1602.8h4.1M1626.2 1575.8V1722.4M1630.2 1572.6h4.1M1630.2 1583.5h4.1M1630.2 1589.9h4.1M1630.2 1598.9h4.1M1630.2 1572.6V1722.4M1634.3 1564.2h4.1M1634.3 1588.6h4.1M1634.3 1598.9h4.1M1634.3 1600.2h4.1M1634.3 1564.2V1722.4M1638.4 1557.8h4.1M1638.4 1589.9h4.1M1638.4 1600.2h4.1M1638.4 1601.5h4.1M1638.4 1557.8V1722.4M1642.5 1559.1h4.1M1642.5 1587.3h4.1M1642.5 1600.2h4.1M1642.5 1601.5h4.1M1642.5 1557.8V1722.4M1646.6 1556.5h4.1M1646.6 1575.8h4.1M1646.6 1588.6h4.1M1646.6 1589.9h4.1M1646.6 1556.5V1722.4M1650.6 1552.6h4.1M1650.6 1571.9h4.1M1650.6 1587.3h4.1M1650.6 1588.6h4.1M1650.6 1552.6V1722.4M1654.7 1571.3h4.1M1654.7 1586h4.1M1654.7 1596.3h4.1M1654.7 1600.2h4.1M1654.7 1552.6V1722.4M1658.8 1593.8h4.1M1658.8 1606.6h4.1M1658.8 1607.9h4.1M1658.8 1615.6h4.1M1658.8 1571.3V1722.4M1662.9 1586h4.1M1662.9 1602.8h4.1M1662.9 1607.9h4.1M1662.9 1615.6h4.1M1662.9 1586V1722.4M1666.9 1579.6h4.1M1666.9 1588.6h4.1M1666.9 1602.8h4.1M1666.9 1606.6h4.1M1666.9 1579.6V1722.4M1671 1582.2h4.1M1671 1589.9h4.1M1671 1601.5h4.1M1671 1605.3h4.1M1671 1579.6V1722.4M1675.1 1562.3h4.1M1675.1 1570.6h4.1M1675.1 1582.2h4.1M1675.1 1593.8h4.1M1675.1 1562.3V1722.4M1679.2 1542.4h4.1M1679.2 1550.1h4.1M1679.2 1565.5h4.1M1679.2 1579.6h4.1M1679.2 1542.4V1722.4M1683.3 1556.5h4.1M1683.3 1561.6h4.1M1683.3 1577.1h4.1M1683.3 1580.9h4.1M1683.3 1542.4V1722.4M1687.3 1583.5h4.1M1687.3 1589.9h4.1M1687.3 1605.3h4.1M1687.3 1610.5h4.1M1687.3 1556.5V1722.4M1691.4 1602.8h4.1M1691.4 1613h4.1M1691.4 1614.3h4.1M1691.4 1623.3h4.1M1691.4 1583.5V1722.4M1695.5 1554.6h4.1M1695.5 1559.1h4.1M1695.5 1577.1h4.1M1695.5 1579.6h4.1M1695.5 1554.6V1722.4M1699.6 1568.1h4.1M1699.6 1571.9h4.1M1699.6 1589.9h4.1M1699.6 1593.8h4.1M1699.6 1554.6V1722.4M1703.7 1529.5h4.1M1703.7 1533.4h4.1M1703.7 1559.1h4.1M1703.7 1561.6h4.1M1703.7 1529.5V1722.4M1707.7 1525.7h4.1M1707.7 1530.1h4.1M1707.7 1562.9h4.1M1707.7 1565.5h4.1M1707.7 1525.7V1722.4M1711.8 1523.1h4.1M1711.8 1537.2h4.1M1711.8 1578.3h4.1M1711.8 1582.2h4.1M1711.8 1523.1V1722.4M1715.9 1491h4.1M1715.9 1494.8h4.1M1715.9 1562.9h4.1M1715.9 1564.2h4.1M1715.9 1491V1722.4M1720 1472.3h4.1M1720 1491h4.1M1720 1547.5h4.1M1720 1548.8h4.1M1720 1472.3V1722.4M1724.1 1503.2h4.1M1724.1 1511.5h4.1M1724.1 1548.1h4.1M1724.1 1552.6h4.1M1724.1 1472.3V1722.4M1728.1 1544.9h4.1M1728.1 1545.6h4.1M1728.1 1574.5h4.1M1728.1 1575.8h4.1M1728.1 1503.2V1722.4M1732.2 1570h4.1M1732.2 1578.3h4.1M1732.2 1600.2h4.1M1732.2 1602.8h4.1M1732.2 1544.9V1722.4M1736.3 1564.2h4.1M1736.3 1568.1h4.1M1736.3 1591.2h4.1M1736.3 1592.5h4.1M1736.3 1564.2V1722.4M1740.4 1562.3h4.1M1740.4 1568.1h4.1M1740.4 1593.8h4.1M1740.4 1595h4.1M1740.4 1562.3V1722.4M1744.5 1577.1h4.1M1744.5 1582.2h4.1M1744.5 1602.8h4.1M1744.5 1607.9h4.1M1744.5 1562.3V1722.4M1748.5 1592.5h4.1M1748.5 1602.8h4.1M1748.5 1610.5h4.1M1748.5 1615.6h4.1M1748.5 1577.1V1722.4M1752.6 1591.2h4.1M1752.6 1607.9h4.1M1752.6 1611.7h4.1M1752.6 1615.6h4.1M1752.6 1591.2V1722.4M1756.7 1577.1h4.1M1756.7 1586h4.1M1756.7 1601.5h4.1M1756.7 1610.5h4.1M1756.7 1577.1V1722.4M1760.8 1588h4.1M1760.8 1604h4.1M1760.8 1606.6h4.1M1760.8 1613h4.1M1760.8 1577.1V1722.4M1764.9 1602.8h4.1M1764.9 1615.6h4.1M1764.9 1618.2h4.1M1764.9 1622h4.1M1764.9 1588V1722.4M1768.9 1586h4.1M1768.9 1600.2h4.1M1768.9 1607.9h4.1M1768.9 1615.6h4.1M1768.9 1586V1722.4M1773 1580.9h4.1M1773 1589.9h4.1M1773 1602.8h4.1M1773 1610.5h4.1M1773 1580.9V1722.4M1777.1 1562.3h4.1M1777.1 1583.5h4.1M1777.1 1596.3h4.1M1777.1 1605.3h4.1M1777.1 1562.3V1722.4M1781.2 1622h4.1M1781.2 1625.9h4.1M1781.2 1628.5h4.1M1781.2 1633.6h4.1M1781.2 1562.3V1722.4M1785.3 1608.5h4.1M1785.3 1611.7h4.1M1785.3 1622h4.1M1785.3 1628.5h4.1M1785.3 1608.5V1722.4M1789.3 1610.5h4.1M1789.3 1620.7h4.1M1789.3 1623.3h4.1M1789.3 1628.5h4.1M1789.3 1608.5V1722.4M1793.4 1620.7h4.1M1793.4 1625.9h4.1M1793.4 1628.5h4.1M1793.4 1633.6h4.1M1793.4 1610.5V1722.4M1797.5 1614.3h4.1M1797.5 1618.2h4.1M1797.5 1628.5h4.1M1797.5 1633.6h4.1M1797.5 1614.3V1722.4M1801.6 1598.9h4.1M1801.6 1618.2h4.1M1801.6 1620.7h4.1M1801.6 1628.5h4.1M1801.6 1598.9V1722.4M1805.7 1598.9h4.1M1805.7 1602.8h4.1M1805.7 1615.6h4.1M1805.7 1627.2h4.1M1805.7 1598.9V1722.4M1809.7 1606.6h4.1M1809.7 1618.2h4.1M1809.7 1622h4.1M1809.7 1628.5h4.1M1809.7 1598.9V1722.4M1813.8 1370.5h4.1M1813.8 1401.7h4.1M1813.8 1553.9h4.1M1813.8 1573.2h4.1M1813.8 1370.5V1722.4M1817.9 1269.1h4.1M1817.9 1304.3h4.1M1817.9 1535.9h4.1M1817.9 1555.2h4.1M1817.9 1269.1V1722.4M1822 1471h4.1M1822 1483.2h4.1M1822 1591.2h4.1M1822 1592.5h4.1M1822 1269.1V1722.4M1826.1 1614.3h4.1M1826.1 1618.2h4.1M1826.1 1627.2h4.1M1826.1 1631h4.1M1826.1 1471V1722.4M1830.1 1614.3h4.1M1830.1 1620.7h4.1M1830.1 1628.5h4.1M1830.1 1632.3h4.1M1830.1 1614.3V1722.4M1834.2 1600.2h4.1M1834.2 1606.6h4.1M1834.2 1618.2h4.1M1834.2 1627.2h4.1M1834.2 1600.2V1722.4M1838.3 1604h4.1M1838.3 1618.2h4.1M1838.3 1620.7h4.1M1838.3 1628.5h4.1M1838.3 1600.2V1722.4M1842.4 1614.3h4.1M1842.4 1620.7h4.1M1842.4 1628.5h4.1M1842.4 1633.6h4.1M1842.4 1604V1722.4M1846.5 1600.2h4.1M1846.5 1618.2h4.1M1846.5 1620.7h4.1M1846.5 1627.2h4.1M1846.5 1600.2V1722.4M1850.5 1607.9h4.1M1850.5 1620.7h4.1M1850.5 1625.9h4.1M1850.5 1632.3h4.1M1850.5 1600.2V1722.4M1854.6 1595h4.1M1854.6 1614.3h4.1M1854.6 1615.6h4.1M1854.6 1628.5h4.1M1854.6 1595V1722.4M1858.7 1607.9h4.1M1858.7 1628.5h4.1M1858.7 1631h4.1M1858.7 1634.9h4.1M1858.7 1595V1722.4M1862.8 1613h4.1M1862.8 1615.6h4.1M1862.8 1631h4.1M1862.8 1634.9h4.1M1862.8 1607.9V1722.4M1866.9 1600.2h4.1M1866.9 1613h4.1M1866.9 1628.5h4.1M1866.9 1633.6h4.1M1866.9 1600.2V1722.4M1870.9 1583.5h4.1M1870.9 1588.6h4.1M1870.9 1601.5h4.1M1870.9 1609.2h4.1M1870.9 1583.5V1722.4M1875 1572.6h4.1M1875 1580.9h4.1M1875 1592.5h4.1M1875 1600.2h4.1M1875 1572.6V1722.4M1879.1 1530.1h4.1M1879.1 1546.2h4.1M1879.1 1570.6h4.1M1879.1 1582.2h4.1M1879.1 1530.1V1722.4M1883.2 1537.2h4.1M1883.2 1551.4h4.1M1883.2 1573.2h4.1M1883.2 1583.5h4.1M1883.2 1530.1V1722.4M1887.3 1520.5h4.1M1887.3 1539.8h4.1M1887.3 1565.5h4.1M1887.3 1575.8h4.1M1887.3 1520.5V1722.4M1891.3 1526.3h4.1M1891.3 1551.4h4.1M1891.3 1569.3h4.1M1891.3 1580.9h4.1M1891.3 1520.5V1722.4M1895.4 1543.6h4.1M1895.4 1566.8h4.1M1895.4 1591.2h4.1M1895.4 1600.2h4.1M1895.4 1526.3V1722.4M1899.5 1570.6h4.1M1899.5 1589.9h4.1M1899.5 1614.3h4.1M1899.5 1615.6h4.1M1899.5 1543.6V1722.4M1903.6 1550.7h4.1M1903.6 1565.5h4.1M1903.6 1580.9h4.1M1903.6 1597.6h4.1M1903.6 1550.7V1722.4M1907.7 1604h4.1M1907.7 1625.9h4.1M1907.7 1627.2h4.1M1907.7 1631h4.1M1907.7 1550.7V1722.4M1911.7 1604h4.1M1911.7 1627.2h4.1M1911.7 1628.5h4.1M1911.7 1631h4.1M1911.7 1604V1722.4M1915.8 1569.3h4.1M1915.8 1582.8h4.1M1915.8 1605.3h4.1M1915.8 1613h4.1M1915.8 1569.3V1722.4M1919.9 1598.9h4.1M1919.9 1610.5h4.1M1919.9 1620.7h4.1M1919.9 1627.2h4.1M1919.9 1569.3V1722.4M1924 1592.5h4.1M1924 1600.2h4.1M1924 1618.2h4.1M1924 1623.3h4.1M1924 1592.5V1722.4M1928 1602.8h4.1M1928 1615.6h4.1M1928 1623.3h4.1M1928 1628.5h4.1M1928 1592.5V1722.4M1932.1 1589.9h4.1M1932.1 1605.3h4.1M1932.1 1619.5h4.1M1932.1 1627.2h4.1M1932.1 1589.9V1722.4M1936.2 1585.4h4.1M1936.2 1602.8h4.1M1936.2 1615.6h4.1M1936.2 1625.9h4.1M1936.2 1585.4V1722.4M1940.3 1593.8h4.1M1940.3 1607.9h4.1M1940.3 1618.2h4.1M1940.3 1628.5h4.1M1940.3 1585.4V1722.4M1944.4 1607.9h4.1M1944.4 1623.3h4.1M1944.4 1625.9h4.1M1944.4 1631h4.1M1944.4 1593.8V1722.4M1948.4 1607.9h4.1M1948.4 1615.6h4.1M1948.4 1627.2h4.1M1948.4 1631h4.1M1948.4 1607.9V1722.4M1952.5 1610.5h4.1M1952.5 1623.3h4.1M1952.5 1625.9h4.1M1952.5 1632.3h4.1M1952.5 1607.9V1722.4M1956.6 1604h4.1M1956.6 1620.7h4.1M1956.6 1623.3h4.1M1956.6 1631h4.1M1956.6 1604V1722.4M1960.7 1588.6h4.1M1960.7 1611.7h4.1M1960.7 1614.3h4.1M1960.7 1620.7h4.1M1960.7 1588.6V1722.4M1964.8 1598.9h4.1M1964.8 1610.5h4.1M1964.8 1622h4.1M1964.8 1628.5h4.1M1964.8 1588.6V1722.4M1968.8 1609.2h4.1M1968.8 1615.6h4.1M1968.8 1628.5h4.1M1968.8 1633.6h4.1M1968.8 1598.9V1722.4M1972.9 1604h4.1M1972.9 1610.5h4.1M1972.9 1631h4.1M1972.9 1634.9h4.1M1972.9 1604V1722.4M1977 1595h4.1M1977 1615.6h4.1M1977 1618.2h4.1M1977 1624.6h4.1M1977 1595V1722.4M1981.1 1583.5h4.1M1981.1 1600.2h4.1M1981.1 1618.2h4.1M1981.1 1623.3h4.1M1981.1 1583.5V1722.4M1985.2 1598.9h4.1M1985.2 1615.6h4.1M1985.2 1618.2h4.1M1985.2 1625.9h4.1M1985.2 1583.5V1722.4M1989.2 1610.5h4.1M1989.2 1615.6h4.1M1989.2 1628.5h4.1M1989.2 1634.9h4.1M1989.2 1598.9V1722.4M1993.3 1607.9h4.1M1993.3 1628.5h4.1M1993.3 1631h4.1M1993.3 1636.2h4.1M1993.3 1607.9V1722.4M1997.4 1605.3h4.1M1997.4 1625.9h4.1M1997.4 1628.5h4.1M1997.4 1633.6h4.1M1997.4 1605.3V1722.4M2001.5 1598.9h4.1M2001.5 1604h4.1M2001.5 1624.6h4.1M2001.5 1631h4.1M2001.5 1598.9V1722.4M2005.6 1593.8h4.1M2005.6 1602.8h4.1M2005.6 1622h4.1M2005.6 1628.5h4.1M2005.6 1593.8V1722.4M2009.6 1595h4.1M2009.6 1600.2h4.1M2009.6 1622h4.1M2009.6 1627.2h4.1M2009.6 1593.8V1722.4M2013.7 1592.5h4.1M2013.7 1598.9h4.1M2013.7 1618.2h4.1M2013.7 1624.6h4.1M2013.7 1592.5V1722.4M2017.8 1577.1h4.1M2017.8 1592.5h4.1M2017.8 1614.3h4.1M2017.8 1620.7h4.1M2017.8 1577.1V1722.4M2021.9 1591.2h4.1M2021.9 1595h4.1M2021.9 1615.6h4.1M2021.9 1622h4.1M2021.9 1577.1V1722.4M2026 1592.5h4.1M2026 1596.3h4.1M2026 1618.2h4.1M2026 1623.3h4.1M2026 1591.2V1722.4M2030 1595h4.1M2030 1600.2h4.1M2030 1619.5h4.1M2030 1625.9h4.1M2030 1592.5V1722.4M2034.1 1602.8h4.1M2034.1 1606.6h4.1M2034.1 1622h4.1M2034.1 1628.5h4.1M2034.1 1595V1722.4M2038.2 1607.9h4.1M2038.2 1610.5h4.1M2038.2 1625.9h4.1M2038.2 1631h4.1M2038.2 1602.8V1722.4M2042.3 1607.9V1722.4" fill="none" stroke="#000" stroke-width="1.4" stroke-linecap="square" opacity="0.76"/>
</g>
<line x1="1907.7" y1="1010" x2="1907.7" y2="1722.4" stroke="#333" stroke-width="3.6" opacity="0.5"/>
<text transform="translate(1245.2 1771) scale(1.03 1)" font-size="33.8" text-anchor="middle" font-weight="normal" font-style="normal" fill="#1a1a1a" font-family='"Liberation Sans", Arial, Helvetica, sans-serif' >1</text>
<text transform="translate(1325.3 1771) scale(1.03 1)" font-size="33.8" text-anchor="middle" font-weight="normal" font-style="normal" fill="#1a1a1a" font-family='"Liberation Sans", Arial, Helvetica, sans-serif' >21</text>
<text transform="translate(1406.9 1771) scale(1.03 1)" font-size="33.8" text-anchor="middle" font-weight="normal" font-style="normal" fill="#1a1a1a" font-family='"Liberation Sans", Arial, Helvetica, sans-serif' >41</text>
<text transform="translate(1488.5 1771) scale(1.03 1)" font-size="33.8" text-anchor="middle" font-weight="normal" font-style="normal" fill="#1a1a1a" font-family='"Liberation Sans", Arial, Helvetica, sans-serif' >61</text>
<text transform="translate(1570.1 1771) scale(1.03 1)" font-size="33.8" text-anchor="middle" font-weight="normal" font-style="normal" fill="#1a1a1a" font-family='"Liberation Sans", Arial, Helvetica, sans-serif' >81</text>
<text transform="translate(1651.7 1771) scale(1.03 1)" font-size="33.8" text-anchor="middle" font-weight="normal" font-style="normal" fill="#1a1a1a" font-family='"Liberation Sans", Arial, Helvetica, sans-serif' >101</text>
<text transform="translate(1733.3 1771) scale(1.03 1)" font-size="33.8" text-anchor="middle" font-weight="normal" font-style="normal" fill="#1a1a1a" font-family='"Liberation Sans", Arial, Helvetica, sans-serif' >121</text>
<text transform="translate(1814.9 1771) scale(1.03 1)" font-size="33.8" text-anchor="middle" font-weight="normal" font-style="normal" fill="#1a1a1a" font-family='"Liberation Sans", Arial, Helvetica, sans-serif' >141</text>
<text transform="translate(1896.5 1771) scale(1.03 1)" font-size="33.8" text-anchor="middle" font-weight="normal" font-style="normal" fill="#1a1a1a" font-family='"Liberation Sans", Arial, Helvetica, sans-serif' >161</text>
<text transform="translate(1978 1771) scale(1.03 1)" font-size="33.8" text-anchor="middle" font-weight="normal" font-style="normal" fill="#1a1a1a" font-family='"Liberation Sans", Arial, Helvetica, sans-serif' >181</text>
<text transform="translate(1226.1 1736) scale(1.03 1)" font-size="33.8" text-anchor="end" font-weight="normal" font-style="normal" fill="#1a1a1a" font-family='"Liberation Sans", Arial, Helvetica, sans-serif' >0</text>
<text transform="translate(1226.1 1646.8) scale(1.03 1)" font-size="33.8" text-anchor="end" font-weight="normal" font-style="normal" fill="#1a1a1a" font-family='"Liberation Sans", Arial, Helvetica, sans-serif' >5</text>
<text transform="translate(1226.1 1557.6) scale(1.03 1)" font-size="33.8" text-anchor="end" font-weight="normal" font-style="normal" fill="#1a1a1a" font-family='"Liberation Sans", Arial, Helvetica, sans-serif' >10</text>
<text transform="translate(1226.1 1468.4) scale(1.03 1)" font-size="33.8" text-anchor="end" font-weight="normal" font-style="normal" fill="#1a1a1a" font-family='"Liberation Sans", Arial, Helvetica, sans-serif' >15</text>
<text transform="translate(1226.1 1379.2) scale(1.03 1)" font-size="33.8" text-anchor="end" font-weight="normal" font-style="normal" fill="#1a1a1a" font-family='"Liberation Sans", Arial, Helvetica, sans-serif' >20</text>
<text transform="translate(1226.1 1290) scale(1.03 1)" font-size="33.8" text-anchor="end" font-weight="normal" font-style="normal" fill="#1a1a1a" font-family='"Liberation Sans", Arial, Helvetica, sans-serif' >25</text>
<text transform="translate(1226.1 1200.8) scale(1.03 1)" font-size="33.8" text-anchor="end" font-weight="normal" font-style="normal" fill="#1a1a1a" font-family='"Liberation Sans", Arial, Helvetica, sans-serif' >30</text>
<text transform="translate(1226.1 1111.6) scale(1.03 1)" font-size="33.8" text-anchor="end" font-weight="normal" font-style="normal" fill="#1a1a1a" font-family='"Liberation Sans", Arial, Helvetica, sans-serif' >35</text>
<text transform="translate(1226.1 1022.4) scale(1.03 1)" font-size="33.8" text-anchor="end" font-weight="normal" font-style="normal" fill="#1a1a1a" font-family='"Liberation Sans", Arial, Helvetica, sans-serif' >40</text>
<text x="1643.7" y="994" font-size="38.2" text-anchor="middle" font-weight="bold" font-style="normal" fill="#000" font-family='"Liberation Sans", Arial, Helvetica, sans-serif' >Svalbard</text>
<text x="1643" y="1823.6" font-size="38.2" text-anchor="middle" font-weight="normal" font-style="normal" fill="#1a1a1a" font-family='"Liberation Sans", Arial, Helvetica, sans-serif' >Solution number</text>
<g transform="translate(1168.1 0)" font-size="38.2" fill="#1a1a1a" font-family='"Liberation Sans", Arial, Helvetica, sans-serif'>
<text transform="translate(0 1671.6) rotate(-90)" font-size="37.5">Uncertainty of mass change,</text>
<text transform="translate(0 1176) rotate(-90)" font-weight="bold">1</text>
<text transform="translate(0 1157) rotate(-90)" font-style="italic" font-family='"Liberation Serif","DejaVu Serif",serif' font-size="36">σ</text>
<text transform="translate(0 1129) rotate(-90)" textLength="73" lengthAdjust="spacingAndGlyphs">(Gt)</text>
</g>
<text x="1282.3" y="1074.6" font-size="34.6" text-anchor="start" font-weight="bold" font-style="normal" fill="#000" font-family='"Liberation Sans", Arial, Helvetica, sans-serif' >Processing</text>
<text x="1282.3" y="1128.4" font-size="34.6" text-anchor="start" font-weight="normal" font-style="normal" fill="#b40f0f" font-family='"Liberation Sans", Arial, Helvetica, sans-serif' >GFZ RL06</text>
<text x="1282.3" y="1183.5" font-size="34.6" text-anchor="start" font-weight="normal" font-style="normal" fill="#0fb40f" font-family='"Liberation Sans", Arial, Helvetica, sans-serif' >CSR RL06</text>
<text x="1282.3" y="1237.9" font-size="34.6" text-anchor="start" font-weight="normal" font-style="normal" fill="#0f0fb4" font-family='"Liberation Sans", Arial, Helvetica, sans-serif' >JPL RL06</text>
<text x="1282.3" y="1292.3" font-size="34.6" text-anchor="start" font-weight="normal" font-style="normal" fill="#be0fbe" font-family='"Liberation Sans", Arial, Helvetica, sans-serif' >AV RL06</text>
<text x="1095" y="972.4" font-size="38.5" font-weight="bold" fill="#222" stroke="#222" stroke-width="1.3" stroke-linejoin="round" font-family='"Liberation Sans", Arial, Helvetica, sans-serif' transform="translate(1095 0) scale(1.17 1) translate(-1095 0)">d</text>
</svg></body></html>
